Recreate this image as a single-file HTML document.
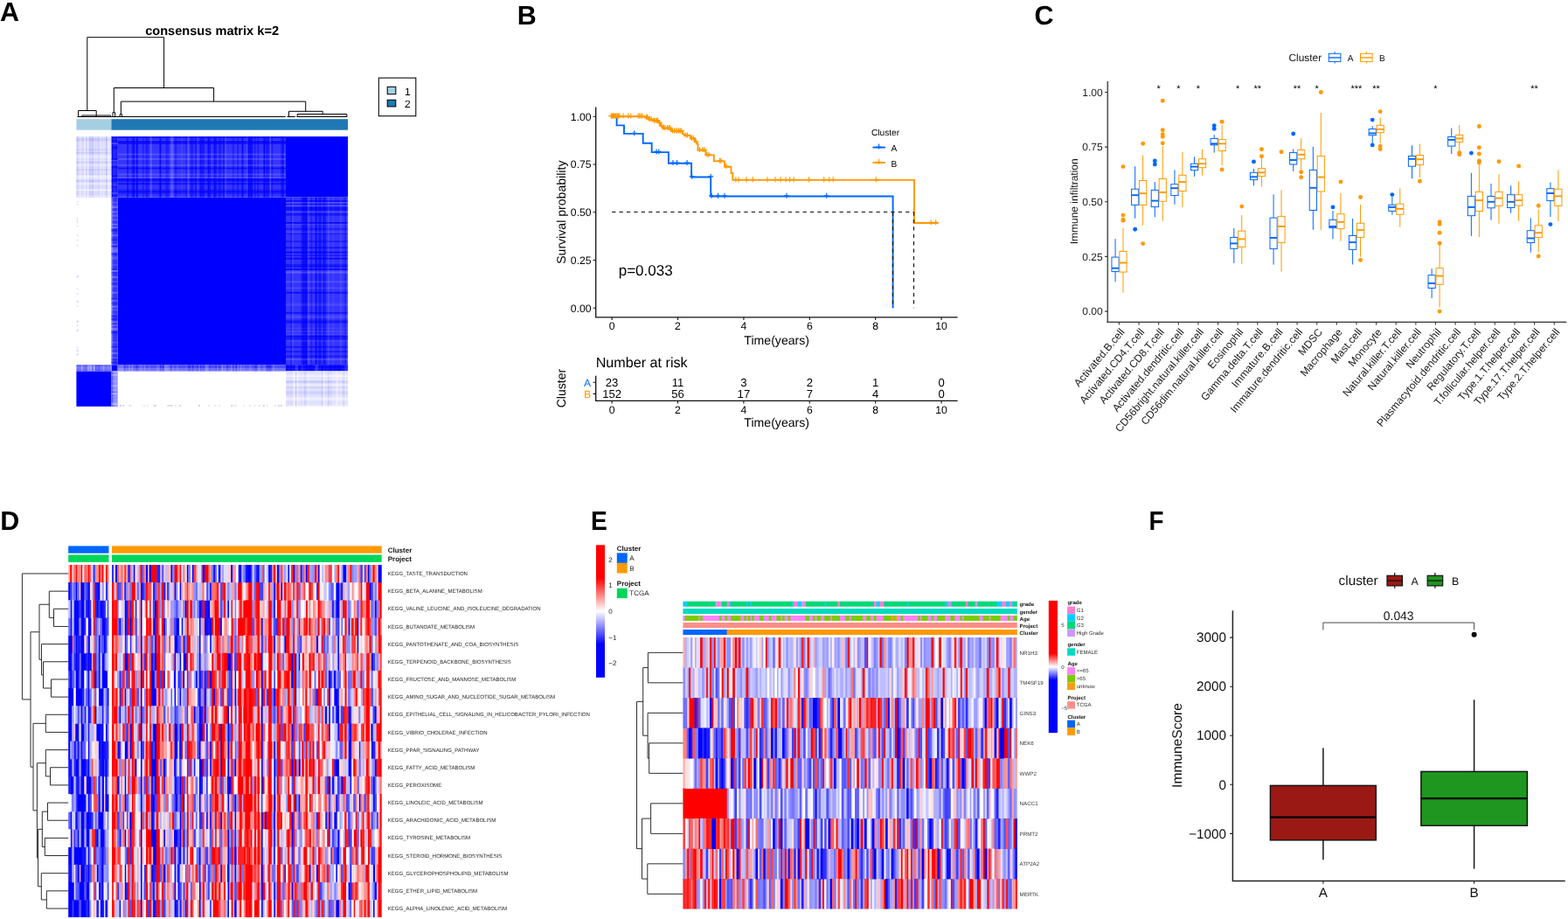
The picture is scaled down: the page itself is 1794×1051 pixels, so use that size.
<!DOCTYPE html>
<html lang="en">
<head>
<meta charset="utf-8">
<title>Figure</title>
<style>
html,body{margin:0;padding:0;background:#fff;}
body{width:1794px;height:1051px;overflow:hidden;}
svg{display:block;font-family:'Liberation Sans', Arial, sans-serif;}
text{white-space:pre;text-rendering:geometricPrecision;}
</style>
</head>
<body>
<svg width="1794" height="1051" viewBox="0 0 1794 1051">
<rect width="1794" height="1051" fill="#fff"/>
<g id="panelA">
<text x="0" y="23.9" font-size="30.5" font-weight="bold">A</text>
<text x="242.6" y="40.3" font-size="14.6" text-anchor="middle" font-weight="bold">consensus matrix k=2</text>
<path d="M99.8 126.5V42.7H187.6V100.5M130.3 128.6V100.5H244.6V116.1M138.4 130.7V116.1H349.7V127.3M89.6 133.5V126.5H110.2V133.5M93.8 133.5V132H126.5V133.5M129 133.5V128.6H131.6V133.5M137.2 133.5V130.7H139.5V133.5M330.5 133.5V127.3H369.2V130.5M340.2 133.5V130.5H396.8V133.5M88.5 133.5H326.8M328.4 133.5H338M339.5 133.5H397.3" stroke="#000" stroke-width="1" fill="none"/>
<rect x="87.4" y="136.2" width="40" height="12.5" fill="#a6cee3"/>
<rect x="127.4" y="136.2" width="270.6" height="12.5" fill="#1f78b4"/>
<rect x="327" y="156.1" width="71.05" height="69.55" fill="#0000ff"/>
<rect x="134.6" y="225.6" width="192.45" height="191.75" fill="#0000ff"/>
<rect x="127.4" y="417.3" width="7.25" height="7.15" fill="#0000ff"/>
<rect x="87.4" y="424.4" width="40.05" height="40.45" fill="#0000ff"/>
<rect x="134.6" y="156.1" width="192.45" height="69.55" fill="#3535ff"/><g fill="#0000ff"><rect x="145.25" y="156.1" width="1.77" height="69.55" fill-opacity="0.63"/><rect x="150.58" y="156.1" width="1.77" height="69.55" fill-opacity="0.52"/><rect x="152.35" y="156.1" width="1.77" height="69.55" fill-opacity="0.8"/><rect x="155.9" y="156.1" width="1.77" height="69.55" fill-opacity="0.89"/><rect x="163" y="156.1" width="1.77" height="69.55" fill-opacity="0.36"/><rect x="166.55" y="156.1" width="1.77" height="69.55" fill-opacity="0.45"/><rect x="168.33" y="156.1" width="1.77" height="69.55" fill-opacity="0.37"/><rect x="182.53" y="156.1" width="1.77" height="69.55" fill-opacity="0.9"/><rect x="189.63" y="156.1" width="1.77" height="69.55" fill-opacity="0.48"/><rect x="191.4" y="156.1" width="1.77" height="69.55" fill-opacity="0.39"/><rect x="200.28" y="156.1" width="1.77" height="69.55" fill-opacity="0.47"/><rect x="212.7" y="156.1" width="1.77" height="69.55" fill-opacity="0.4"/><rect x="218.03" y="156.1" width="1.77" height="69.55" fill-opacity="0.49"/><rect x="219.8" y="156.1" width="1.77" height="69.55" fill-opacity="0.38"/><rect x="223.35" y="156.1" width="1.77" height="69.55" fill-opacity="0.66"/><rect x="228.68" y="156.1" width="1.77" height="69.55" fill-opacity="0.7"/><rect x="230.45" y="156.1" width="1.77" height="69.55" fill-opacity="0.58"/><rect x="232.23" y="156.1" width="1.77" height="69.55" fill-opacity="0.5"/><rect x="237.55" y="156.1" width="1.77" height="69.55" fill-opacity="0.84"/><rect x="239.33" y="156.1" width="1.77" height="69.55" fill-opacity="0.57"/><rect x="244.65" y="156.1" width="1.77" height="69.55" fill-opacity="0.89"/><rect x="246.43" y="156.1" width="1.77" height="69.55" fill-opacity="0.49"/><rect x="249.98" y="156.1" width="1.77" height="69.55" fill-opacity="0.51"/><rect x="251.75" y="156.1" width="1.77" height="69.55" fill-opacity="0.4"/><rect x="255.3" y="156.1" width="1.77" height="69.55" fill-opacity="0.68"/><rect x="265.95" y="156.1" width="1.77" height="69.55" fill-opacity="0.43"/><rect x="271.28" y="156.1" width="1.77" height="69.55" fill-opacity="0.45"/><rect x="276.6" y="156.1" width="1.77" height="69.55" fill-opacity="0.87"/><rect x="283.7" y="156.1" width="1.77" height="69.55" fill-opacity="0.88"/><rect x="285.48" y="156.1" width="1.77" height="69.55" fill-opacity="0.74"/><rect x="287.25" y="156.1" width="1.77" height="69.55" fill-opacity="0.8"/><rect x="290.8" y="156.1" width="1.77" height="69.55" fill-opacity="0.45"/><rect x="294.35" y="156.1" width="1.77" height="69.55" fill-opacity="0.48"/><rect x="301.45" y="156.1" width="1.77" height="69.55" fill-opacity="0.85"/><rect x="303.22" y="156.1" width="1.77" height="69.55" fill-opacity="0.36"/><rect x="305" y="156.1" width="1.77" height="69.55" fill-opacity="0.6"/><rect x="306.77" y="156.1" width="1.77" height="69.55" fill-opacity="0.45"/><rect x="310.32" y="156.1" width="1.77" height="69.55" fill-opacity="0.55"/><rect x="320.97" y="156.1" width="1.77" height="69.55" fill-opacity="0.37"/><rect x="322.75" y="156.1" width="1.77" height="69.55" fill-opacity="0.85"/><rect x="134.6" y="156.1" width="192.45" height="1.77" fill-opacity="0.7"/><rect x="134.6" y="161.43" width="192.45" height="1.77" fill-opacity="0.9"/><rect x="134.6" y="163.2" width="192.45" height="1.77" fill-opacity="0.65"/><rect x="134.6" y="191.6" width="192.45" height="1.77" fill-opacity="0.7"/><rect x="134.6" y="204.03" width="192.45" height="1.77" fill-opacity="0.76"/><rect x="134.6" y="205.8" width="192.45" height="1.77" fill-opacity="0.68"/><rect x="134.6" y="209.35" width="192.45" height="1.77" fill-opacity="0.73"/><rect x="134.6" y="216.45" width="192.45" height="1.77" fill-opacity="0.36"/><rect x="134.6" y="218.23" width="192.45" height="1.77" fill-opacity="0.72"/><rect x="134.6" y="220" width="192.45" height="1.77" fill-opacity="0.44"/></g><g fill="#fff"><rect x="171.88" y="156.1" width="1.77" height="69.55" fill-opacity="0.18"/><rect x="194.95" y="156.1" width="1.77" height="69.55" fill-opacity="0.18"/><rect x="196.73" y="156.1" width="1.77" height="69.55" fill-opacity="0.19"/><rect x="207.38" y="156.1" width="1.77" height="69.55" fill-opacity="0.06"/><rect x="214.48" y="156.1" width="1.77" height="69.55" fill-opacity="0.19"/><rect x="225.13" y="156.1" width="1.77" height="69.55" fill-opacity="0.08"/><rect x="257.08" y="156.1" width="1.77" height="69.55" fill-opacity="0.12"/><rect x="281.93" y="156.1" width="1.77" height="69.55" fill-opacity="0.07"/><rect x="308.55" y="156.1" width="1.77" height="69.55" fill-opacity="0.14"/><rect x="134.6" y="175.63" width="192.45" height="1.77" fill-opacity="0.15"/><rect x="134.6" y="180.95" width="192.45" height="1.77" fill-opacity="0.17"/><rect x="134.6" y="188.05" width="192.45" height="1.77" fill-opacity="0.14"/><rect x="134.6" y="198.7" width="192.45" height="1.77" fill-opacity="0.16"/><rect x="134.6" y="202.25" width="192.45" height="1.77" fill-opacity="0.18"/><rect x="134.6" y="225.33" width="192.45" height="0.27" fill-opacity="0.18"/></g>
<rect x="327" y="225.6" width="71.05" height="191.75" fill="#3535ff"/><g fill="#0000ff"><rect x="332.32" y="225.6" width="1.77" height="191.75" fill-opacity="0.36"/><rect x="344.75" y="225.6" width="1.77" height="191.75" fill-opacity="0.59"/><rect x="346.52" y="225.6" width="1.77" height="191.75" fill-opacity="0.85"/><rect x="348.3" y="225.6" width="1.77" height="191.75" fill-opacity="0.8"/><rect x="350.07" y="225.6" width="1.77" height="191.75" fill-opacity="0.73"/><rect x="355.4" y="225.6" width="1.77" height="191.75" fill-opacity="0.38"/><rect x="360.72" y="225.6" width="1.77" height="191.75" fill-opacity="0.89"/><rect x="364.27" y="225.6" width="1.77" height="191.75" fill-opacity="0.58"/><rect x="366.05" y="225.6" width="1.77" height="191.75" fill-opacity="0.52"/><rect x="369.6" y="225.6" width="1.77" height="191.75" fill-opacity="0.73"/><rect x="371.37" y="225.6" width="1.77" height="191.75" fill-opacity="0.44"/><rect x="394.45" y="225.6" width="1.77" height="191.75" fill-opacity="0.48"/><rect x="327" y="229.15" width="71.05" height="1.77" fill-opacity="0.8"/><rect x="327" y="232.7" width="71.05" height="1.77" fill-opacity="0.58"/><rect x="327" y="236.25" width="71.05" height="1.77" fill-opacity="0.65"/><rect x="327" y="238.03" width="71.05" height="1.77" fill-opacity="0.73"/><rect x="327" y="239.8" width="71.05" height="1.77" fill-opacity="0.5"/><rect x="327" y="243.35" width="71.05" height="1.77" fill-opacity="0.6"/><rect x="327" y="245.13" width="71.05" height="1.77" fill-opacity="0.51"/><rect x="327" y="254" width="71.05" height="1.77" fill-opacity="0.86"/><rect x="327" y="261.1" width="71.05" height="1.77" fill-opacity="0.5"/><rect x="327" y="266.42" width="71.05" height="1.77" fill-opacity="0.37"/><rect x="327" y="275.3" width="71.05" height="1.77" fill-opacity="0.53"/><rect x="327" y="282.4" width="71.05" height="1.77" fill-opacity="0.64"/><rect x="327" y="287.72" width="71.05" height="1.77" fill-opacity="0.87"/><rect x="327" y="291.27" width="71.05" height="1.77" fill-opacity="0.51"/><rect x="327" y="294.82" width="71.05" height="1.77" fill-opacity="0.87"/><rect x="327" y="301.92" width="71.05" height="1.77" fill-opacity="0.51"/><rect x="327" y="303.7" width="71.05" height="1.77" fill-opacity="0.73"/><rect x="327" y="307.25" width="71.05" height="1.77" fill-opacity="0.84"/><rect x="327" y="333.87" width="71.05" height="1.77" fill-opacity="0.74"/><rect x="327" y="356.95" width="71.05" height="1.77" fill-opacity="0.64"/><rect x="327" y="365.82" width="71.05" height="1.77" fill-opacity="0.4"/><rect x="327" y="367.6" width="71.05" height="1.77" fill-opacity="0.73"/><rect x="327" y="383.57" width="71.05" height="1.77" fill-opacity="0.87"/><rect x="327" y="385.35" width="71.05" height="1.77" fill-opacity="0.55"/><rect x="327" y="387.12" width="71.05" height="1.77" fill-opacity="0.46"/><rect x="327" y="396" width="71.05" height="1.77" fill-opacity="0.61"/><rect x="327" y="401.32" width="71.05" height="1.77" fill-opacity="0.6"/><rect x="327" y="406.65" width="71.05" height="1.77" fill-opacity="0.65"/></g><g fill="#fff"><rect x="334.1" y="225.6" width="1.77" height="191.75" fill-opacity="0.09"/><rect x="351.85" y="225.6" width="1.77" height="191.75" fill-opacity="0.11"/><rect x="374.92" y="225.6" width="1.77" height="191.75" fill-opacity="0.11"/><rect x="380.25" y="225.6" width="1.77" height="191.75" fill-opacity="0.05"/><rect x="389.12" y="225.6" width="1.77" height="191.75" fill-opacity="0.1"/><rect x="396.22" y="225.6" width="1.77" height="191.75" fill-opacity="0.13"/><rect x="327" y="230.93" width="71.05" height="1.77" fill-opacity="0.13"/><rect x="327" y="234.48" width="71.05" height="1.77" fill-opacity="0.17"/><rect x="327" y="241.58" width="71.05" height="1.77" fill-opacity="0.15"/><rect x="327" y="255.78" width="71.05" height="1.77" fill-opacity="0.08"/><rect x="327" y="264.65" width="71.05" height="1.77" fill-opacity="0.09"/><rect x="327" y="309.02" width="71.05" height="1.77" fill-opacity="0.09"/><rect x="327" y="310.8" width="71.05" height="1.77" fill-opacity="0.2"/><rect x="327" y="321.45" width="71.05" height="1.77" fill-opacity="0.14"/><rect x="327" y="328.55" width="71.05" height="1.77" fill-opacity="0.11"/><rect x="327" y="346.3" width="71.05" height="1.77" fill-opacity="0.06"/><rect x="327" y="348.07" width="71.05" height="1.77" fill-opacity="0.1"/><rect x="327" y="360.5" width="71.05" height="1.77" fill-opacity="0.09"/><rect x="327" y="362.27" width="71.05" height="1.77" fill-opacity="0.1"/><rect x="327" y="374.7" width="71.05" height="1.77" fill-opacity="0.05"/><rect x="327" y="378.25" width="71.05" height="1.77" fill-opacity="0.08"/><rect x="327" y="381.8" width="71.05" height="1.77" fill-opacity="0.09"/><rect x="327" y="388.9" width="71.05" height="1.77" fill-opacity="0.08"/><rect x="327" y="410.2" width="71.05" height="1.77" fill-opacity="0.15"/></g>
<rect x="127.4" y="156.1" width="7.25" height="69.55" fill="#2626ff"/><g fill="#0000ff"><rect x="127.4" y="156.1" width="1.77" height="69.55" fill-opacity="0.64"/><rect x="132.73" y="156.1" width="1.77" height="69.55" fill-opacity="0.42"/><rect x="127.4" y="156.1" width="7.25" height="1.77" fill-opacity="0.41"/><rect x="127.4" y="159.65" width="7.25" height="1.77" fill-opacity="0.57"/><rect x="127.4" y="161.43" width="7.25" height="1.77" fill-opacity="0.45"/><rect x="127.4" y="166.75" width="7.25" height="1.77" fill-opacity="0.44"/><rect x="127.4" y="168.53" width="7.25" height="1.77" fill-opacity="0.74"/><rect x="127.4" y="180.95" width="7.25" height="1.77" fill-opacity="0.72"/><rect x="127.4" y="189.83" width="7.25" height="1.77" fill-opacity="0.71"/><rect x="127.4" y="200.48" width="7.25" height="1.77" fill-opacity="0.64"/><rect x="127.4" y="204.03" width="7.25" height="1.77" fill-opacity="0.56"/><rect x="127.4" y="205.8" width="7.25" height="1.77" fill-opacity="0.53"/><rect x="127.4" y="212.9" width="7.25" height="1.77" fill-opacity="0.4"/><rect x="127.4" y="223.55" width="7.25" height="1.77" fill-opacity="0.37"/></g><g fill="#fff"><rect x="127.4" y="163.2" width="7.25" height="1.77" fill-opacity="0.18"/><rect x="127.4" y="182.73" width="7.25" height="1.77" fill-opacity="0.16"/><rect x="127.4" y="186.28" width="7.25" height="1.77" fill-opacity="0.1"/><rect x="127.4" y="188.05" width="7.25" height="1.77" fill-opacity="0.1"/><rect x="127.4" y="202.25" width="7.25" height="1.77" fill-opacity="0.08"/><rect x="127.4" y="209.35" width="7.25" height="1.77" fill-opacity="0.07"/><rect x="127.4" y="211.13" width="7.25" height="1.77" fill-opacity="0.09"/><rect x="127.4" y="214.68" width="7.25" height="1.77" fill-opacity="0.06"/><rect x="127.4" y="220" width="7.25" height="1.77" fill-opacity="0.16"/></g>
<rect x="327" y="417.3" width="71.05" height="7.15" fill="#1a1aff"/><g fill="#0000ff"><rect x="327" y="417.3" width="1.77" height="7.15" fill-opacity="0.65"/><rect x="332.32" y="417.3" width="1.77" height="7.15" fill-opacity="0.43"/><rect x="341.2" y="417.3" width="1.77" height="7.15" fill-opacity="0.41"/><rect x="350.07" y="417.3" width="1.77" height="7.15" fill-opacity="0.58"/><rect x="353.62" y="417.3" width="1.77" height="7.15" fill-opacity="0.63"/><rect x="355.4" y="417.3" width="1.77" height="7.15" fill-opacity="0.47"/><rect x="357.17" y="417.3" width="1.77" height="7.15" fill-opacity="0.4"/><rect x="367.82" y="417.3" width="1.77" height="7.15" fill-opacity="0.59"/><rect x="371.37" y="417.3" width="1.77" height="7.15" fill-opacity="0.35"/><rect x="376.7" y="417.3" width="1.77" height="7.15" fill-opacity="0.53"/><rect x="378.47" y="417.3" width="1.77" height="7.15" fill-opacity="0.7"/><rect x="382.02" y="417.3" width="1.77" height="7.15" fill-opacity="0.71"/><rect x="383.8" y="417.3" width="1.77" height="7.15" fill-opacity="0.44"/><rect x="385.57" y="417.3" width="1.77" height="7.15" fill-opacity="0.67"/><rect x="387.35" y="417.3" width="1.77" height="7.15" fill-opacity="0.56"/><rect x="389.12" y="417.3" width="1.77" height="7.15" fill-opacity="0.54"/><rect x="327" y="417.3" width="71.05" height="1.77" fill-opacity="0.54"/><rect x="327" y="419.07" width="71.05" height="1.77" fill-opacity="0.73"/><rect x="327" y="422.62" width="71.05" height="1.77" fill-opacity="0.37"/></g><g fill="#fff"><rect x="337.65" y="417.3" width="1.77" height="7.15" fill-opacity="0.15"/><rect x="339.42" y="417.3" width="1.77" height="7.15" fill-opacity="0.17"/><rect x="344.75" y="417.3" width="1.77" height="7.15" fill-opacity="0.09"/><rect x="360.72" y="417.3" width="1.77" height="7.15" fill-opacity="0.2"/><rect x="362.5" y="417.3" width="1.77" height="7.15" fill-opacity="0.14"/><rect x="394.45" y="417.3" width="1.77" height="7.15" fill-opacity="0.12"/><rect x="396.22" y="417.3" width="1.77" height="7.15" fill-opacity="0.14"/></g>
<rect x="127.4" y="225.6" width="7.25" height="191.75" fill="#6262ff"/><g fill="#0000ff"><rect x="129.18" y="225.6" width="1.77" height="191.75" fill-opacity="0.42"/><rect x="130.95" y="225.6" width="1.77" height="191.75" fill-opacity="0.5"/><rect x="132.73" y="225.6" width="1.77" height="191.75" fill-opacity="0.46"/><rect x="127.4" y="261.1" width="7.25" height="1.77" fill-opacity="0.24"/><rect x="127.4" y="262.88" width="7.25" height="1.77" fill-opacity="0.48"/><rect x="127.4" y="271.75" width="7.25" height="1.77" fill-opacity="0.23"/><rect x="127.4" y="273.52" width="7.25" height="1.77" fill-opacity="0.34"/><rect x="127.4" y="280.62" width="7.25" height="1.77" fill-opacity="0.48"/><rect x="127.4" y="289.5" width="7.25" height="1.77" fill-opacity="0.47"/><rect x="127.4" y="307.25" width="7.25" height="1.77" fill-opacity="0.35"/><rect x="127.4" y="310.8" width="7.25" height="1.77" fill-opacity="0.22"/><rect x="127.4" y="323.22" width="7.25" height="1.77" fill-opacity="0.3"/><rect x="127.4" y="340.97" width="7.25" height="1.77" fill-opacity="0.4"/><rect x="127.4" y="346.3" width="7.25" height="1.77" fill-opacity="0.27"/><rect x="127.4" y="360.5" width="7.25" height="1.77" fill-opacity="0.46"/><rect x="127.4" y="364.05" width="7.25" height="1.77" fill-opacity="0.45"/><rect x="127.4" y="369.37" width="7.25" height="1.77" fill-opacity="0.23"/><rect x="127.4" y="378.25" width="7.25" height="1.77" fill-opacity="0.43"/><rect x="127.4" y="380.02" width="7.25" height="1.77" fill-opacity="0.4"/><rect x="127.4" y="396" width="7.25" height="1.77" fill-opacity="0.36"/><rect x="127.4" y="410.2" width="7.25" height="1.77" fill-opacity="0.28"/><rect x="127.4" y="413.75" width="7.25" height="1.77" fill-opacity="0.47"/></g><g fill="#fff"><rect x="127.4" y="230.93" width="7.25" height="1.77" fill-opacity="0.17"/><rect x="127.4" y="234.48" width="7.25" height="1.77" fill-opacity="0.15"/><rect x="127.4" y="236.25" width="7.25" height="1.77" fill-opacity="0.27"/><rect x="127.4" y="241.58" width="7.25" height="1.77" fill-opacity="0.28"/><rect x="127.4" y="245.13" width="7.25" height="1.77" fill-opacity="0.19"/><rect x="127.4" y="246.9" width="7.25" height="1.77" fill-opacity="0.12"/><rect x="127.4" y="250.45" width="7.25" height="1.77" fill-opacity="0.21"/><rect x="127.4" y="255.78" width="7.25" height="1.77" fill-opacity="0.27"/><rect x="127.4" y="259.33" width="7.25" height="1.77" fill-opacity="0.29"/><rect x="127.4" y="268.2" width="7.25" height="1.77" fill-opacity="0.2"/><rect x="127.4" y="278.85" width="7.25" height="1.77" fill-opacity="0.2"/><rect x="127.4" y="282.4" width="7.25" height="1.77" fill-opacity="0.15"/><rect x="127.4" y="284.17" width="7.25" height="1.77" fill-opacity="0.26"/><rect x="127.4" y="285.95" width="7.25" height="1.77" fill-opacity="0.28"/><rect x="127.4" y="287.72" width="7.25" height="1.77" fill-opacity="0.19"/><rect x="127.4" y="293.05" width="7.25" height="1.77" fill-opacity="0.12"/><rect x="127.4" y="294.82" width="7.25" height="1.77" fill-opacity="0.18"/><rect x="127.4" y="301.92" width="7.25" height="1.77" fill-opacity="0.11"/><rect x="127.4" y="309.02" width="7.25" height="1.77" fill-opacity="0.3"/><rect x="127.4" y="316.12" width="7.25" height="1.77" fill-opacity="0.26"/><rect x="127.4" y="321.45" width="7.25" height="1.77" fill-opacity="0.12"/><rect x="127.4" y="326.77" width="7.25" height="1.77" fill-opacity="0.17"/><rect x="127.4" y="333.87" width="7.25" height="1.77" fill-opacity="0.26"/><rect x="127.4" y="342.75" width="7.25" height="1.77" fill-opacity="0.18"/><rect x="127.4" y="349.85" width="7.25" height="1.77" fill-opacity="0.28"/><rect x="127.4" y="353.4" width="7.25" height="1.77" fill-opacity="0.16"/><rect x="127.4" y="358.72" width="7.25" height="1.77" fill-opacity="0.11"/><rect x="127.4" y="367.6" width="7.25" height="1.77" fill-opacity="0.28"/><rect x="127.4" y="371.15" width="7.25" height="1.77" fill-opacity="0.25"/><rect x="127.4" y="374.7" width="7.25" height="1.77" fill-opacity="0.28"/><rect x="127.4" y="376.47" width="7.25" height="1.77" fill-opacity="0.26"/><rect x="127.4" y="390.67" width="7.25" height="1.77" fill-opacity="0.15"/><rect x="127.4" y="397.77" width="7.25" height="1.77" fill-opacity="0.13"/><rect x="127.4" y="403.1" width="7.25" height="1.77" fill-opacity="0.27"/><rect x="127.4" y="408.42" width="7.25" height="1.77" fill-opacity="0.15"/></g>
<rect x="134.6" y="417.3" width="192.45" height="7.15" fill="#4c4cff"/><g fill="#0000ff"><rect x="141.7" y="417.3" width="1.77" height="7.15" fill-opacity="0.29"/><rect x="155.9" y="417.3" width="1.77" height="7.15" fill-opacity="0.34"/><rect x="182.53" y="417.3" width="1.77" height="7.15" fill-opacity="0.41"/><rect x="186.08" y="417.3" width="1.77" height="7.15" fill-opacity="0.45"/><rect x="194.95" y="417.3" width="1.77" height="7.15" fill-opacity="0.27"/><rect x="214.48" y="417.3" width="1.77" height="7.15" fill-opacity="0.24"/><rect x="216.25" y="417.3" width="1.77" height="7.15" fill-opacity="0.39"/><rect x="219.8" y="417.3" width="1.77" height="7.15" fill-opacity="0.41"/><rect x="225.13" y="417.3" width="1.77" height="7.15" fill-opacity="0.39"/><rect x="228.68" y="417.3" width="1.77" height="7.15" fill-opacity="0.36"/><rect x="232.23" y="417.3" width="1.77" height="7.15" fill-opacity="0.24"/><rect x="239.33" y="417.3" width="1.77" height="7.15" fill-opacity="0.26"/><rect x="246.43" y="417.3" width="1.77" height="7.15" fill-opacity="0.26"/><rect x="249.98" y="417.3" width="1.77" height="7.15" fill-opacity="0.33"/><rect x="258.85" y="417.3" width="1.77" height="7.15" fill-opacity="0.4"/><rect x="265.95" y="417.3" width="1.77" height="7.15" fill-opacity="0.29"/><rect x="269.5" y="417.3" width="1.77" height="7.15" fill-opacity="0.5"/><rect x="290.8" y="417.3" width="1.77" height="7.15" fill-opacity="0.3"/><rect x="292.57" y="417.3" width="1.77" height="7.15" fill-opacity="0.41"/><rect x="305" y="417.3" width="1.77" height="7.15" fill-opacity="0.47"/><rect x="306.77" y="417.3" width="1.77" height="7.15" fill-opacity="0.39"/><rect x="308.55" y="417.3" width="1.77" height="7.15" fill-opacity="0.49"/></g><g fill="#fff"><rect x="134.6" y="417.3" width="1.77" height="7.15" fill-opacity="0.2"/><rect x="136.38" y="417.3" width="1.77" height="7.15" fill-opacity="0.19"/><rect x="138.15" y="417.3" width="1.77" height="7.15" fill-opacity="0.23"/><rect x="139.93" y="417.3" width="1.77" height="7.15" fill-opacity="0.23"/><rect x="143.48" y="417.3" width="1.77" height="7.15" fill-opacity="0.13"/><rect x="147.03" y="417.3" width="1.77" height="7.15" fill-opacity="0.26"/><rect x="150.58" y="417.3" width="1.77" height="7.15" fill-opacity="0.28"/><rect x="159.45" y="417.3" width="1.77" height="7.15" fill-opacity="0.14"/><rect x="161.23" y="417.3" width="1.77" height="7.15" fill-opacity="0.15"/><rect x="164.78" y="417.3" width="1.77" height="7.15" fill-opacity="0.18"/><rect x="170.1" y="417.3" width="1.77" height="7.15" fill-opacity="0.11"/><rect x="178.98" y="417.3" width="1.77" height="7.15" fill-opacity="0.13"/><rect x="180.75" y="417.3" width="1.77" height="7.15" fill-opacity="0.19"/><rect x="187.85" y="417.3" width="1.77" height="7.15" fill-opacity="0.28"/><rect x="189.63" y="417.3" width="1.77" height="7.15" fill-opacity="0.26"/><rect x="191.4" y="417.3" width="1.77" height="7.15" fill-opacity="0.22"/><rect x="193.18" y="417.3" width="1.77" height="7.15" fill-opacity="0.1"/><rect x="196.73" y="417.3" width="1.77" height="7.15" fill-opacity="0.17"/><rect x="202.05" y="417.3" width="1.77" height="7.15" fill-opacity="0.16"/><rect x="212.7" y="417.3" width="1.77" height="7.15" fill-opacity="0.12"/><rect x="226.9" y="417.3" width="1.77" height="7.15" fill-opacity="0.14"/><rect x="234" y="417.3" width="1.77" height="7.15" fill-opacity="0.11"/><rect x="235.78" y="417.3" width="1.77" height="7.15" fill-opacity="0.25"/><rect x="237.55" y="417.3" width="1.77" height="7.15" fill-opacity="0.11"/><rect x="248.2" y="417.3" width="1.77" height="7.15" fill-opacity="0.12"/><rect x="253.53" y="417.3" width="1.77" height="7.15" fill-opacity="0.28"/><rect x="257.08" y="417.3" width="1.77" height="7.15" fill-opacity="0.14"/><rect x="264.18" y="417.3" width="1.77" height="7.15" fill-opacity="0.19"/><rect x="267.73" y="417.3" width="1.77" height="7.15" fill-opacity="0.12"/><rect x="271.28" y="417.3" width="1.77" height="7.15" fill-opacity="0.2"/><rect x="274.83" y="417.3" width="1.77" height="7.15" fill-opacity="0.22"/><rect x="278.38" y="417.3" width="1.77" height="7.15" fill-opacity="0.12"/><rect x="285.48" y="417.3" width="1.77" height="7.15" fill-opacity="0.19"/><rect x="294.35" y="417.3" width="1.77" height="7.15" fill-opacity="0.18"/><rect x="296.12" y="417.3" width="1.77" height="7.15" fill-opacity="0.19"/><rect x="301.45" y="417.3" width="1.77" height="7.15" fill-opacity="0.18"/><rect x="312.1" y="417.3" width="1.77" height="7.15" fill-opacity="0.2"/><rect x="134.6" y="420.85" width="192.45" height="1.77" fill-opacity="0.22"/><rect x="134.6" y="422.62" width="192.45" height="1.77" fill-opacity="0.24"/></g>
<rect x="87.4" y="417.3" width="40.05" height="7.15" fill="#7878ff"/><g fill="#0000ff"><rect x="98.05" y="417.3" width="1.77" height="7.15" fill-opacity="0.11"/><rect x="108.7" y="417.3" width="1.77" height="7.15" fill-opacity="0.26"/><rect x="112.25" y="417.3" width="1.77" height="7.15" fill-opacity="0.24"/><rect x="87.4" y="417.3" width="40.05" height="1.77" fill-opacity="0.26"/><rect x="87.4" y="422.62" width="40.05" height="1.77" fill-opacity="0.17"/></g><g fill="#fff"><rect x="92.73" y="417.3" width="1.77" height="7.15" fill-opacity="0.33"/><rect x="99.83" y="417.3" width="1.77" height="7.15" fill-opacity="0.32"/><rect x="101.6" y="417.3" width="1.77" height="7.15" fill-opacity="0.25"/><rect x="103.38" y="417.3" width="1.77" height="7.15" fill-opacity="0.35"/><rect x="106.93" y="417.3" width="1.77" height="7.15" fill-opacity="0.4"/><rect x="117.58" y="417.3" width="1.77" height="7.15" fill-opacity="0.26"/><rect x="122.9" y="417.3" width="1.77" height="7.15" fill-opacity="0.12"/><rect x="126.45" y="417.3" width="0.95" height="7.15" fill-opacity="0.4"/></g>
<rect x="127.4" y="424.4" width="7.25" height="40.45" fill="#7575ff"/><g fill="#0000ff"><rect x="127.4" y="424.4" width="1.77" height="40.45" fill-opacity="0.23"/><rect x="127.4" y="447.47" width="7.25" height="1.77" fill-opacity="0.3"/><rect x="127.4" y="463.45" width="7.25" height="1.35" fill-opacity="0.24"/></g><g fill="#fff"><rect x="129.18" y="424.4" width="1.77" height="40.45" fill-opacity="0.16"/><rect x="130.95" y="424.4" width="1.77" height="40.45" fill-opacity="0.25"/><rect x="132.73" y="424.4" width="1.77" height="40.45" fill-opacity="0.24"/><rect x="127.4" y="424.4" width="7.25" height="1.77" fill-opacity="0.18"/><rect x="127.4" y="427.95" width="7.25" height="1.77" fill-opacity="0.3"/><rect x="127.4" y="435.05" width="7.25" height="1.77" fill-opacity="0.17"/><rect x="127.4" y="440.37" width="7.25" height="1.77" fill-opacity="0.3"/><rect x="127.4" y="445.7" width="7.25" height="1.77" fill-opacity="0.19"/><rect x="127.4" y="449.25" width="7.25" height="1.77" fill-opacity="0.32"/><rect x="127.4" y="459.9" width="7.25" height="1.77" fill-opacity="0.13"/><rect x="127.4" y="461.67" width="7.25" height="1.77" fill-opacity="0.38"/></g>
<rect x="87.4" y="156.1" width="40.05" height="69.55" fill="#dcdcff"/><g fill="#0000ff"><rect x="87.4" y="156.1" width="1.77" height="69.55" fill-opacity="0.08"/><rect x="98.05" y="156.1" width="1.77" height="69.55" fill-opacity="0.03"/><rect x="101.6" y="156.1" width="1.77" height="69.55" fill-opacity="0.09"/><rect x="103.38" y="156.1" width="1.77" height="69.55" fill-opacity="0.05"/><rect x="105.15" y="156.1" width="1.77" height="69.55" fill-opacity="0.1"/><rect x="112.25" y="156.1" width="1.77" height="69.55" fill-opacity="0.05"/><rect x="121.13" y="156.1" width="1.77" height="69.55" fill-opacity="0.09"/><rect x="126.45" y="156.1" width="0.95" height="69.55" fill-opacity="0.03"/><rect x="87.4" y="157.88" width="40.05" height="1.77" fill-opacity="0.08"/><rect x="87.4" y="159.65" width="40.05" height="1.77" fill-opacity="0.1"/><rect x="87.4" y="170.3" width="40.05" height="1.77" fill-opacity="0.06"/><rect x="87.4" y="173.85" width="40.05" height="1.77" fill-opacity="0.09"/><rect x="87.4" y="184.5" width="40.05" height="1.77" fill-opacity="0.08"/><rect x="87.4" y="193.38" width="40.05" height="1.77" fill-opacity="0.07"/><rect x="87.4" y="198.7" width="40.05" height="1.77" fill-opacity="0.04"/><rect x="87.4" y="205.8" width="40.05" height="1.77" fill-opacity="0.09"/><rect x="87.4" y="225.33" width="40.05" height="0.27" fill-opacity="0.09"/></g><g fill="#fff"><rect x="90.95" y="156.1" width="1.77" height="69.55" fill-opacity="0.29"/><rect x="96.28" y="156.1" width="1.77" height="69.55" fill-opacity="0.4"/><rect x="99.83" y="156.1" width="1.77" height="69.55" fill-opacity="0.43"/><rect x="114.03" y="156.1" width="1.77" height="69.55" fill-opacity="0.25"/><rect x="117.58" y="156.1" width="1.77" height="69.55" fill-opacity="0.26"/><rect x="122.9" y="156.1" width="1.77" height="69.55" fill-opacity="0.42"/><rect x="124.68" y="156.1" width="1.77" height="69.55" fill-opacity="0.39"/><rect x="87.4" y="177.4" width="40.05" height="1.77" fill-opacity="0.35"/><rect x="87.4" y="179.18" width="40.05" height="1.77" fill-opacity="0.35"/><rect x="87.4" y="182.73" width="40.05" height="1.77" fill-opacity="0.21"/><rect x="87.4" y="188.05" width="40.05" height="1.77" fill-opacity="0.4"/><rect x="87.4" y="200.48" width="40.05" height="1.77" fill-opacity="0.57"/><rect x="87.4" y="202.25" width="40.05" height="1.77" fill-opacity="0.44"/><rect x="87.4" y="204.03" width="40.05" height="1.77" fill-opacity="0.24"/><rect x="87.4" y="209.35" width="40.05" height="1.77" fill-opacity="0.47"/><rect x="87.4" y="216.45" width="40.05" height="1.77" fill-opacity="0.6"/><rect x="87.4" y="223.55" width="40.05" height="1.77" fill-opacity="0.35"/></g>
<rect x="327" y="424.4" width="71.05" height="40.45" fill="#e0e0ff"/><g fill="#0000ff"><rect x="328.77" y="424.4" width="1.77" height="40.45" fill-opacity="0.03"/><rect x="332.32" y="424.4" width="1.77" height="40.45" fill-opacity="0.04"/><rect x="337.65" y="424.4" width="1.77" height="40.45" fill-opacity="0.1"/><rect x="348.3" y="424.4" width="1.77" height="40.45" fill-opacity="0.09"/><rect x="367.82" y="424.4" width="1.77" height="40.45" fill-opacity="0.1"/><rect x="374.92" y="424.4" width="1.77" height="40.45" fill-opacity="0.09"/><rect x="378.47" y="424.4" width="1.77" height="40.45" fill-opacity="0.03"/><rect x="392.67" y="424.4" width="1.77" height="40.45" fill-opacity="0.07"/><rect x="327" y="435.05" width="71.05" height="1.77" fill-opacity="0.09"/><rect x="327" y="436.82" width="71.05" height="1.77" fill-opacity="0.07"/><rect x="327" y="442.15" width="71.05" height="1.77" fill-opacity="0.07"/><rect x="327" y="447.47" width="71.05" height="1.77" fill-opacity="0.08"/><rect x="327" y="449.25" width="71.05" height="1.77" fill-opacity="0.06"/></g><g fill="#fff"><rect x="335.87" y="424.4" width="1.77" height="40.45" fill-opacity="0.56"/><rect x="339.42" y="424.4" width="1.77" height="40.45" fill-opacity="0.44"/><rect x="351.85" y="424.4" width="1.77" height="40.45" fill-opacity="0.28"/><rect x="369.6" y="424.4" width="1.77" height="40.45" fill-opacity="0.51"/><rect x="380.25" y="424.4" width="1.77" height="40.45" fill-opacity="0.21"/><rect x="383.8" y="424.4" width="1.77" height="40.45" fill-opacity="0.41"/><rect x="385.57" y="424.4" width="1.77" height="40.45" fill-opacity="0.46"/><rect x="389.12" y="424.4" width="1.77" height="40.45" fill-opacity="0.35"/><rect x="394.45" y="424.4" width="1.77" height="40.45" fill-opacity="0.37"/><rect x="327" y="424.4" width="71.05" height="1.77" fill-opacity="0.24"/><rect x="327" y="427.95" width="71.05" height="1.77" fill-opacity="0.37"/><rect x="327" y="429.72" width="71.05" height="1.77" fill-opacity="0.57"/><rect x="327" y="433.27" width="71.05" height="1.77" fill-opacity="0.36"/><rect x="327" y="438.6" width="71.05" height="1.77" fill-opacity="0.33"/><rect x="327" y="440.37" width="71.05" height="1.77" fill-opacity="0.28"/><rect x="327" y="454.57" width="71.05" height="1.77" fill-opacity="0.54"/><rect x="327" y="456.35" width="71.05" height="1.77" fill-opacity="0.41"/><rect x="327" y="463.45" width="71.05" height="1.35" fill-opacity="0.49"/></g>
<g fill="#0000ff" fill-opacity="0.13"><rect x="87.7" y="344.52" width="1.8" height="1.8"/><rect x="87.7" y="366.83" width="1.8" height="1.8"/><rect x="87.7" y="376.86" width="1.8" height="1.8"/><rect x="87.7" y="404.5" width="1.8" height="1.8"/><rect x="87.7" y="366.48" width="1.8" height="1.8"/><rect x="87.7" y="400.72" width="1.8" height="1.8"/><rect x="87.7" y="233.04" width="1.8" height="1.8"/><rect x="87.7" y="315" width="1.8" height="1.8"/><rect x="87.7" y="404.67" width="1.8" height="1.8"/><rect x="87.7" y="349.41" width="1.8" height="1.8"/><rect x="87.7" y="396.7" width="1.8" height="1.8"/><rect x="87.7" y="248.85" width="1.8" height="1.8"/><rect x="87.7" y="315.64" width="1.8" height="1.8"/><rect x="87.7" y="273.88" width="1.8" height="1.8"/><rect x="87.7" y="329.66" width="1.8" height="1.8"/><rect x="87.7" y="335.33" width="1.8" height="1.8"/><rect x="87.7" y="230.06" width="1.8" height="1.8"/><rect x="87.7" y="268.28" width="1.8" height="1.8"/><rect x="87.7" y="280.06" width="1.8" height="1.8"/><rect x="87.7" y="399.6" width="1.8" height="1.8"/><rect x="87.7" y="371.33" width="1.8" height="1.8"/><rect x="87.7" y="257.56" width="1.8" height="1.8"/><rect x="87.7" y="377.22" width="1.8" height="1.8"/><rect x="87.7" y="253.65" width="1.8" height="1.8"/><rect x="87.7" y="343.5" width="1.8" height="1.8"/><rect x="87.7" y="251.38" width="1.8" height="1.8"/><rect x="136.93" y="463.1" width="1.8" height="1.6"/><rect x="300.77" y="463.1" width="1.8" height="1.6"/><rect x="176.06" y="463.1" width="1.8" height="1.6"/><rect x="177.2" y="463.1" width="1.8" height="1.6"/><rect x="321.69" y="463.1" width="1.8" height="1.6"/><rect x="300.96" y="463.1" width="1.8" height="1.6"/><rect x="191.11" y="463.1" width="1.8" height="1.6"/><rect x="317.74" y="463.1" width="1.8" height="1.6"/><rect x="238.19" y="463.1" width="1.8" height="1.6"/><rect x="264.3" y="463.1" width="1.8" height="1.6"/><rect x="175.18" y="463.1" width="1.8" height="1.6"/><rect x="313.88" y="463.1" width="1.8" height="1.6"/><rect x="266.72" y="463.1" width="1.8" height="1.6"/><rect x="318.7" y="463.1" width="1.8" height="1.6"/><rect x="304.98" y="463.1" width="1.8" height="1.6"/><rect x="192.89" y="463.1" width="1.8" height="1.6"/><rect x="204.65" y="463.1" width="1.8" height="1.6"/><rect x="167.87" y="463.1" width="1.8" height="1.6"/><rect x="164.05" y="463.1" width="1.8" height="1.6"/><rect x="148.87" y="463.1" width="1.8" height="1.6"/><rect x="193.38" y="463.1" width="1.8" height="1.6"/><rect x="250.23" y="463.1" width="1.8" height="1.6"/><rect x="137.24" y="463.1" width="1.8" height="1.6"/><rect x="264.32" y="463.1" width="1.8" height="1.6"/><rect x="200.26" y="463.1" width="1.8" height="1.6"/><rect x="195" y="463.1" width="1.8" height="1.6"/><rect x="290.81" y="463.1" width="1.8" height="1.6"/><rect x="227.17" y="463.1" width="1.8" height="1.6"/><rect x="196.1" y="463.1" width="1.8" height="1.6"/><rect x="227.26" y="463.1" width="1.8" height="1.6"/><rect x="269.36" y="463.1" width="1.8" height="1.6"/><rect x="147.34" y="463.1" width="1.8" height="1.6"/><rect x="320.31" y="463.1" width="1.8" height="1.6"/><rect x="140.91" y="463.1" width="1.8" height="1.6"/><rect x="277.86" y="463.1" width="1.8" height="1.6"/><rect x="295.78" y="463.1" width="1.8" height="1.6"/><rect x="140" y="463.1" width="1.8" height="1.6"/><rect x="285.01" y="463.1" width="1.8" height="1.6"/><rect x="205.59" y="463.1" width="1.8" height="1.6"/><rect x="245.59" y="463.1" width="1.8" height="1.6"/></g>
<rect x="433.3" y="89.1" width="42.5" height="43.6" fill="#fff" stroke="#000" stroke-width="1.05"/>
<rect x="443.2" y="99.3" width="9.6" height="8.4" fill="#a6cee3" stroke="#000" stroke-width="1.05"/>
<rect x="443.2" y="114.3" width="9.6" height="7.6" fill="#1f78b4" stroke="#000" stroke-width="1.05"/>
<text x="463" y="108.6" font-size="12" fill="#000">1</text>
<text x="463" y="123.2" font-size="12" fill="#000">2</text>
</g>
<g id="panelB">
<text x="591.7" y="28.1" font-size="30.5" font-weight="bold">B</text>
<path d="M681.7 122.5V362.9H1095.6" stroke="#111" stroke-width="1.3" fill="none"/>
<path d="M678.6 352.3H681.7M678.6 297.55H681.7M678.6 242.8H681.7M678.6 188.05H681.7M678.6 133.3H681.7M700.1 362.9V366M775.5 362.9V366M850.9 362.9V366M926.3 362.9V366M1001.7 362.9V366M1077.1 362.9V366" stroke="#111" stroke-width="1.1" fill="none"/>
<text x="676.6" y="356.5" font-size="12.2" text-anchor="end" fill="#000">0.00</text>
<text x="676.6" y="301.75" font-size="12.2" text-anchor="end" fill="#000">0.25</text>
<text x="676.6" y="247" font-size="12.2" text-anchor="end" fill="#000">0.50</text>
<text x="676.6" y="192.25" font-size="12.2" text-anchor="end" fill="#000">0.75</text>
<text x="676.6" y="137.5" font-size="12.2" text-anchor="end" fill="#000">1.00</text>
<text x="700.1" y="376.8" font-size="12.2" text-anchor="middle" fill="#000">0</text>
<text x="775.5" y="376.8" font-size="12.2" text-anchor="middle" fill="#000">2</text>
<text x="850.9" y="376.8" font-size="12.2" text-anchor="middle" fill="#000">4</text>
<text x="926.3" y="376.8" font-size="12.2" text-anchor="middle" fill="#000">6</text>
<text x="1001.7" y="376.8" font-size="12.2" text-anchor="middle" fill="#000">8</text>
<text x="1077.1" y="376.8" font-size="12.2" text-anchor="middle" fill="#000">10</text>
<text x="888.7" y="393.9" font-size="14.1" text-anchor="middle" fill="#000">Time(years)</text>
<text x="646.8" y="242.7" font-size="14.1" text-anchor="middle" fill="#000" transform="rotate(-90 646.8 242.7)">Survival probability</text>
<path d="M700.1 133.3L705.6 133.3L705.6 143.4L714 143.4L714 152.9L735.7 152.9L735.7 163.7L745.7 163.7L745.7 174.1L764.9 174.1L764.9 186.7L791.1 186.7L791.1 202.5L813.2 202.5L813.2 224.5L1021.6 224.5L1021.6 352.3" stroke="#0066ff" stroke-width="1.9" fill="none" stroke-linejoin="miter"/>
<path d="M725.7 149.2v6M722.7 152.2h6M751.1 170.4v6M748.1 173.4h6M753.8 170.4v6M750.8 173.4h6M770 183v6M767 186h6M774.5 183v6M771.5 186h6M786.1 183v6M783.1 186h6M791.7 198.8v6M788.7 201.8h6M813.2 198.8v6M810.2 201.8h6M814.1 220.8v6M811.1 223.8h6M821.5 220.8v6M818.5 223.8h6M829 220.8v6M826 223.8h6M900 220.8v6M897 223.8h6M945.7 220.8v6M942.7 223.8h6" stroke="#0066ff" stroke-width="1.15" fill="none"/>
<path d="M700.1 133.3L738 133.3L738 134.5L742 134.5L742 136.7L747 136.7L747 138.4L753.5 138.4L753.5 140.6L755.5 140.6L755.5 144L758 144L758 146.8L768 146.8L768 150.1L781 150.1L781 153.4L783 153.4L783 155.1L790 155.1L790 158.5L795 158.5L795 162.4L797.5 162.4L797.5 164.6L798.5 164.6L798.5 171.8L807.5 171.8L807.5 177.4L816.8 177.4L816.8 184.4L829 184.4L829 190.8L836.5 190.8L836.5 198L838.3 198L838.3 205.9L1046 205.9L1046 255L1073.7 255" stroke="#ff9900" stroke-width="1.9" fill="none" stroke-linejoin="miter"/>
<path d="M699.2 129.6v6M696.2 132.6h6M700.3 129.6v6M697.3 132.6h6M701.4 129.6v6M698.4 132.6h6M702.6 129.6v6M699.6 132.6h6M703.8 129.6v6M700.8 132.6h6M705 129.6v6M702 132.6h6M706.3 129.6v6M703.3 132.6h6M707.6 129.6v6M704.6 132.6h6M709 129.6v6M706 132.6h6M713.1 129.6v6M710.1 132.6h6M718.8 129.6v6M715.8 132.6h6M721.8 129.6v6M718.8 132.6h6M730 129.6v6M727 132.6h6M731.6 129.6v6M728.6 132.6h6M733.3 129.6v6M730.3 132.6h6M735 129.6v6M732 132.6h6M739.5 130.8v6M736.5 133.8h6M740.7 130.8v6M737.7 133.8h6M743.5 133v6M740.5 136h6M745.2 133v6M742.2 136h6M748.5 134.7v6M745.5 137.7h6M750 134.7v6M747 137.7h6M751.5 134.7v6M748.5 137.7h6M752.7 134.7v6M749.7 137.7h6M754.5 136.9v6M751.5 139.9h6M756.8 140.3v6M753.8 143.3h6M759.5 143.1v6M756.5 146.1h6M761 143.1v6M758 146.1h6M763.5 143.1v6M760.5 146.1h6M765 143.1v6M762 146.1h6M766.5 143.1v6M763.5 146.1h6M769.5 146.4v6M766.5 149.4h6M771.5 146.4v6M768.5 149.4h6M773.3 146.4v6M770.3 149.4h6M775 146.4v6M772 149.4h6M776.7 146.4v6M773.7 149.4h6M778.3 146.4v6M775.3 149.4h6M779.8 146.4v6M776.8 149.4h6M784.8 151.4v6M781.8 154.4h6M786.5 151.4v6M783.5 154.4h6M791.5 154.8v6M788.5 157.8h6M793.3 154.8v6M790.3 157.8h6M796.3 158.7v6M793.3 161.7h6M800.5 168.1v6M797.5 171.1h6M804 168.1v6M801 171.1h6M806 168.1v6M803 171.1h6M809 173.7v6M806 176.7h6M811 173.7v6M808 176.7h6M823.5 180.7v6M820.5 183.7h6M825 180.7v6M822 183.7h6M831 187.1v6M828 190.1h6M841.87 202.2v6M838.87 205.2h6M844.88 202.2v6M841.88 205.2h6M853.91 202.2v6M850.91 205.2h6M861.44 202.2v6M858.44 205.2h6M878 202.2v6M875 205.2h6M887.03 202.2v6M884.03 205.2h6M893.05 202.2v6M890.05 205.2h6M899.07 202.2v6M896.07 205.2h6M903.58 202.2v6M900.58 205.2h6M908.1 202.2v6M905.1 205.2h6M925.55 202.2v6M922.55 205.2h6M942.71 202.2v6M939.71 205.2h6M948.73 202.2v6M945.73 205.2h6M953.25 202.2v6M950.25 205.2h6M1002.31 202.2v6M999.31 205.2h6M1065.22 251.3v6M1062.22 254.3h6M1070.64 251.3v6M1067.64 254.3h6" stroke="#ff9900" stroke-width="1.15" fill="none"/>
<path d="M700.1 242.5H1045.5M1021.5 242.5V352.3M1045.5 242.5V352.3" stroke="#111" stroke-width="1.15" fill="none" stroke-dasharray="4.3 4.1"/>
<text x="707.7" y="314.8" font-size="17" fill="#000">p=0.033</text>
<text x="996.9" y="154.7" font-size="10.2" fill="#000">Cluster</text>
<path d="M998.4 168.6H1012.9" stroke="#0066ff" stroke-width="1.9" fill="none"/>
<path d="M1005.6 164.4v6M1002.6 168h6" stroke="#0066ff" stroke-width="1.15" fill="none"/>
<text x="1019.4" y="173.2" font-size="10.2" fill="#000">A</text>
<path d="M998.4 186H1012.9" stroke="#ff9900" stroke-width="1.9" fill="none"/>
<path d="M1005.6 181.8v6M1002.6 185.4h6" stroke="#ff9900" stroke-width="1.15" fill="none"/>
<text x="1019.4" y="190.6" font-size="10.2" fill="#000">B</text>
<text x="681.7" y="420.2" font-size="16.15" fill="#000">Number at risk</text>
<path d="M681.7 429.7V458.4H1095.6" stroke="#111" stroke-width="1.3" fill="none"/>
<path d="M678.6 437.3H681.7M678.6 450.4H681.7M700.1 458.4V461.6M775.5 458.4V461.6M850.9 458.4V461.6M926.3 458.4V461.6M1001.7 458.4V461.6M1077.1 458.4V461.6" stroke="#111" stroke-width="1.1" fill="none"/>
<text x="676" y="441.9" font-size="12" text-anchor="end" fill="#0066ff">A</text>
<text x="676" y="455" font-size="12" text-anchor="end" fill="#ff9900">B</text>
<text x="700.1" y="442.1" font-size="13.1" text-anchor="middle" fill="#000">23</text>
<text x="700.1" y="455.3" font-size="13.1" text-anchor="middle" fill="#000">152</text>
<text x="700.1" y="473.1" font-size="12.2" text-anchor="middle" fill="#000">0</text>
<text x="775.5" y="442.1" font-size="13.1" text-anchor="middle" fill="#000">11</text>
<text x="775.5" y="455.3" font-size="13.1" text-anchor="middle" fill="#000">56</text>
<text x="775.5" y="473.1" font-size="12.2" text-anchor="middle" fill="#000">2</text>
<text x="850.9" y="442.1" font-size="13.1" text-anchor="middle" fill="#000">3</text>
<text x="850.9" y="455.3" font-size="13.1" text-anchor="middle" fill="#000">17</text>
<text x="850.9" y="473.1" font-size="12.2" text-anchor="middle" fill="#000">4</text>
<text x="926.3" y="442.1" font-size="13.1" text-anchor="middle" fill="#000">2</text>
<text x="926.3" y="455.3" font-size="13.1" text-anchor="middle" fill="#000">7</text>
<text x="926.3" y="473.1" font-size="12.2" text-anchor="middle" fill="#000">6</text>
<text x="1001.7" y="442.1" font-size="13.1" text-anchor="middle" fill="#000">1</text>
<text x="1001.7" y="455.3" font-size="13.1" text-anchor="middle" fill="#000">4</text>
<text x="1001.7" y="473.1" font-size="12.2" text-anchor="middle" fill="#000">8</text>
<text x="1077.1" y="442.1" font-size="13.1" text-anchor="middle" fill="#000">0</text>
<text x="1077.1" y="455.3" font-size="13.1" text-anchor="middle" fill="#000">0</text>
<text x="1077.1" y="473.1" font-size="12.2" text-anchor="middle" fill="#000">10</text>
<text x="888.7" y="487.9" font-size="14.1" text-anchor="middle" fill="#000">Time(years)</text>
<text x="646.8" y="444" font-size="14.1" text-anchor="middle" fill="#000" transform="rotate(-90 646.8 444)">Cluster</text>
</g>
<g id="panelC">
<text x="1183.6" y="28.1" font-size="30.5" font-weight="bold">C</text>
<path d="M1267.3 93.1V369" stroke="#555" stroke-width="1.6" fill="none"/>
<path d="M1266.5 368.4H1792.3" stroke="#333" stroke-width="1.25" fill="none"/>
<path d="M1264.1 356.1H1267.3M1264.1 293.4H1267.3M1264.1 230.7H1267.3M1264.1 168.1H1267.3M1264.1 105.5H1267.3M1280.4 368.3V371.6M1303.03 368.3V371.6M1325.66 368.3V371.6M1348.29 368.3V371.6M1370.92 368.3V371.6M1393.55 368.3V371.6M1416.18 368.3V371.6M1438.81 368.3V371.6M1461.44 368.3V371.6M1484.07 368.3V371.6M1506.7 368.3V371.6M1529.33 368.3V371.6M1551.96 368.3V371.6M1574.59 368.3V371.6M1597.22 368.3V371.6M1619.85 368.3V371.6M1642.48 368.3V371.6M1665.11 368.3V371.6M1687.74 368.3V371.6M1710.37 368.3V371.6M1733 368.3V371.6M1755.63 368.3V371.6M1778.26 368.3V371.6" stroke="#333" stroke-width="1.1" fill="none"/>
<text x="1261.6" y="360.4" font-size="12" text-anchor="end" fill="#1a1a1a">0.00</text>
<text x="1261.6" y="297.7" font-size="12" text-anchor="end" fill="#1a1a1a">0.25</text>
<text x="1261.6" y="235" font-size="12" text-anchor="end" fill="#1a1a1a">0.50</text>
<text x="1261.6" y="172.4" font-size="12" text-anchor="end" fill="#1a1a1a">0.75</text>
<text x="1261.6" y="109.8" font-size="12" text-anchor="end" fill="#1a1a1a">1.00</text>
<text x="1232.6" y="230.3" font-size="12" text-anchor="middle" fill="#111" transform="rotate(-90 1232.6 230.3)">Immune infiltration</text>
<path d="M1276.05 273.2V294.1M1276.05 310.6V322.3" stroke="#0066ff" stroke-width="1" fill="none"/>
<rect x="1271.95" y="294.1" width="8.2" height="16.5" fill="#fff" stroke="#0066ff" stroke-width="1"/>
<path d="M1271.95 306.7H1280.15" stroke="#0066ff" stroke-width="1.9" fill="none"/>
<path d="M1285 260.6V287.4M1285 311.1V334.8" stroke="#ff9900" stroke-width="1" fill="none"/>
<rect x="1280.9" y="287.4" width="8.2" height="23.7" fill="#fff" stroke="#ff9900" stroke-width="1"/>
<path d="M1280.9 300.5H1289.1" stroke="#ff9900" stroke-width="1.9" fill="none"/>
<circle cx="1285" cy="246.1" r="2.45" fill="#ff9900"/>
<circle cx="1285" cy="251.1" r="2.45" fill="#ff9900"/>
<circle cx="1285" cy="252.3" r="2.45" fill="#ff9900"/>
<circle cx="1285" cy="190.6" r="2.45" fill="#ff9900"/>
<path d="M1298.68 190.2V216.2M1298.68 234.4V249.7" stroke="#0066ff" stroke-width="1" fill="none"/>
<rect x="1294.58" y="216.2" width="8.2" height="18.2" fill="#fff" stroke="#0066ff" stroke-width="1"/>
<path d="M1294.58 223.2H1302.78" stroke="#0066ff" stroke-width="1.9" fill="none"/>
<circle cx="1298.68" cy="262.3" r="2.45" fill="#0066ff"/>
<path d="M1307.63 177.5V206.5M1307.63 234.4V257.8" stroke="#ff9900" stroke-width="1" fill="none"/>
<rect x="1303.53" y="206.5" width="8.2" height="27.9" fill="#fff" stroke="#ff9900" stroke-width="1"/>
<path d="M1303.53 221.2H1311.73" stroke="#ff9900" stroke-width="1.9" fill="none"/>
<circle cx="1307.63" cy="164.3" r="2.45" fill="#ff9900"/>
<circle cx="1307.63" cy="278.6" r="2.45" fill="#ff9900"/>
<path d="M1321.31 208.1V217.4M1321.31 236.6V248.3" stroke="#0066ff" stroke-width="1" fill="none"/>
<rect x="1317.21" y="217.4" width="8.2" height="19.2" fill="#fff" stroke="#0066ff" stroke-width="1"/>
<path d="M1317.21 229.6H1325.41" stroke="#0066ff" stroke-width="1.9" fill="none"/>
<circle cx="1321.31" cy="183.9" r="2.45" fill="#0066ff"/>
<circle cx="1321.31" cy="188" r="2.45" fill="#0066ff"/>
<path d="M1330.26 167.1V204.5M1330.26 230.3V252.8" stroke="#ff9900" stroke-width="1" fill="none"/>
<rect x="1326.16" y="204.5" width="8.2" height="25.8" fill="#fff" stroke="#ff9900" stroke-width="1"/>
<path d="M1326.16 219.9H1334.36" stroke="#ff9900" stroke-width="1.9" fill="none"/>
<circle cx="1330.26" cy="115.2" r="2.45" fill="#ff9900"/>
<circle cx="1330.26" cy="148.7" r="2.45" fill="#ff9900"/>
<circle cx="1330.26" cy="153.7" r="2.45" fill="#ff9900"/>
<circle cx="1330.26" cy="156.2" r="2.45" fill="#ff9900"/>
<circle cx="1330.26" cy="163.8" r="2.45" fill="#ff9900"/>
<path d="M1343.94 194.4V210.7M1343.94 223.6V233.8" stroke="#0066ff" stroke-width="1" fill="none"/>
<rect x="1339.84" y="210.7" width="8.2" height="12.9" fill="#fff" stroke="#0066ff" stroke-width="1"/>
<path d="M1339.84 215.2H1348.04" stroke="#0066ff" stroke-width="1.9" fill="none"/>
<path d="M1352.89 173.8V200.3M1352.89 218.5V237" stroke="#ff9900" stroke-width="1" fill="none"/>
<rect x="1348.79" y="200.3" width="8.2" height="18.2" fill="#fff" stroke="#ff9900" stroke-width="1"/>
<path d="M1348.79 208.1H1356.99" stroke="#ff9900" stroke-width="1.9" fill="none"/>
<path d="M1366.57 179.3V187.2M1366.57 194.7V201.9" stroke="#0066ff" stroke-width="1" fill="none"/>
<rect x="1362.47" y="187.2" width="8.2" height="7.5" fill="#fff" stroke="#0066ff" stroke-width="1"/>
<path d="M1362.47 190.6H1370.67" stroke="#0066ff" stroke-width="1.9" fill="none"/>
<path d="M1375.52 171V181.7M1375.52 191.7V200.6" stroke="#ff9900" stroke-width="1" fill="none"/>
<rect x="1371.42" y="181.7" width="8.2" height="10" fill="#fff" stroke="#ff9900" stroke-width="1"/>
<path d="M1371.42 187.2H1379.62" stroke="#ff9900" stroke-width="1.9" fill="none"/>
<path d="M1389.2 154.2V158.4M1389.2 165.8V174.6" stroke="#0066ff" stroke-width="1" fill="none"/>
<rect x="1385.1" y="158.4" width="8.2" height="7.4" fill="#fff" stroke="#0066ff" stroke-width="1"/>
<path d="M1385.1 164.3H1393.3" stroke="#0066ff" stroke-width="1.9" fill="none"/>
<circle cx="1389.2" cy="143.7" r="2.45" fill="#0066ff"/>
<circle cx="1389.2" cy="147.3" r="2.45" fill="#0066ff"/>
<path d="M1398.15 142.8V159.4M1398.15 172.5V188.9" stroke="#ff9900" stroke-width="1" fill="none"/>
<rect x="1394.05" y="159.4" width="8.2" height="13.1" fill="#fff" stroke="#ff9900" stroke-width="1"/>
<path d="M1394.05 164.3H1402.25" stroke="#ff9900" stroke-width="1.9" fill="none"/>
<circle cx="1398.15" cy="139.3" r="2.45" fill="#ff9900"/>
<circle cx="1398.15" cy="193.9" r="2.45" fill="#ff9900"/>
<path d="M1411.83 261.1V271.5M1411.83 284.3V301" stroke="#0066ff" stroke-width="1" fill="none"/>
<rect x="1407.73" y="271.5" width="8.2" height="12.8" fill="#fff" stroke="#0066ff" stroke-width="1"/>
<path d="M1407.73 278.4H1415.93" stroke="#0066ff" stroke-width="1.9" fill="none"/>
<path d="M1420.78 246.1V264.2M1420.78 282.4V301.8" stroke="#ff9900" stroke-width="1" fill="none"/>
<rect x="1416.68" y="264.2" width="8.2" height="18.2" fill="#fff" stroke="#ff9900" stroke-width="1"/>
<path d="M1416.68 273.4H1424.88" stroke="#ff9900" stroke-width="1.9" fill="none"/>
<circle cx="1420.78" cy="236.1" r="2.45" fill="#ff9900"/>
<path d="M1434.46 193.1V197.3M1434.46 205.6V212.3" stroke="#0066ff" stroke-width="1" fill="none"/>
<rect x="1430.36" y="197.3" width="8.2" height="8.3" fill="#fff" stroke="#0066ff" stroke-width="1"/>
<path d="M1430.36 202.3H1438.56" stroke="#0066ff" stroke-width="1.9" fill="none"/>
<circle cx="1434.46" cy="184.9" r="2.45" fill="#0066ff"/>
<path d="M1443.41 181.3V192.6M1443.41 201.6V213.7" stroke="#ff9900" stroke-width="1" fill="none"/>
<rect x="1439.31" y="192.6" width="8.2" height="9" fill="#fff" stroke="#ff9900" stroke-width="1"/>
<path d="M1439.31 197.3H1447.51" stroke="#ff9900" stroke-width="1.9" fill="none"/>
<circle cx="1443.41" cy="170.8" r="2.45" fill="#ff9900"/>
<circle cx="1443.41" cy="178.8" r="2.45" fill="#ff9900"/>
<path d="M1457.09 222.4V249.1M1457.09 284.6V302.7" stroke="#0066ff" stroke-width="1" fill="none"/>
<rect x="1452.99" y="249.1" width="8.2" height="35.5" fill="#fff" stroke="#0066ff" stroke-width="1"/>
<path d="M1452.99 272H1461.19" stroke="#0066ff" stroke-width="1.9" fill="none"/>
<path d="M1466.04 217.4V247.4M1466.04 277.6V310.6" stroke="#ff9900" stroke-width="1" fill="none"/>
<rect x="1461.94" y="247.4" width="8.2" height="30.2" fill="#fff" stroke="#ff9900" stroke-width="1"/>
<path d="M1461.94 259H1470.14" stroke="#ff9900" stroke-width="1.9" fill="none"/>
<circle cx="1466.04" cy="173.8" r="2.45" fill="#ff9900"/>
<path d="M1479.72 170.5V174.6M1479.72 188V195.9" stroke="#0066ff" stroke-width="1" fill="none"/>
<rect x="1475.62" y="174.6" width="8.2" height="13.4" fill="#fff" stroke="#0066ff" stroke-width="1"/>
<path d="M1475.62 183H1483.82" stroke="#0066ff" stroke-width="1.9" fill="none"/>
<circle cx="1479.72" cy="153" r="2.45" fill="#0066ff"/>
<path d="M1488.67 158.1V171.5M1488.67 181.7V193.9" stroke="#ff9900" stroke-width="1" fill="none"/>
<rect x="1484.57" y="171.5" width="8.2" height="10.2" fill="#fff" stroke="#ff9900" stroke-width="1"/>
<path d="M1484.57 176.8H1492.77" stroke="#ff9900" stroke-width="1.9" fill="none"/>
<circle cx="1488.67" cy="196.8" r="2.45" fill="#ff9900"/>
<circle cx="1488.67" cy="202.8" r="2.45" fill="#ff9900"/>
<path d="M1502.35 167.9V194.4M1502.35 240.5V262.8" stroke="#0066ff" stroke-width="1" fill="none"/>
<rect x="1498.25" y="194.4" width="8.2" height="46.1" fill="#fff" stroke="#0066ff" stroke-width="1"/>
<path d="M1498.25 214.8H1506.45" stroke="#0066ff" stroke-width="1.9" fill="none"/>
<path d="M1511.3 129.1V178.5M1511.3 219V262.8" stroke="#ff9900" stroke-width="1" fill="none"/>
<rect x="1507.2" y="178.5" width="8.2" height="40.5" fill="#fff" stroke="#ff9900" stroke-width="1"/>
<path d="M1507.2 202.6H1515.4" stroke="#ff9900" stroke-width="1.9" fill="none"/>
<circle cx="1511.3" cy="105.5" r="2.45" fill="#ff9900"/>
<path d="M1524.98 241V251.4M1524.98 260.6V273.4" stroke="#0066ff" stroke-width="1" fill="none"/>
<rect x="1520.88" y="251.4" width="8.2" height="9.2" fill="#fff" stroke="#0066ff" stroke-width="1"/>
<path d="M1520.88 259H1529.08" stroke="#0066ff" stroke-width="1.9" fill="none"/>
<circle cx="1524.98" cy="236.9" r="2.45" fill="#0066ff"/>
<path d="M1533.93 220.9V244.7M1533.93 261.6V275.7" stroke="#ff9900" stroke-width="1" fill="none"/>
<rect x="1529.83" y="244.7" width="8.2" height="16.9" fill="#fff" stroke="#ff9900" stroke-width="1"/>
<path d="M1529.83 253.9H1538.03" stroke="#ff9900" stroke-width="1.9" fill="none"/>
<circle cx="1533.93" cy="207.9" r="2.45" fill="#ff9900"/>
<path d="M1547.61 249.9V269.5M1547.61 285.4V302.5" stroke="#0066ff" stroke-width="1" fill="none"/>
<rect x="1543.51" y="269.5" width="8.2" height="15.9" fill="#fff" stroke="#0066ff" stroke-width="1"/>
<path d="M1543.51 277.1H1551.71" stroke="#0066ff" stroke-width="1.9" fill="none"/>
<path d="M1556.56 234V255.3M1556.56 271.5V293.8" stroke="#ff9900" stroke-width="1" fill="none"/>
<rect x="1552.46" y="255.3" width="8.2" height="16.2" fill="#fff" stroke="#ff9900" stroke-width="1"/>
<path d="M1552.46 263.1H1560.66" stroke="#ff9900" stroke-width="1.9" fill="none"/>
<circle cx="1556.56" cy="225.5" r="2.45" fill="#ff9900"/>
<circle cx="1556.56" cy="297.5" r="2.45" fill="#ff9900"/>
<path d="M1570.24 144V147.5M1570.24 154.7V163.8" stroke="#0066ff" stroke-width="1" fill="none"/>
<rect x="1566.14" y="147.5" width="8.2" height="7.2" fill="#fff" stroke="#0066ff" stroke-width="1"/>
<path d="M1566.14 152.4H1574.34" stroke="#0066ff" stroke-width="1.9" fill="none"/>
<circle cx="1570.24" cy="137.1" r="2.45" fill="#0066ff"/>
<circle cx="1570.24" cy="165.9" r="2.45" fill="#0066ff"/>
<path d="M1579.19 134.4V143.3M1579.19 151.7V163.8" stroke="#ff9900" stroke-width="1" fill="none"/>
<rect x="1575.09" y="143.3" width="8.2" height="8.4" fill="#fff" stroke="#ff9900" stroke-width="1"/>
<path d="M1575.09 147.8H1583.29" stroke="#ff9900" stroke-width="1.9" fill="none"/>
<circle cx="1579.19" cy="127.6" r="2.45" fill="#ff9900"/>
<circle cx="1579.19" cy="167.1" r="2.45" fill="#ff9900"/>
<circle cx="1579.19" cy="170.5" r="2.45" fill="#ff9900"/>
<path d="M1592.87 225.1V234.3M1592.87 241.4V245.6" stroke="#0066ff" stroke-width="1" fill="none"/>
<rect x="1588.77" y="234.3" width="8.2" height="7.1" fill="#fff" stroke="#0066ff" stroke-width="1"/>
<path d="M1588.77 236.9H1596.97" stroke="#0066ff" stroke-width="1.9" fill="none"/>
<circle cx="1592.87" cy="222.6" r="2.45" fill="#0066ff"/>
<path d="M1601.82 215.4V233.2M1601.82 245.2V259.8" stroke="#ff9900" stroke-width="1" fill="none"/>
<rect x="1597.72" y="233.2" width="8.2" height="12" fill="#fff" stroke="#ff9900" stroke-width="1"/>
<path d="M1597.72 238.9H1605.92" stroke="#ff9900" stroke-width="1.9" fill="none"/>
<path d="M1615.5 166.3V178.5M1615.5 190.2V204.3" stroke="#0066ff" stroke-width="1" fill="none"/>
<rect x="1611.4" y="178.5" width="8.2" height="11.7" fill="#fff" stroke="#0066ff" stroke-width="1"/>
<path d="M1611.4 181.8H1619.6" stroke="#0066ff" stroke-width="1.9" fill="none"/>
<path d="M1624.45 164.6V177.5M1624.45 188.5V203.1" stroke="#ff9900" stroke-width="1" fill="none"/>
<rect x="1620.35" y="177.5" width="8.2" height="11" fill="#fff" stroke="#ff9900" stroke-width="1"/>
<path d="M1620.35 182.2H1628.55" stroke="#ff9900" stroke-width="1.9" fill="none"/>
<circle cx="1624.45" cy="207.3" r="2.45" fill="#ff9900"/>
<path d="M1638.13 307.2V314.7M1638.13 329.5V341" stroke="#0066ff" stroke-width="1" fill="none"/>
<rect x="1634.03" y="314.7" width="8.2" height="14.8" fill="#fff" stroke="#0066ff" stroke-width="1"/>
<path d="M1634.03 324H1642.23" stroke="#0066ff" stroke-width="1.9" fill="none"/>
<path d="M1647.08 278.7V306.7M1647.08 325.3V351.6" stroke="#ff9900" stroke-width="1" fill="none"/>
<rect x="1642.98" y="306.7" width="8.2" height="18.6" fill="#fff" stroke="#ff9900" stroke-width="1"/>
<path d="M1642.98 315.6H1651.18" stroke="#ff9900" stroke-width="1.9" fill="none"/>
<circle cx="1647.08" cy="253.9" r="2.45" fill="#ff9900"/>
<circle cx="1647.08" cy="256.4" r="2.45" fill="#ff9900"/>
<circle cx="1647.08" cy="266.2" r="2.45" fill="#ff9900"/>
<circle cx="1647.08" cy="278.2" r="2.45" fill="#ff9900"/>
<circle cx="1647.08" cy="356.1" r="2.45" fill="#ff9900"/>
<path d="M1660.76 146.5V156.5M1660.76 167.1V176" stroke="#0066ff" stroke-width="1" fill="none"/>
<rect x="1656.66" y="156.5" width="8.2" height="10.6" fill="#fff" stroke="#0066ff" stroke-width="1"/>
<path d="M1656.66 159.9H1664.86" stroke="#0066ff" stroke-width="1.9" fill="none"/>
<path d="M1669.71 143.1V154.4M1669.71 162.4V173.8" stroke="#ff9900" stroke-width="1" fill="none"/>
<rect x="1665.61" y="154.4" width="8.2" height="8" fill="#fff" stroke="#ff9900" stroke-width="1"/>
<path d="M1665.61 158.4H1673.81" stroke="#ff9900" stroke-width="1.9" fill="none"/>
<circle cx="1669.71" cy="174.6" r="2.45" fill="#ff9900"/>
<circle cx="1669.71" cy="176.8" r="2.45" fill="#ff9900"/>
<path d="M1683.39 197.8V224.4M1683.39 246.7V269.8" stroke="#0066ff" stroke-width="1" fill="none"/>
<rect x="1679.29" y="224.4" width="8.2" height="22.3" fill="#fff" stroke="#0066ff" stroke-width="1"/>
<path d="M1679.29 236.9H1687.49" stroke="#0066ff" stroke-width="1.9" fill="none"/>
<circle cx="1683.39" cy="175.1" r="2.45" fill="#0066ff"/>
<path d="M1692.34 187.2V219.4M1692.34 241.6V271.2" stroke="#ff9900" stroke-width="1" fill="none"/>
<rect x="1688.24" y="219.4" width="8.2" height="22.2" fill="#fff" stroke="#ff9900" stroke-width="1"/>
<path d="M1688.24 229.1H1696.44" stroke="#ff9900" stroke-width="1.9" fill="none"/>
<circle cx="1692.34" cy="144.5" r="2.45" fill="#ff9900"/>
<circle cx="1692.34" cy="168.8" r="2.45" fill="#ff9900"/>
<circle cx="1692.34" cy="176" r="2.45" fill="#ff9900"/>
<circle cx="1692.34" cy="183.9" r="2.45" fill="#ff9900"/>
<circle cx="1692.34" cy="186" r="2.45" fill="#ff9900"/>
<path d="M1706.02 210V224.4M1706.02 237.8V251.6" stroke="#0066ff" stroke-width="1" fill="none"/>
<rect x="1701.92" y="224.4" width="8.2" height="13.4" fill="#fff" stroke="#0066ff" stroke-width="1"/>
<path d="M1701.92 230.8H1710.12" stroke="#0066ff" stroke-width="1.9" fill="none"/>
<path d="M1714.97 199.3V219.4M1714.97 235.4V255.8" stroke="#ff9900" stroke-width="1" fill="none"/>
<rect x="1710.87" y="219.4" width="8.2" height="16" fill="#fff" stroke="#ff9900" stroke-width="1"/>
<path d="M1710.87 226.6H1719.07" stroke="#ff9900" stroke-width="1.9" fill="none"/>
<circle cx="1714.97" cy="184.7" r="2.45" fill="#ff9900"/>
<path d="M1728.65 212.3V222.7M1728.65 237.5V243.7" stroke="#0066ff" stroke-width="1" fill="none"/>
<rect x="1724.55" y="222.7" width="8.2" height="14.8" fill="#fff" stroke="#0066ff" stroke-width="1"/>
<path d="M1724.55 230.8H1732.75" stroke="#0066ff" stroke-width="1.9" fill="none"/>
<path d="M1737.6 207.3V222.7M1737.6 235.1V252.8" stroke="#ff9900" stroke-width="1" fill="none"/>
<rect x="1733.5" y="222.7" width="8.2" height="12.4" fill="#fff" stroke="#ff9900" stroke-width="1"/>
<path d="M1733.5 229.1H1741.7" stroke="#ff9900" stroke-width="1.9" fill="none"/>
<circle cx="1737.6" cy="189.9" r="2.45" fill="#ff9900"/>
<path d="M1751.28 249.4V263.7M1751.28 277.6V288.8" stroke="#0066ff" stroke-width="1" fill="none"/>
<rect x="1747.18" y="263.7" width="8.2" height="13.9" fill="#fff" stroke="#0066ff" stroke-width="1"/>
<path d="M1747.18 272.5H1755.38" stroke="#0066ff" stroke-width="1.9" fill="none"/>
<path d="M1760.23 239.4V257.8M1760.23 271.5V288.4" stroke="#ff9900" stroke-width="1" fill="none"/>
<rect x="1756.13" y="257.8" width="8.2" height="13.7" fill="#fff" stroke="#ff9900" stroke-width="1"/>
<path d="M1756.13 266.2H1764.33" stroke="#ff9900" stroke-width="1.9" fill="none"/>
<circle cx="1760.23" cy="235.2" r="2.45" fill="#ff9900"/>
<circle cx="1760.23" cy="293" r="2.45" fill="#ff9900"/>
<path d="M1773.91 208.6V215.7M1773.91 229.4V248" stroke="#0066ff" stroke-width="1" fill="none"/>
<rect x="1769.81" y="215.7" width="8.2" height="13.7" fill="#fff" stroke="#0066ff" stroke-width="1"/>
<path d="M1769.81 221H1778.01" stroke="#0066ff" stroke-width="1.9" fill="none"/>
<circle cx="1773.91" cy="256.6" r="2.45" fill="#0066ff"/>
<path d="M1782.86 194.7V216.2M1782.86 235.4V253.3" stroke="#ff9900" stroke-width="1" fill="none"/>
<rect x="1778.76" y="216.2" width="8.2" height="19.2" fill="#fff" stroke="#ff9900" stroke-width="1"/>
<path d="M1778.76 224.4H1786.96" stroke="#ff9900" stroke-width="1.9" fill="none"/>
<text x="1325.66" y="104.6" font-size="11" text-anchor="middle" fill="#000">*</text>
<text x="1348.29" y="104.6" font-size="11" text-anchor="middle" fill="#000">*</text>
<text x="1370.92" y="104.6" font-size="11" text-anchor="middle" fill="#000">*</text>
<text x="1416.18" y="104.6" font-size="11" text-anchor="middle" fill="#000">*</text>
<text x="1438.81" y="104.6" font-size="11" text-anchor="middle" fill="#000">**</text>
<text x="1484.07" y="104.6" font-size="11" text-anchor="middle" fill="#000">**</text>
<text x="1506.7" y="104.6" font-size="11" text-anchor="middle" fill="#000">*</text>
<text x="1551.96" y="104.6" font-size="11" text-anchor="middle" fill="#000">***</text>
<text x="1574.59" y="104.6" font-size="11" text-anchor="middle" fill="#000">**</text>
<text x="1642.48" y="104.6" font-size="11" text-anchor="middle" fill="#000">*</text>
<text x="1755.63" y="104.6" font-size="11" text-anchor="middle" fill="#000">**</text>
<text x="1287.3" y="380" font-size="12.05" text-anchor="end" fill="#1a1a1a" transform="rotate(-50 1287.3 380)">Activated.B.cell</text>
<text x="1309.93" y="380" font-size="12.05" text-anchor="end" fill="#1a1a1a" transform="rotate(-50 1309.93 380)">Activated.CD4.T.cell</text>
<text x="1332.56" y="380" font-size="12.05" text-anchor="end" fill="#1a1a1a" transform="rotate(-50 1332.56 380)">Activated.CD8.T.cell</text>
<text x="1355.19" y="380" font-size="12.05" text-anchor="end" fill="#1a1a1a" transform="rotate(-50 1355.19 380)">Activated.dendritic.cell</text>
<text x="1377.82" y="380" font-size="12.05" text-anchor="end" fill="#1a1a1a" transform="rotate(-50 1377.82 380)">CD56bright.natural.killer.cell</text>
<text x="1400.45" y="380" font-size="12.05" text-anchor="end" fill="#1a1a1a" transform="rotate(-50 1400.45 380)">CD56dim.natural.killer.cell</text>
<text x="1423.08" y="380" font-size="12.05" text-anchor="end" fill="#1a1a1a" transform="rotate(-50 1423.08 380)">Eosinophil</text>
<text x="1445.71" y="380" font-size="12.05" text-anchor="end" fill="#1a1a1a" transform="rotate(-50 1445.71 380)">Gamma.delta.T.cell</text>
<text x="1468.34" y="380" font-size="12.05" text-anchor="end" fill="#1a1a1a" transform="rotate(-50 1468.34 380)">Immature.B.cell</text>
<text x="1490.97" y="380" font-size="12.05" text-anchor="end" fill="#1a1a1a" transform="rotate(-50 1490.97 380)">Immature.dendritic.cell</text>
<text x="1513.6" y="380" font-size="12.05" text-anchor="end" fill="#1a1a1a" transform="rotate(-50 1513.6 380)">MDSC</text>
<text x="1536.23" y="380" font-size="12.05" text-anchor="end" fill="#1a1a1a" transform="rotate(-50 1536.23 380)">Macrophage</text>
<text x="1558.86" y="380" font-size="12.05" text-anchor="end" fill="#1a1a1a" transform="rotate(-50 1558.86 380)">Mast.cell</text>
<text x="1581.49" y="380" font-size="12.05" text-anchor="end" fill="#1a1a1a" transform="rotate(-50 1581.49 380)">Monocyte</text>
<text x="1604.12" y="380" font-size="12.05" text-anchor="end" fill="#1a1a1a" transform="rotate(-50 1604.12 380)">Natural.killer.T.cell</text>
<text x="1626.75" y="380" font-size="12.05" text-anchor="end" fill="#1a1a1a" transform="rotate(-50 1626.75 380)">Natural.killer.cell</text>
<text x="1649.38" y="380" font-size="12.05" text-anchor="end" fill="#1a1a1a" transform="rotate(-50 1649.38 380)">Neutrophil</text>
<text x="1672.01" y="380" font-size="12.05" text-anchor="end" fill="#1a1a1a" transform="rotate(-50 1672.01 380)">Plasmacytoid.dendritic.cell</text>
<text x="1694.64" y="380" font-size="12.05" text-anchor="end" fill="#1a1a1a" transform="rotate(-50 1694.64 380)">Regulatory.T.cell</text>
<text x="1717.27" y="380" font-size="12.05" text-anchor="end" fill="#1a1a1a" transform="rotate(-50 1717.27 380)">T.follicular.helper.cell</text>
<text x="1739.9" y="380" font-size="12.05" text-anchor="end" fill="#1a1a1a" transform="rotate(-50 1739.9 380)">Type.1.T.helper.cell</text>
<text x="1762.53" y="380" font-size="12.05" text-anchor="end" fill="#1a1a1a" transform="rotate(-50 1762.53 380)">Type.17.T.helper.cell</text>
<text x="1785.16" y="380" font-size="12.05" text-anchor="end" fill="#1a1a1a" transform="rotate(-50 1785.16 380)">Type.2.T.helper.cell</text>
<text x="1474.5" y="69.8" font-size="11.9" fill="#111">Cluster</text>
<path d="M1527.1 59.1V72.6" stroke="#0066ff" stroke-width="1" fill="none"/>
<rect x="1520.3" y="61.3" width="13.6" height="9.1" fill="#fff" stroke="#0066ff" stroke-width="1"/>
<path d="M1520.3 65.9H1533.9" stroke="#0066ff" stroke-width="1.9" fill="none" stroke-opacity="0.75"/>
<text x="1541.8" y="69.6" font-size="10.2" fill="#111">A</text>
<path d="M1563.3 59.1V72.6" stroke="#ff9900" stroke-width="1" fill="none"/>
<rect x="1556.5" y="61.3" width="13.6" height="9.1" fill="#fff" stroke="#ff9900" stroke-width="1"/>
<path d="M1556.5 65.9H1570.1" stroke="#ff9900" stroke-width="1.9" fill="none" stroke-opacity="0.75"/>
<text x="1578" y="69.6" font-size="10.2" fill="#111">B</text>
</g>
<g id="panelD">
<text x="0.2" y="605.6" font-size="30.5" font-weight="bold">D</text>
<rect x="78.2" y="624.4" width="46.3" height="8.3" fill="#0066ff"/>
<rect x="128" y="624.4" width="308.7" height="8.3" fill="#ff9900"/>
<rect x="78.2" y="634.5" width="46.3" height="8.4" fill="#00d65a"/>
<rect x="128" y="634.5" width="308.7" height="8.4" fill="#00d65a"/>
<g><path fill="#ffafaf" d="M78.2 645.9h2.51v20.66h-2.51zM112.42 706.38h2.51v20.66h-2.51zM104.37 746.7h2.51v20.66h-2.51zM108.4 867.66h2.51v20.66h-2.51zM90.28 988.62h2.51v20.66h-2.51zM106.38 1028.94h2.51v20.16h-2.51z"/><path fill="#f00" d="M80.21 645.9h2.51v20.66h-2.51zM86.25 645.9h2.51v20.66h-2.51zM92.29 645.9h2.51v20.66h-2.51zM100.34 645.9h2.51v20.66h-2.51zM112.42 645.9h2.51v20.66h-2.51zM116.45 645.9h2.51v20.66h-2.51zM120.47 645.9h2.51v20.66h-2.51zM106.38 706.38h2.51v20.66h-2.51zM106.38 746.7h2.51v20.66h-2.51zM106.38 766.86h2.51v20.66h-2.51zM106.38 968.46h2.51v20.66h-2.51z"/><path fill="#ffbfbf" d="M82.23 645.9h2.51v20.66h-2.51zM90.28 666.06h2.51v20.66h-2.51zM84.24 827.34h2.51v20.66h-2.51zM106.38 827.34h2.51v20.66h-2.51zM118.46 907.98h2.51v20.66h-2.51zM82.23 948.3h2.51v20.66h-2.51zM122.49 1028.94h2.01v20.16h-2.01z"/><path fill="#ff7070" d="M84.24 645.9h2.51v20.66h-2.51zM98.33 645.9h2.51v20.66h-2.51zM82.23 726.54h2.51v20.66h-2.51z"/><path fill="#ff8f8f" d="M88.27 645.9h2.51v20.66h-2.51zM108.4 645.9h4.53v20.66h-4.53zM122.49 666.06h2.01v20.66h-2.01zM110.41 928.14h2.51v20.66h-2.51zM104.37 988.62h2.51v20.66h-2.51z"/><path fill="#ff8080" d="M90.28 645.9h2.51v20.66h-2.51zM122.49 645.9h2.01v20.66h-2.01zM106.38 726.54h2.51v20.66h-2.51zM106.38 787.02h2.51v20.66h-2.51zM122.49 968.46h2.01v20.66h-2.01z"/><path fill="#efefff" d="M94.3 645.9h2.51v20.66h-2.51zM120.47 686.22h2.51v20.66h-2.51zM84.24 807.18h2.51v20.66h-2.51zM118.46 887.82h2.51v20.66h-2.51z"/><path fill="#ff6060" d="M96.32 645.9h2.51v20.66h-2.51zM102.36 645.9h2.51v20.66h-2.51zM114.43 645.9h2.51v20.66h-2.51zM106.38 907.98h2.51v20.66h-2.51zM106.38 988.62h2.51v20.66h-2.51z"/><path fill="#dfdfff" d="M104.37 645.9h2.51v20.66h-2.51zM102.36 726.54h2.51v20.66h-2.51zM104.37 787.02h2.51v20.66h-2.51zM108.4 827.34h2.51v20.66h-2.51zM80.21 907.98h2.51v20.66h-2.51zM106.38 928.14h2.51v20.66h-2.51zM84.24 1008.78h2.51v20.66h-2.51zM118.46 1028.94h2.51v20.16h-2.51z"/><path fill="#4040ff" d="M106.38 645.9h2.51v20.66h-2.51zM118.46 746.7h2.51v20.66h-2.51zM78.2 766.86h2.51v20.66h-2.51zM88.27 807.18h2.51v20.66h-2.51zM112.42 867.66h2.51v20.66h-2.51zM118.46 867.66h2.51v20.66h-2.51zM86.25 907.98h2.51v20.66h-2.51zM104.37 928.14h2.51v20.66h-2.51zM84.24 948.3h2.51v20.66h-2.51zM118.46 948.3h2.51v20.66h-2.51zM108.4 968.46h2.51v20.66h-2.51zM96.32 988.62h2.51v20.66h-2.51zM114.43 988.62h2.51v20.66h-2.51zM122.49 1008.78h2.01v20.66h-2.01zM82.23 1028.94h2.51v20.16h-2.51z"/><path fill="#ffdfdf" d="M118.46 645.9h2.51v20.66h-2.51zM102.36 666.06h2.51v20.66h-2.51zM122.49 766.86h2.01v20.66h-2.01zM104.37 847.5h2.51v20.66h-2.51zM110.41 887.82h2.51v20.66h-2.51zM84.24 988.62h2.51v20.66h-2.51zM108.4 1028.94h2.51v20.16h-2.51z"/><path fill="#00f" d="M78.2 666.06h2.51v20.66h-2.51zM86.25 666.06h2.51v20.66h-2.51zM92.29 666.06h4.53v20.66h-4.53zM100.34 666.06h2.51v20.66h-2.51zM112.42 666.06h2.51v20.66h-2.51zM80.21 686.22h2.51v20.66h-2.51zM84.24 686.22h6.54v20.66h-6.54zM92.29 686.22h4.53v20.66h-4.53zM100.34 686.22h2.51v20.66h-2.51zM110.41 686.22h2.51v20.66h-2.51zM114.43 686.22h2.51v20.66h-2.51zM80.21 706.38h2.51v20.66h-2.51zM84.24 706.38h6.54v20.66h-6.54zM92.29 706.38h4.53v20.66h-4.53zM100.34 706.38h4.53v20.66h-4.53zM116.45 706.38h4.53v20.66h-4.53zM78.2 726.54h4.53v20.66h-4.53zM86.25 726.54h2.51v20.66h-2.51zM92.29 726.54h4.53v20.66h-4.53zM100.34 726.54h2.51v20.66h-2.51zM112.42 726.54h2.51v20.66h-2.51zM118.46 726.54h2.51v20.66h-2.51zM78.2 746.7h4.53v20.66h-4.53zM86.25 746.7h2.51v20.66h-2.51zM92.29 746.7h6.54v20.66h-6.54zM100.34 746.7h2.51v20.66h-2.51zM112.42 746.7h2.51v20.66h-2.51zM116.45 746.7h2.51v20.66h-2.51zM80.21 766.86h2.51v20.66h-2.51zM86.25 766.86h4.53v20.66h-4.53zM92.29 766.86h4.53v20.66h-4.53zM100.34 766.86h2.51v20.66h-2.51zM108.4 766.86h2.51v20.66h-2.51zM112.42 766.86h2.51v20.66h-2.51zM116.45 766.86h6.54v20.66h-6.54zM78.2 787.02h6.54v20.66h-6.54zM86.25 787.02h8.55v20.66h-8.55zM100.34 787.02h2.51v20.66h-2.51zM112.42 787.02h6.54v20.66h-6.54zM122.49 787.02h2.01v20.66h-2.01zM78.2 807.18h4.53v20.66h-4.53zM92.29 807.18h2.51v20.66h-2.51zM100.34 807.18h2.51v20.66h-2.51zM108.4 807.18h2.51v20.66h-2.51zM78.2 827.34h4.53v20.66h-4.53zM86.25 827.34h4.53v20.66h-4.53zM92.29 827.34h4.53v20.66h-4.53zM110.41 827.34h4.53v20.66h-4.53zM116.45 827.34h2.51v20.66h-2.51zM120.47 827.34h2.51v20.66h-2.51zM78.2 847.5h2.51v20.66h-2.51zM88.27 847.5h2.51v20.66h-2.51zM92.29 847.5h2.51v20.66h-2.51zM100.34 847.5h2.51v20.66h-2.51zM112.42 847.5h2.51v20.66h-2.51zM116.45 847.5h2.51v20.66h-2.51zM80.21 867.66h2.51v20.66h-2.51zM86.25 867.66h4.53v20.66h-4.53zM92.29 867.66h6.54v20.66h-6.54zM100.34 867.66h2.51v20.66h-2.51zM116.45 867.66h2.51v20.66h-2.51zM120.47 867.66h2.51v20.66h-2.51zM80.21 887.82h4.53v20.66h-4.53zM88.27 887.82h2.51v20.66h-2.51zM92.29 887.82h4.53v20.66h-4.53zM98.33 887.82h6.54v20.66h-6.54zM116.45 887.82h2.51v20.66h-2.51zM120.47 887.82h2.51v20.66h-2.51zM88.27 907.98h10.57v20.66h-10.57zM100.34 907.98h2.51v20.66h-2.51zM112.42 907.98h2.51v20.66h-2.51zM116.45 907.98h2.51v20.66h-2.51zM120.47 907.98h4.03v20.66h-4.03zM80.21 928.14h2.51v20.66h-2.51zM92.29 928.14h4.53v20.66h-4.53zM98.33 928.14h4.53v20.66h-4.53zM112.42 928.14h6.54v20.66h-6.54zM88.27 948.3h2.51v20.66h-2.51zM92.29 948.3h4.53v20.66h-4.53zM98.33 948.3h4.53v20.66h-4.53zM110.41 948.3h2.51v20.66h-2.51zM114.43 948.3h4.53v20.66h-4.53zM78.2 968.46h4.53v20.66h-4.53zM84.24 968.46h10.57v20.66h-10.57zM96.32 968.46h2.51v20.66h-2.51zM100.34 968.46h2.51v20.66h-2.51zM116.45 968.46h2.51v20.66h-2.51zM80.21 988.62h2.51v20.66h-2.51zM88.27 988.62h2.51v20.66h-2.51zM92.29 988.62h4.53v20.66h-4.53zM100.34 988.62h2.51v20.66h-2.51zM110.41 988.62h2.51v20.66h-2.51zM116.45 988.62h2.51v20.66h-2.51zM78.2 1008.78h6.54v20.66h-6.54zM90.28 1008.78h6.54v20.66h-6.54zM98.33 1008.78h4.53v20.66h-4.53zM112.42 1008.78h2.51v20.66h-2.51zM116.45 1008.78h2.51v20.66h-2.51zM78.2 1028.94h4.53v20.16h-4.53zM84.24 1028.94h6.54v20.16h-6.54zM92.29 1028.94h6.54v20.16h-6.54zM100.34 1028.94h2.51v20.16h-2.51zM114.43 1028.94h2.51v20.16h-2.51zM120.47 1028.94h2.51v20.16h-2.51z"/><path fill="#3030ff" d="M80.21 666.06h2.51v20.66h-2.51zM98.33 666.06h2.51v20.66h-2.51zM120.47 666.06h2.51v20.66h-2.51zM90.28 686.22h2.51v20.66h-2.51zM102.36 686.22h2.51v20.66h-2.51zM112.42 686.22h2.51v20.66h-2.51zM118.46 686.22h2.51v20.66h-2.51zM120.47 706.38h2.51v20.66h-2.51zM120.47 726.54h2.51v20.66h-2.51zM108.4 746.7h2.51v20.66h-2.51zM102.36 807.18h2.51v20.66h-2.51zM122.49 807.18h2.01v20.66h-2.01zM122.49 847.5h2.01v20.66h-2.01zM98.33 867.66h2.51v20.66h-2.51zM114.43 968.46h2.51v20.66h-2.51zM98.33 988.62h2.51v20.66h-2.51zM114.43 1008.78h2.51v20.66h-2.51z"/><path fill="#8f8fff" d="M82.23 666.06h2.51v20.66h-2.51zM96.32 686.22h2.51v20.66h-2.51zM110.41 726.54h2.51v20.66h-2.51zM90.28 807.18h2.51v20.66h-2.51zM90.28 867.66h2.51v20.66h-2.51zM90.28 928.14h2.51v20.66h-2.51zM112.42 948.3h2.51v20.66h-2.51zM102.36 968.46h2.51v20.66h-2.51zM120.47 968.46h2.51v20.66h-2.51zM120.47 988.62h4.03v20.66h-4.03zM102.36 1028.94h2.51v20.16h-2.51z"/><path fill="#6060ff" d="M84.24 666.06h2.51v20.66h-2.51zM96.32 666.06h2.51v20.66h-2.51zM122.49 686.22h2.01v20.66h-2.01zM114.43 706.38h2.51v20.66h-2.51zM108.4 726.54h2.51v20.66h-2.51zM90.28 766.86h2.51v20.66h-2.51zM108.4 787.02h2.51v20.66h-2.51zM120.47 787.02h2.51v20.66h-2.51zM120.47 807.18h2.51v20.66h-2.51zM94.3 847.5h4.53v20.66h-4.53zM90.28 887.82h2.51v20.66h-2.51zM78.2 928.14h2.51v20.66h-2.51zM88.27 928.14h2.51v20.66h-2.51zM112.42 968.46h2.51v20.66h-2.51zM112.42 988.62h2.51v20.66h-2.51zM86.25 1008.78h2.51v20.66h-2.51z"/><path fill="#7070ff" d="M88.27 666.06h2.51v20.66h-2.51zM78.2 706.38h2.51v20.66h-2.51zM98.33 726.54h2.51v20.66h-2.51zM114.43 726.54h2.51v20.66h-2.51zM90.28 746.7h2.51v20.66h-2.51zM98.33 766.86h2.51v20.66h-2.51zM110.41 766.86h2.51v20.66h-2.51zM102.36 787.02h2.51v20.66h-2.51zM122.49 827.34h2.01v20.66h-2.01zM86.25 847.5h2.51v20.66h-2.51zM90.28 847.5h2.51v20.66h-2.51zM104.37 887.82h2.51v20.66h-2.51zM108.4 887.82h2.51v20.66h-2.51zM82.23 907.98h2.51v20.66h-2.51zM110.41 907.98h2.51v20.66h-2.51zM96.32 928.14h2.51v20.66h-2.51zM108.4 928.14h2.51v20.66h-2.51zM86.25 948.3h2.51v20.66h-2.51z"/><path fill="#cfcfff" d="M104.37 666.06h2.51v20.66h-2.51zM122.49 726.54h2.01v20.66h-2.01zM122.49 746.7h2.01v20.66h-2.01zM102.36 766.86h2.51v20.66h-2.51zM110.41 807.18h2.51v20.66h-2.51zM90.28 827.34h2.51v20.66h-2.51zM110.41 847.5h2.51v20.66h-2.51zM110.41 867.66h2.51v20.66h-2.51zM82.23 928.14h4.53v20.66h-4.53zM102.36 1008.78h2.51v20.66h-2.51zM120.47 1008.78h2.51v20.66h-2.51zM112.42 1028.94h2.51v20.16h-2.51z"/><path fill="#ff4040" d="M106.38 666.06h2.51v20.66h-2.51zM104.37 766.86h2.51v20.66h-2.51zM104.37 867.66h2.51v20.66h-2.51zM108.4 907.98h2.51v20.66h-2.51zM104.37 948.3h2.51v20.66h-2.51zM106.38 1008.78h2.51v20.66h-2.51z"/><path fill="#2020ff" d="M108.4 666.06h2.51v20.66h-2.51zM108.4 686.22h2.51v20.66h-2.51zM96.32 706.38h2.51v20.66h-2.51zM88.27 726.54h4.53v20.66h-4.53zM84.24 746.7h2.51v20.66h-2.51zM98.33 746.7h2.51v20.66h-2.51zM94.3 787.02h2.51v20.66h-2.51zM120.47 847.5h2.51v20.66h-2.51zM84.24 867.66h2.51v20.66h-2.51zM78.2 887.82h2.51v20.66h-2.51zM86.25 887.82h2.51v20.66h-2.51zM80.21 948.3h2.51v20.66h-2.51zM108.4 948.3h2.51v20.66h-2.51zM98.33 1028.94h2.51v20.16h-2.51zM110.41 1028.94h2.51v20.16h-2.51z"/><path fill="#1010ff" d="M110.41 666.06h2.51v20.66h-2.51zM98.33 686.22h2.51v20.66h-2.51zM116.45 686.22h2.51v20.66h-2.51zM88.27 746.7h2.51v20.66h-2.51zM102.36 746.7h2.51v20.66h-2.51zM96.32 807.18h2.51v20.66h-2.51zM116.45 807.18h2.51v20.66h-2.51zM100.34 827.34h2.51v20.66h-2.51zM114.43 827.34h2.51v20.66h-2.51zM84.24 847.5h2.51v20.66h-2.51zM114.43 847.5h2.51v20.66h-2.51zM118.46 847.5h2.51v20.66h-2.51zM78.2 867.66h2.51v20.66h-2.51zM114.43 867.66h2.51v20.66h-2.51zM112.42 887.82h2.51v20.66h-2.51zM86.25 928.14h2.51v20.66h-2.51zM102.36 928.14h2.51v20.66h-2.51zM94.3 968.46h2.51v20.66h-2.51zM78.2 988.62h2.51v20.66h-2.51zM116.45 1028.94h2.51v20.16h-2.51z"/><path fill="#ffefef" d="M114.43 666.06h2.51v20.66h-2.51zM118.46 666.06h2.51v20.66h-2.51zM104.37 686.22h2.51v20.66h-2.51zM98.33 706.38h2.51v20.66h-2.51zM118.46 827.34h2.51v20.66h-2.51zM98.33 847.5h2.51v20.66h-2.51zM106.38 847.5h2.51v20.66h-2.51zM104.37 907.98h2.51v20.66h-2.51zM120.47 928.14h2.51v20.66h-2.51zM104.37 968.46h2.51v20.66h-2.51zM104.37 1008.78h2.51v20.66h-2.51zM118.46 1008.78h2.51v20.66h-2.51zM104.37 1028.94h2.51v20.16h-2.51z"/><path fill="#9f9fff" d="M116.45 666.06h2.51v20.66h-2.51zM84.24 766.86h2.51v20.66h-2.51zM82.23 807.18h2.51v20.66h-2.51zM112.42 807.18h4.53v20.66h-4.53zM80.21 847.5h2.51v20.66h-2.51zM82.23 867.66h2.51v20.66h-2.51zM102.36 867.66h2.51v20.66h-2.51zM114.43 887.82h2.51v20.66h-2.51zM84.24 907.98h2.51v20.66h-2.51zM114.43 907.98h2.51v20.66h-2.51zM90.28 948.3h2.51v20.66h-2.51zM96.32 948.3h2.51v20.66h-2.51zM82.23 968.46h2.51v20.66h-2.51zM82.23 988.62h2.51v20.66h-2.51zM118.46 988.62h2.51v20.66h-2.51z"/><path fill="#bfbfff" d="M78.2 686.22h2.51v20.66h-2.51zM82.23 686.22h2.51v20.66h-2.51zM98.33 807.18h2.51v20.66h-2.51zM118.46 807.18h2.51v20.66h-2.51zM102.36 827.34h2.51v20.66h-2.51zM98.33 907.98h2.51v20.66h-2.51zM102.36 948.3h2.51v20.66h-2.51zM108.4 988.62h2.51v20.66h-2.51z"/><path fill="#ff2020" d="M106.38 686.22h2.51v20.66h-2.51zM106.38 807.18h2.51v20.66h-2.51zM106.38 948.3h2.51v20.66h-2.51z"/><path fill="#afafff" d="M82.23 706.38h2.51v20.66h-2.51zM114.43 746.7h2.51v20.66h-2.51zM120.47 746.7h2.51v20.66h-2.51zM114.43 766.86h2.51v20.66h-2.51zM96.32 787.02h2.51v20.66h-2.51zM118.46 787.02h2.51v20.66h-2.51zM86.25 807.18h2.51v20.66h-2.51zM82.23 827.34h2.51v20.66h-2.51zM98.33 827.34h2.51v20.66h-2.51zM104.37 827.34h2.51v20.66h-2.51zM102.36 847.5h2.51v20.66h-2.51zM84.24 887.82h2.51v20.66h-2.51zM122.49 887.82h2.01v20.66h-2.01zM118.46 928.14h2.51v20.66h-2.51zM120.47 948.3h4.03v20.66h-4.03zM98.33 968.46h2.51v20.66h-2.51z"/><path fill="#8080ff" d="M90.28 706.38h2.51v20.66h-2.51zM110.41 706.38h2.51v20.66h-2.51zM82.23 746.7h2.51v20.66h-2.51zM110.41 746.7h2.51v20.66h-2.51zM94.3 807.18h2.51v20.66h-2.51zM96.32 827.34h2.51v20.66h-2.51zM82.23 847.5h2.51v20.66h-2.51zM122.49 928.14h2.01v20.66h-2.01zM110.41 968.46h2.51v20.66h-2.51z"/><path fill="#ffcfcf" d="M104.37 706.38h2.51v20.66h-2.51zM96.32 726.54h2.51v20.66h-2.51zM104.37 726.54h2.51v20.66h-2.51zM108.4 847.5h2.51v20.66h-2.51zM106.38 867.66h2.51v20.66h-2.51zM96.32 887.82h2.51v20.66h-2.51z"/><path fill="#5050ff" d="M108.4 706.38h2.51v20.66h-2.51zM122.49 706.38h2.01v20.66h-2.01zM84.24 726.54h2.51v20.66h-2.51zM116.45 726.54h2.51v20.66h-2.51zM82.23 766.86h2.51v20.66h-2.51zM98.33 787.02h2.51v20.66h-2.51zM122.49 867.66h2.01v20.66h-2.01zM102.36 907.98h2.51v20.66h-2.51zM118.46 968.46h2.51v20.66h-2.51zM86.25 988.62h2.51v20.66h-2.51zM102.36 988.62h2.51v20.66h-2.51zM88.27 1008.78h2.51v20.66h-2.51zM96.32 1008.78h2.51v20.66h-2.51zM108.4 1008.78h2.51v20.66h-2.51zM90.28 1028.94h2.51v20.16h-2.51z"/><path fill="#fff" d="M96.32 766.86h2.51v20.66h-2.51zM84.24 787.02h2.51v20.66h-2.51zM110.41 787.02h2.51v20.66h-2.51zM78.2 907.98h2.51v20.66h-2.51zM78.2 948.3h2.51v20.66h-2.51zM110.41 1008.78h2.51v20.66h-2.51z"/><path fill="#ff9f9f" d="M104.37 807.18h2.51v20.66h-2.51z"/><path fill="#ff3030" d="M106.38 887.82h2.51v20.66h-2.51z"/></g>
<g><path fill="#3030ff" d="M128 645.9h2.53v20.66h-2.53zM178.77 645.9h2.53v20.66h-2.53zM286.41 645.9h2.53v20.66h-2.53zM416.39 645.9h2.53v20.66h-2.53zM361.56 666.06h2.53v20.66h-2.53zM314.84 706.38h2.53v20.66h-2.53zM341.25 706.38h2.53v20.66h-2.53zM375.77 706.38h2.53v20.66h-2.53zM343.28 726.54h2.53v20.66h-2.53zM164.56 746.7h2.53v20.66h-2.53zM312.81 766.86h2.53v20.66h-2.53zM377.8 766.86h2.53v20.66h-2.53zM304.69 787.02h2.53v20.66h-2.53zM385.93 787.02h2.53v20.66h-2.53zM199.08 807.18h2.53v20.66h-2.53zM379.83 807.18h2.53v20.66h-2.53zM400.14 807.18h2.53v20.66h-2.53zM398.11 827.34h2.53v20.66h-2.53zM142.22 867.66h2.53v20.66h-2.53zM199.08 907.98h2.53v20.66h-2.53zM205.18 907.98h2.53v20.66h-2.53zM227.52 928.14h4.56v20.66h-4.56zM383.9 928.14h2.53v20.66h-2.53zM430.61 928.14h2.53v20.66h-2.53zM375.77 948.3h2.53v20.66h-2.53zM398.11 948.3h2.53v20.66h-2.53zM144.25 968.46h2.53v20.66h-2.53zM148.31 968.46h2.53v20.66h-2.53zM195.02 968.46h2.53v20.66h-2.53zM203.14 968.46h2.53v20.66h-2.53zM377.8 968.46h2.53v20.66h-2.53zM383.9 968.46h2.53v20.66h-2.53zM164.56 988.62h2.53v20.66h-2.53zM176.74 988.62h2.53v20.66h-2.53zM227.52 988.62h2.53v20.66h-2.53zM233.61 988.62h2.53v20.66h-2.53zM134.09 1008.78h2.53v20.66h-2.53zM209.24 1008.78h2.53v20.66h-2.53zM237.67 1008.78h2.53v20.66h-2.53z"/><path fill="#ffcfcf" d="M130.03 645.9h2.53v20.66h-2.53zM140.19 645.9h2.53v20.66h-2.53zM168.62 645.9h2.53v20.66h-2.53zM182.83 645.9h2.53v20.66h-2.53zM186.9 645.9h2.53v20.66h-2.53zM251.89 645.9h2.53v20.66h-2.53zM260.01 645.9h4.56v20.66h-4.56zM414.36 645.9h2.53v20.66h-2.53zM430.61 645.9h2.53v20.66h-2.53zM140.19 666.06h2.53v20.66h-2.53zM154.4 666.06h2.53v20.66h-2.53zM188.93 666.06h2.53v20.66h-2.53zM333.12 666.06h2.53v20.66h-2.53zM430.61 666.06h2.53v20.66h-2.53zM138.15 686.22h2.53v20.66h-2.53zM164.56 686.22h2.53v20.66h-2.53zM207.21 686.22h2.53v20.66h-2.53zM215.33 686.22h2.53v20.66h-2.53zM239.7 686.22h2.53v20.66h-2.53zM249.86 686.22h2.53v20.66h-2.53zM296.57 686.22h2.53v20.66h-2.53zM320.94 686.22h2.53v20.66h-2.53zM387.96 686.22h2.53v20.66h-2.53zM221.42 706.38h2.53v20.66h-2.53zM270.16 706.38h2.53v20.66h-2.53zM371.71 706.38h2.53v20.66h-2.53zM182.83 726.54h2.53v20.66h-2.53zM217.36 726.54h2.53v20.66h-2.53zM223.45 726.54h2.53v20.66h-2.53zM296.57 726.54h2.53v20.66h-2.53zM345.31 726.54h2.53v20.66h-2.53zM353.43 726.54h2.53v20.66h-2.53zM363.59 726.54h2.53v20.66h-2.53zM389.99 726.54h2.53v20.66h-2.53zM412.33 726.54h2.53v20.66h-2.53zM156.43 746.7h2.53v20.66h-2.53zM221.42 746.7h2.53v20.66h-2.53zM237.67 746.7h2.53v20.66h-2.53zM314.84 746.7h2.53v20.66h-2.53zM359.52 746.7h2.53v20.66h-2.53zM367.65 746.7h2.53v20.66h-2.53zM381.87 746.7h2.53v20.66h-2.53zM389.99 746.7h2.53v20.66h-2.53zM130.03 766.86h2.53v20.66h-2.53zM197.05 766.86h2.53v20.66h-2.53zM355.46 766.86h2.53v20.66h-2.53zM396.08 766.86h2.53v20.66h-2.53zM146.28 787.02h2.53v20.66h-2.53zM347.34 787.02h2.53v20.66h-2.53zM355.46 787.02h2.53v20.66h-2.53zM408.27 787.02h2.53v20.66h-2.53zM296.57 807.18h2.53v20.66h-2.53zM408.27 807.18h2.53v20.66h-2.53zM422.48 807.18h2.53v20.66h-2.53zM152.37 827.34h2.53v20.66h-2.53zM290.47 827.34h2.53v20.66h-2.53zM422.48 827.34h2.53v20.66h-2.53zM223.45 847.5h2.53v20.66h-2.53zM343.28 867.66h2.53v20.66h-2.53zM347.34 867.66h2.53v20.66h-2.53zM389.99 867.66h2.53v20.66h-2.53zM408.27 867.66h2.53v20.66h-2.53zM190.96 887.82h2.53v20.66h-2.53zM231.58 887.82h2.53v20.66h-2.53zM270.16 887.82h2.53v20.66h-2.53zM339.22 887.82h2.53v20.66h-2.53zM353.43 887.82h4.56v20.66h-4.56zM361.56 887.82h2.53v20.66h-2.53zM410.3 887.82h4.56v20.66h-4.56zM237.67 907.98h2.53v20.66h-2.53zM302.66 907.98h2.53v20.66h-2.53zM314.84 907.98h2.53v20.66h-2.53zM379.83 907.98h2.53v20.66h-2.53zM387.96 907.98h2.53v20.66h-2.53zM402.17 907.98h2.53v20.66h-2.53zM432.64 907.98h2.53v20.66h-2.53zM146.28 928.14h2.53v20.66h-2.53zM180.8 928.14h2.53v20.66h-2.53zM367.65 928.14h2.53v20.66h-2.53zM396.08 928.14h2.53v20.66h-2.53zM197.05 948.3h2.53v20.66h-2.53zM292.5 948.3h2.53v20.66h-2.53zM355.46 948.3h2.53v20.66h-2.53zM387.96 948.3h2.53v20.66h-2.53zM339.22 968.46h2.53v20.66h-2.53zM343.28 968.46h2.53v20.66h-2.53zM430.61 968.46h2.53v20.66h-2.53zM217.36 988.62h2.53v20.66h-2.53zM221.42 988.62h2.53v20.66h-2.53zM229.55 988.62h2.53v20.66h-2.53zM296.57 988.62h2.53v20.66h-2.53zM314.84 988.62h2.53v20.66h-2.53zM428.58 988.62h2.53v20.66h-2.53zM251.89 1008.78h2.53v20.66h-2.53zM385.93 1008.78h4.56v20.66h-4.56zM412.33 1008.78h2.53v20.66h-2.53zM430.61 1008.78h2.53v20.66h-2.53zM266.1 1028.94h2.53v20.16h-2.53zM270.16 1028.94h2.53v20.16h-2.53z"/><path fill="#00f" d="M132.06 645.9h2.53v20.66h-2.53zM152.37 645.9h2.53v20.66h-2.53zM166.59 645.9h2.53v20.66h-2.53zM170.65 645.9h2.53v20.66h-2.53zM195.02 645.9h2.53v20.66h-2.53zM213.3 645.9h2.53v20.66h-2.53zM219.39 645.9h2.53v20.66h-2.53zM243.76 645.9h2.53v20.66h-2.53zM264.07 645.9h2.53v20.66h-2.53zM274.23 645.9h2.53v20.66h-2.53zM282.35 645.9h4.56v20.66h-4.56zM294.54 645.9h2.53v20.66h-2.53zM306.72 645.9h2.53v20.66h-2.53zM329.06 645.9h2.53v20.66h-2.53zM335.15 645.9h2.53v20.66h-2.53zM343.28 645.9h2.53v20.66h-2.53zM349.37 645.9h2.53v20.66h-2.53zM363.59 645.9h2.53v20.66h-2.53zM392.02 645.9h4.56v20.66h-4.56zM420.45 645.9h2.53v20.66h-2.53zM432.64 645.9h4.06v20.66h-4.06zM160.49 666.06h2.53v20.66h-2.53zM174.71 666.06h2.53v20.66h-2.53zM199.08 666.06h2.53v20.66h-2.53zM205.18 666.06h2.53v20.66h-2.53zM239.7 666.06h2.53v20.66h-2.53zM312.81 666.06h2.53v20.66h-2.53zM320.94 666.06h2.53v20.66h-2.53zM383.9 666.06h4.56v20.66h-4.56zM389.99 666.06h2.53v20.66h-2.53zM422.48 666.06h2.53v20.66h-2.53zM142.22 686.22h2.53v20.66h-2.53zM160.49 686.22h2.53v20.66h-2.53zM176.74 686.22h2.53v20.66h-2.53zM211.27 686.22h2.53v20.66h-2.53zM227.52 686.22h2.53v20.66h-2.53zM237.67 686.22h2.53v20.66h-2.53zM260.01 686.22h2.53v20.66h-2.53zM312.81 686.22h2.53v20.66h-2.53zM383.9 686.22h4.56v20.66h-4.56zM428.58 686.22h2.53v20.66h-2.53zM136.12 706.38h2.53v20.66h-2.53zM142.22 706.38h2.53v20.66h-2.53zM148.31 706.38h2.53v20.66h-2.53zM160.49 706.38h2.53v20.66h-2.53zM174.71 706.38h2.53v20.66h-2.53zM186.9 706.38h2.53v20.66h-2.53zM201.11 706.38h4.56v20.66h-4.56zM207.21 706.38h2.53v20.66h-2.53zM227.52 706.38h2.53v20.66h-2.53zM233.61 706.38h2.53v20.66h-2.53zM298.6 706.38h2.53v20.66h-2.53zM398.11 706.38h2.53v20.66h-2.53zM408.27 706.38h2.53v20.66h-2.53zM160.49 726.54h2.53v20.66h-2.53zM176.74 726.54h2.53v20.66h-2.53zM199.08 726.54h4.56v20.66h-4.56zM209.24 726.54h2.53v20.66h-2.53zM227.52 726.54h2.53v20.66h-2.53zM239.7 726.54h2.53v20.66h-2.53zM312.81 726.54h2.53v20.66h-2.53zM325 726.54h2.53v20.66h-2.53zM361.56 726.54h2.53v20.66h-2.53zM385.93 726.54h2.53v20.66h-2.53zM408.27 726.54h2.53v20.66h-2.53zM142.22 746.7h4.56v20.66h-4.56zM160.49 746.7h2.53v20.66h-2.53zM172.68 746.7h2.53v20.66h-2.53zM176.74 746.7h2.53v20.66h-2.53zM199.08 746.7h2.53v20.66h-2.53zM205.18 746.7h2.53v20.66h-2.53zM209.24 746.7h4.56v20.66h-4.56zM227.52 746.7h2.53v20.66h-2.53zM260.01 746.7h4.56v20.66h-4.56zM333.12 746.7h2.53v20.66h-2.53zM337.18 746.7h2.53v20.66h-2.53zM341.25 746.7h2.53v20.66h-2.53zM385.93 746.7h2.53v20.66h-2.53zM424.51 746.7h2.53v20.66h-2.53zM160.49 766.86h2.53v20.66h-2.53zM172.68 766.86h4.56v20.66h-4.56zM199.08 766.86h2.53v20.66h-2.53zM223.45 766.86h2.53v20.66h-2.53zM227.52 766.86h2.53v20.66h-2.53zM239.7 766.86h2.53v20.66h-2.53zM268.13 766.86h2.53v20.66h-2.53zM298.6 766.86h2.53v20.66h-2.53zM337.18 766.86h2.53v20.66h-2.53zM142.22 787.02h2.53v20.66h-2.53zM160.49 787.02h2.53v20.66h-2.53zM172.68 787.02h6.59v20.66h-6.59zM199.08 787.02h2.53v20.66h-2.53zM205.18 787.02h2.53v20.66h-2.53zM227.52 787.02h2.53v20.66h-2.53zM243.76 787.02h2.53v20.66h-2.53zM268.13 787.02h2.53v20.66h-2.53zM298.6 787.02h2.53v20.66h-2.53zM312.81 787.02h2.53v20.66h-2.53zM337.18 787.02h2.53v20.66h-2.53zM375.77 787.02h2.53v20.66h-2.53zM381.87 787.02h4.56v20.66h-4.56zM136.12 807.18h2.53v20.66h-2.53zM160.49 807.18h2.53v20.66h-2.53zM221.42 807.18h2.53v20.66h-2.53zM227.52 807.18h2.53v20.66h-2.53zM233.61 807.18h2.53v20.66h-2.53zM260.01 807.18h2.53v20.66h-2.53zM298.6 807.18h2.53v20.66h-2.53zM375.77 807.18h2.53v20.66h-2.53zM383.9 807.18h4.56v20.66h-4.56zM398.11 807.18h2.53v20.66h-2.53zM428.58 807.18h2.53v20.66h-2.53zM160.49 827.34h2.53v20.66h-2.53zM174.71 827.34h4.56v20.66h-4.56zM199.08 827.34h4.56v20.66h-4.56zM205.18 827.34h2.53v20.66h-2.53zM227.52 827.34h4.56v20.66h-4.56zM235.64 827.34h2.53v20.66h-2.53zM251.89 827.34h2.53v20.66h-2.53zM260.01 827.34h2.53v20.66h-2.53zM298.6 827.34h2.53v20.66h-2.53zM333.12 827.34h2.53v20.66h-2.53zM375.77 827.34h2.53v20.66h-2.53zM385.93 827.34h2.53v20.66h-2.53zM400.14 827.34h2.53v20.66h-2.53zM424.51 827.34h2.53v20.66h-2.53zM134.09 847.5h2.53v20.66h-2.53zM142.22 847.5h4.56v20.66h-4.56zM148.31 847.5h2.53v20.66h-2.53zM160.49 847.5h2.53v20.66h-2.53zM176.74 847.5h2.53v20.66h-2.53zM199.08 847.5h4.56v20.66h-4.56zM227.52 847.5h2.53v20.66h-2.53zM239.7 847.5h2.53v20.66h-2.53zM251.89 847.5h2.53v20.66h-2.53zM260.01 847.5h2.53v20.66h-2.53zM298.6 847.5h2.53v20.66h-2.53zM312.81 847.5h2.53v20.66h-2.53zM398.11 847.5h4.56v20.66h-4.56zM424.51 847.5h2.53v20.66h-2.53zM160.49 867.66h2.53v20.66h-2.53zM172.68 867.66h6.59v20.66h-6.59zM227.52 867.66h4.56v20.66h-4.56zM239.7 867.66h2.53v20.66h-2.53zM251.89 867.66h2.53v20.66h-2.53zM260.01 867.66h2.53v20.66h-2.53zM268.13 867.66h2.53v20.66h-2.53zM298.6 867.66h2.53v20.66h-2.53zM312.81 867.66h2.53v20.66h-2.53zM333.12 867.66h2.53v20.66h-2.53zM337.18 867.66h2.53v20.66h-2.53zM341.25 867.66h2.53v20.66h-2.53zM383.9 867.66h4.56v20.66h-4.56zM398.11 867.66h4.56v20.66h-4.56zM428.58 867.66h2.53v20.66h-2.53zM142.22 887.82h2.53v20.66h-2.53zM160.49 887.82h2.53v20.66h-2.53zM172.68 887.82h2.53v20.66h-2.53zM176.74 887.82h2.53v20.66h-2.53zM199.08 887.82h2.53v20.66h-2.53zM205.18 887.82h2.53v20.66h-2.53zM227.52 887.82h2.53v20.66h-2.53zM262.04 887.82h2.53v20.66h-2.53zM298.6 887.82h2.53v20.66h-2.53zM312.81 887.82h2.53v20.66h-2.53zM389.99 887.82h2.53v20.66h-2.53zM400.14 887.82h2.53v20.66h-2.53zM426.55 887.82h2.53v20.66h-2.53zM142.22 907.98h2.53v20.66h-2.53zM160.49 907.98h2.53v20.66h-2.53zM174.71 907.98h2.53v20.66h-2.53zM201.11 907.98h2.53v20.66h-2.53zM209.24 907.98h2.53v20.66h-2.53zM227.52 907.98h2.53v20.66h-2.53zM260.01 907.98h2.53v20.66h-2.53zM268.13 907.98h2.53v20.66h-2.53zM312.81 907.98h2.53v20.66h-2.53zM337.18 907.98h2.53v20.66h-2.53zM341.25 907.98h2.53v20.66h-2.53zM383.9 907.98h2.53v20.66h-2.53zM410.3 907.98h2.53v20.66h-2.53zM426.55 907.98h2.53v20.66h-2.53zM148.31 928.14h2.53v20.66h-2.53zM160.49 928.14h2.53v20.66h-2.53zM172.68 928.14h2.53v20.66h-2.53zM205.18 928.14h2.53v20.66h-2.53zM235.64 928.14h2.53v20.66h-2.53zM239.7 928.14h2.53v20.66h-2.53zM251.89 928.14h2.53v20.66h-2.53zM268.13 928.14h2.53v20.66h-2.53zM298.6 928.14h2.53v20.66h-2.53zM302.66 928.14h2.53v20.66h-2.53zM312.81 928.14h2.53v20.66h-2.53zM333.12 928.14h2.53v20.66h-2.53zM375.77 928.14h2.53v20.66h-2.53zM381.87 928.14h2.53v20.66h-2.53zM142.22 948.3h2.53v20.66h-2.53zM148.31 948.3h2.53v20.66h-2.53zM160.49 948.3h2.53v20.66h-2.53zM172.68 948.3h6.59v20.66h-6.59zM186.9 948.3h2.53v20.66h-2.53zM199.08 948.3h4.56v20.66h-4.56zM205.18 948.3h2.53v20.66h-2.53zM209.24 948.3h2.53v20.66h-2.53zM260.01 948.3h2.53v20.66h-2.53zM298.6 948.3h2.53v20.66h-2.53zM312.81 948.3h2.53v20.66h-2.53zM333.12 948.3h2.53v20.66h-2.53zM385.93 948.3h2.53v20.66h-2.53zM160.49 968.46h2.53v20.66h-2.53zM174.71 968.46h4.56v20.66h-4.56zM199.08 968.46h2.53v20.66h-2.53zM205.18 968.46h2.53v20.66h-2.53zM209.24 968.46h2.53v20.66h-2.53zM227.52 968.46h2.53v20.66h-2.53zM260.01 968.46h2.53v20.66h-2.53zM298.6 968.46h2.53v20.66h-2.53zM312.81 968.46h2.53v20.66h-2.53zM385.93 968.46h2.53v20.66h-2.53zM142.22 988.62h2.53v20.66h-2.53zM160.49 988.62h2.53v20.66h-2.53zM172.68 988.62h2.53v20.66h-2.53zM199.08 988.62h2.53v20.66h-2.53zM251.89 988.62h2.53v20.66h-2.53zM268.13 988.62h2.53v20.66h-2.53zM298.6 988.62h2.53v20.66h-2.53zM353.43 988.62h2.53v20.66h-2.53zM361.56 988.62h2.53v20.66h-2.53zM383.9 988.62h2.53v20.66h-2.53zM400.14 988.62h2.53v20.66h-2.53zM426.55 988.62h2.53v20.66h-2.53zM142.22 1008.78h2.53v20.66h-2.53zM160.49 1008.78h2.53v20.66h-2.53zM174.71 1008.78h2.53v20.66h-2.53zM199.08 1008.78h2.53v20.66h-2.53zM203.14 1008.78h2.53v20.66h-2.53zM227.52 1008.78h2.53v20.66h-2.53zM260.01 1008.78h2.53v20.66h-2.53zM298.6 1008.78h2.53v20.66h-2.53zM312.81 1008.78h2.53v20.66h-2.53zM333.12 1008.78h2.53v20.66h-2.53zM398.11 1008.78h2.53v20.66h-2.53zM136.12 1028.94h2.53v20.16h-2.53zM160.49 1028.94h2.53v20.16h-2.53zM174.71 1028.94h2.53v20.16h-2.53zM199.08 1028.94h2.53v20.16h-2.53zM227.52 1028.94h2.53v20.16h-2.53zM260.01 1028.94h2.53v20.16h-2.53zM268.13 1028.94h2.53v20.16h-2.53zM298.6 1028.94h2.53v20.16h-2.53zM312.81 1028.94h2.53v20.16h-2.53zM383.9 1028.94h4.56v20.16h-4.56zM426.55 1028.94h2.53v20.16h-2.53z"/><path fill="#ff6060" d="M134.09 645.9h2.53v20.66h-2.53zM209.24 645.9h2.53v20.66h-2.53zM237.67 645.9h2.53v20.66h-2.53zM337.18 645.9h2.53v20.66h-2.53zM132.06 666.06h2.53v20.66h-2.53zM138.15 666.06h2.53v20.66h-2.53zM178.77 666.06h2.53v20.66h-2.53zM245.79 666.06h2.53v20.66h-2.53zM282.35 666.06h2.53v20.66h-2.53zM243.76 686.22h2.53v20.66h-2.53zM290.47 686.22h2.53v20.66h-2.53zM325 686.22h2.53v20.66h-2.53zM164.56 726.54h2.53v20.66h-2.53zM170.65 726.54h2.53v20.66h-2.53zM184.87 726.54h2.53v20.66h-2.53zM245.79 726.54h2.53v20.66h-2.53zM318.91 726.54h2.53v20.66h-2.53zM339.22 726.54h2.53v20.66h-2.53zM355.46 726.54h2.53v20.66h-2.53zM130.03 746.7h2.53v20.66h-2.53zM162.53 746.7h2.53v20.66h-2.53zM197.05 746.7h2.53v20.66h-2.53zM345.31 766.86h2.53v20.66h-2.53zM402.17 766.86h2.53v20.66h-2.53zM168.62 787.02h2.53v20.66h-2.53zM231.58 787.02h2.53v20.66h-2.53zM318.91 787.02h2.53v20.66h-2.53zM190.96 807.18h2.53v20.66h-2.53zM197.05 827.34h2.53v20.66h-2.53zM245.79 827.34h4.56v20.66h-4.56zM296.57 827.34h2.53v20.66h-2.53zM353.43 827.34h2.53v20.66h-2.53zM357.49 827.34h2.53v20.66h-2.53zM152.37 847.5h2.53v20.66h-2.53zM219.39 847.5h2.53v20.66h-2.53zM367.65 847.5h2.53v20.66h-2.53zM249.86 867.66h2.53v20.66h-2.53zM367.65 867.66h2.53v20.66h-2.53zM219.39 887.82h2.53v20.66h-2.53zM249.86 887.82h2.53v20.66h-2.53zM130.03 907.98h2.53v20.66h-2.53zM243.76 907.98h2.53v20.66h-2.53zM264.07 907.98h2.53v20.66h-2.53zM392.02 907.98h2.53v20.66h-2.53zM406.24 907.98h2.53v20.66h-2.53zM418.42 907.98h2.53v20.66h-2.53zM343.28 928.14h2.53v20.66h-2.53zM373.74 928.14h2.53v20.66h-2.53zM158.46 948.3h2.53v20.66h-2.53zM249.86 948.3h2.53v20.66h-2.53zM255.95 948.3h2.53v20.66h-2.53zM357.49 948.3h2.53v20.66h-2.53zM363.59 948.3h2.53v20.66h-2.53zM168.62 968.46h2.53v20.66h-2.53zM266.1 968.46h2.53v20.66h-2.53zM280.32 968.46h2.53v20.66h-2.53zM130.03 988.62h2.53v20.66h-2.53zM247.82 988.62h2.53v20.66h-2.53zM255.95 988.62h2.53v20.66h-2.53zM272.2 988.62h2.53v20.66h-2.53zM408.27 988.62h2.53v20.66h-2.53zM430.61 988.62h2.53v20.66h-2.53zM197.05 1008.78h2.53v20.66h-2.53zM292.5 1008.78h2.53v20.66h-2.53zM343.28 1008.78h4.56v20.66h-4.56zM408.27 1008.78h2.53v20.66h-2.53zM140.19 1028.94h2.53v20.16h-2.53zM255.95 1028.94h2.53v20.16h-2.53z"/><path fill="#ffafaf" d="M136.12 645.9h2.53v20.66h-2.53zM190.96 645.9h2.53v20.66h-2.53zM322.97 645.9h2.53v20.66h-2.53zM408.27 645.9h2.53v20.66h-2.53zM229.55 666.06h2.53v20.66h-2.53zM318.91 666.06h2.53v20.66h-2.53zM322.97 666.06h2.53v20.66h-2.53zM396.08 666.06h2.53v20.66h-2.53zM276.26 686.22h2.53v20.66h-2.53zM335.15 686.22h2.53v20.66h-2.53zM406.24 686.22h2.53v20.66h-2.53zM422.48 686.22h2.53v20.66h-2.53zM192.99 706.38h2.53v20.66h-2.53zM300.63 706.38h2.53v20.66h-2.53zM331.09 706.38h2.53v20.66h-2.53zM345.31 706.38h2.53v20.66h-2.53zM381.87 706.38h2.53v20.66h-2.53zM396.08 706.38h2.53v20.66h-2.53zM404.21 706.38h2.53v20.66h-2.53zM416.39 706.38h2.53v20.66h-2.53zM430.61 706.38h2.53v20.66h-2.53zM219.39 726.54h2.53v20.66h-2.53zM255.95 726.54h4.56v20.66h-4.56zM304.69 726.54h2.53v20.66h-2.53zM357.49 726.54h2.53v20.66h-2.53zM406.24 726.54h2.53v20.66h-2.53zM416.39 726.54h2.53v20.66h-2.53zM182.83 746.7h2.53v20.66h-2.53zM231.58 746.7h2.53v20.66h-2.53zM310.78 746.7h2.53v20.66h-2.53zM347.34 746.7h2.53v20.66h-2.53zM404.21 746.7h2.53v20.66h-2.53zM331.09 766.86h2.53v20.66h-2.53zM158.46 787.02h2.53v20.66h-2.53zM249.86 787.02h2.53v20.66h-2.53zM331.09 787.02h2.53v20.66h-2.53zM184.87 807.18h2.53v20.66h-2.53zM292.5 807.18h2.53v20.66h-2.53zM347.34 807.18h2.53v20.66h-2.53zM430.61 807.18h2.53v20.66h-2.53zM134.09 827.34h2.53v20.66h-2.53zM217.36 827.34h2.53v20.66h-2.53zM221.42 827.34h2.53v20.66h-2.53zM327.03 827.34h2.53v20.66h-2.53zM369.68 827.34h2.53v20.66h-2.53zM186.9 847.5h2.53v20.66h-2.53zM192.99 847.5h2.53v20.66h-2.53zM257.98 847.5h2.53v20.66h-2.53zM310.78 847.5h2.53v20.66h-2.53zM404.21 847.5h2.53v20.66h-2.53zM416.39 847.5h2.53v20.66h-2.53zM134.09 867.66h2.53v20.66h-2.53zM195.02 867.66h2.53v20.66h-2.53zM351.4 867.66h2.53v20.66h-2.53zM394.05 867.66h2.53v20.66h-2.53zM156.43 887.82h2.53v20.66h-2.53zM162.53 887.82h2.53v20.66h-2.53zM195.02 887.82h2.53v20.66h-2.53zM257.98 887.82h2.53v20.66h-2.53zM304.69 887.82h2.53v20.66h-2.53zM351.4 887.82h2.53v20.66h-2.53zM432.64 887.82h2.53v20.66h-2.53zM138.15 907.98h2.53v20.66h-2.53zM262.04 907.98h2.53v20.66h-2.53zM345.31 907.98h2.53v20.66h-2.53zM359.52 907.98h2.53v20.66h-2.53zM195.02 928.14h2.53v20.66h-2.53zM237.67 928.14h2.53v20.66h-2.53zM314.84 928.14h2.53v20.66h-2.53zM325 928.14h2.53v20.66h-2.53zM345.31 928.14h2.53v20.66h-2.53zM402.17 928.14h2.53v20.66h-2.53zM432.64 928.14h2.53v20.66h-2.53zM138.15 948.3h2.53v20.66h-2.53zM347.34 948.3h2.53v20.66h-2.53zM367.65 948.3h2.53v20.66h-2.53zM416.39 948.3h2.53v20.66h-2.53zM162.53 968.46h2.53v20.66h-2.53zM172.68 968.46h2.53v20.66h-2.53zM237.67 968.46h2.53v20.66h-2.53zM253.92 968.46h4.56v20.66h-4.56zM270.16 968.46h2.53v20.66h-2.53zM327.03 968.46h2.53v20.66h-2.53zM369.68 968.46h2.53v20.66h-2.53zM416.39 968.46h2.53v20.66h-2.53zM156.43 988.62h2.53v20.66h-2.53zM343.28 988.62h2.53v20.66h-2.53zM355.46 988.62h2.53v20.66h-2.53zM406.24 988.62h2.53v20.66h-2.53zM412.33 988.62h2.53v20.66h-2.53zM192.99 1008.78h2.53v20.66h-2.53zM357.49 1008.78h2.53v20.66h-2.53zM375.77 1008.78h2.53v20.66h-2.53zM190.96 1028.94h2.53v20.16h-2.53zM272.2 1028.94h2.53v20.16h-2.53zM314.84 1028.94h2.53v20.16h-2.53zM345.31 1028.94h2.53v20.16h-2.53zM381.87 1028.94h2.53v20.16h-2.53z"/><path fill="#ff7070" d="M138.15 645.9h2.53v20.66h-2.53zM148.31 645.9h2.53v20.66h-2.53zM229.55 645.9h2.53v20.66h-2.53zM298.6 645.9h2.53v20.66h-2.53zM361.56 645.9h2.53v20.66h-2.53zM410.3 645.9h2.53v20.66h-2.53zM418.42 645.9h2.53v20.66h-2.53zM231.58 666.06h2.53v20.66h-2.53zM241.73 666.06h4.56v20.66h-4.56zM314.84 666.06h2.53v20.66h-2.53zM414.36 686.22h2.53v20.66h-2.53zM432.64 686.22h2.53v20.66h-2.53zM180.8 706.38h2.53v20.66h-2.53zM197.05 706.38h2.53v20.66h-2.53zM217.36 706.38h2.53v20.66h-2.53zM266.1 706.38h2.53v20.66h-2.53zM359.52 706.38h2.53v20.66h-2.53zM373.74 706.38h2.53v20.66h-2.53zM434.67 706.38h2.03v20.66h-2.03zM253.92 726.54h2.53v20.66h-2.53zM262.04 726.54h2.53v20.66h-2.53zM270.16 726.54h2.53v20.66h-2.53zM276.26 726.54h2.53v20.66h-2.53zM310.78 726.54h2.53v20.66h-2.53zM316.88 726.54h2.53v20.66h-2.53zM381.87 726.54h2.53v20.66h-2.53zM152.37 746.7h2.53v20.66h-2.53zM217.36 766.86h2.53v20.66h-2.53zM231.58 766.86h2.53v20.66h-2.53zM369.68 766.86h2.53v20.66h-2.53zM247.82 787.02h2.53v20.66h-2.53zM345.31 787.02h2.53v20.66h-2.53zM158.46 807.18h2.53v20.66h-2.53zM180.8 807.18h2.53v20.66h-2.53zM217.36 807.18h2.53v20.66h-2.53zM288.44 807.18h2.53v20.66h-2.53zM331.09 827.34h2.53v20.66h-2.53zM371.71 827.34h2.53v20.66h-2.53zM184.87 847.5h2.53v20.66h-2.53zM221.42 847.5h2.53v20.66h-2.53zM255.95 847.5h2.53v20.66h-2.53zM418.42 847.5h2.53v20.66h-2.53zM428.58 847.5h2.53v20.66h-2.53zM138.15 867.66h4.56v20.66h-4.56zM164.56 867.66h2.53v20.66h-2.53zM241.73 867.66h2.53v20.66h-2.53zM339.22 867.66h2.53v20.66h-2.53zM406.24 867.66h2.53v20.66h-2.53zM154.4 887.82h2.53v20.66h-2.53zM243.76 887.82h2.53v20.66h-2.53zM292.5 887.82h2.53v20.66h-2.53zM434.67 887.82h2.03v20.66h-2.03zM140.19 907.98h2.53v20.66h-2.53zM170.65 907.98h2.53v20.66h-2.53zM412.33 907.98h2.53v20.66h-2.53zM136.12 928.14h2.53v20.66h-2.53zM192.99 928.14h2.53v20.66h-2.53zM241.73 928.14h2.53v20.66h-2.53zM276.26 928.14h2.53v20.66h-2.53zM357.49 928.14h2.53v20.66h-2.53zM418.42 928.14h2.53v20.66h-2.53zM140.19 948.3h2.53v20.66h-2.53zM257.98 948.3h2.53v20.66h-2.53zM278.29 948.3h2.53v20.66h-2.53zM296.57 948.3h2.53v20.66h-2.53zM331.09 948.3h2.53v20.66h-2.53zM432.64 948.3h2.53v20.66h-2.53zM192.99 968.46h2.53v20.66h-2.53zM292.5 968.46h2.53v20.66h-2.53zM296.57 968.46h2.53v20.66h-2.53zM353.43 968.46h2.53v20.66h-2.53zM379.83 968.46h2.53v20.66h-2.53zM138.15 988.62h2.53v20.66h-2.53zM152.37 988.62h2.53v20.66h-2.53zM184.87 988.62h2.53v20.66h-2.53zM219.39 988.62h2.53v20.66h-2.53zM241.73 988.62h2.53v20.66h-2.53zM253.92 988.62h2.53v20.66h-2.53zM288.44 988.62h2.53v20.66h-2.53zM292.5 988.62h2.53v20.66h-2.53zM347.34 988.62h2.53v20.66h-2.53zM357.49 988.62h2.53v20.66h-2.53zM156.43 1008.78h2.53v20.66h-2.53zM211.27 1008.78h2.53v20.66h-2.53zM219.39 1008.78h4.56v20.66h-4.56zM243.76 1008.78h2.53v20.66h-2.53zM262.04 1008.78h2.53v20.66h-2.53zM308.75 1008.78h2.53v20.66h-2.53zM325 1008.78h2.53v20.66h-2.53zM373.74 1008.78h2.53v20.66h-2.53zM404.21 1008.78h2.53v20.66h-2.53zM351.4 1028.94h2.53v20.16h-2.53zM387.96 1028.94h2.53v20.16h-2.53zM410.3 1028.94h2.53v20.16h-2.53z"/><path fill="#ff3030" d="M142.22 645.9h2.53v20.66h-2.53zM377.8 645.9h2.53v20.66h-2.53zM180.8 666.06h2.53v20.66h-2.53zM213.3 666.06h2.53v20.66h-2.53zM335.15 666.06h2.53v20.66h-2.53zM292.5 706.38h2.53v20.66h-2.53zM418.42 706.38h2.53v20.66h-2.53zM192.99 726.54h2.53v20.66h-2.53zM272.2 726.54h2.53v20.66h-2.53zM280.32 726.54h2.53v20.66h-2.53zM404.21 726.54h2.53v20.66h-2.53zM278.29 746.7h2.53v20.66h-2.53zM292.5 746.7h2.53v20.66h-2.53zM322.97 746.7h2.53v20.66h-2.53zM363.59 746.7h2.53v20.66h-2.53zM418.42 746.7h2.53v20.66h-2.53zM434.67 746.7h2.03v20.66h-2.03zM294.54 766.86h2.53v20.66h-2.53zM418.42 766.86h2.53v20.66h-2.53zM434.67 766.86h2.03v20.66h-2.03zM184.87 787.02h2.53v20.66h-2.53zM245.79 787.02h2.53v20.66h-2.53zM359.52 787.02h2.53v20.66h-2.53zM373.74 787.02h2.53v20.66h-2.53zM414.36 787.02h2.53v20.66h-2.53zM432.64 787.02h2.53v20.66h-2.53zM170.65 807.18h2.53v20.66h-2.53zM231.58 807.18h2.53v20.66h-2.53zM282.35 807.18h2.53v20.66h-2.53zM396.08 807.18h2.53v20.66h-2.53zM255.95 827.34h2.53v20.66h-2.53zM329.06 827.34h2.53v20.66h-2.53zM404.21 827.34h4.56v20.66h-4.56zM195.02 847.5h2.53v20.66h-2.53zM292.5 847.5h2.53v20.66h-2.53zM420.45 847.5h2.53v20.66h-2.53zM420.45 867.66h2.53v20.66h-2.53zM253.92 887.82h2.53v20.66h-2.53zM394.05 887.82h2.53v20.66h-2.53zM272.2 907.98h2.53v20.66h-2.53zM316.88 907.98h2.53v20.66h-2.53zM371.71 907.98h2.53v20.66h-2.53zM207.21 928.14h2.53v20.66h-2.53zM231.58 928.14h2.53v20.66h-2.53zM255.95 928.14h2.53v20.66h-2.53zM262.04 928.14h2.53v20.66h-2.53zM300.63 928.14h2.53v20.66h-2.53zM152.37 948.3h2.53v20.66h-2.53zM241.73 948.3h2.53v20.66h-2.53zM272.2 948.3h2.53v20.66h-2.53zM327.03 948.3h2.53v20.66h-2.53zM134.09 968.46h2.53v20.66h-2.53zM245.79 968.46h4.56v20.66h-4.56zM365.62 968.46h2.53v20.66h-2.53zM412.33 968.46h2.53v20.66h-2.53zM136.12 988.62h2.53v20.66h-2.53zM264.07 988.62h2.53v20.66h-2.53zM128 1008.78h2.53v20.66h-2.53zM170.65 1008.78h2.53v20.66h-2.53zM389.99 1008.78h2.53v20.66h-2.53zM402.17 1008.78h2.53v20.66h-2.53z"/><path fill="#ff9f9f" d="M144.25 645.9h2.53v20.66h-2.53zM239.7 645.9h2.53v20.66h-2.53zM268.13 645.9h2.53v20.66h-2.53zM310.78 645.9h2.53v20.66h-2.53zM424.51 645.9h2.53v20.66h-2.53zM158.46 666.06h2.53v20.66h-2.53zM197.05 666.06h2.53v20.66h-2.53zM207.21 666.06h2.53v20.66h-2.53zM215.33 666.06h2.53v20.66h-2.53zM264.07 666.06h4.56v20.66h-4.56zM280.32 666.06h2.53v20.66h-2.53zM300.63 666.06h2.53v20.66h-2.53zM343.28 666.06h2.53v20.66h-2.53zM392.02 666.06h2.53v20.66h-2.53zM190.96 686.22h2.53v20.66h-2.53zM241.73 686.22h2.53v20.66h-2.53zM300.63 686.22h2.53v20.66h-2.53zM327.03 686.22h2.53v20.66h-2.53zM359.52 686.22h2.53v20.66h-2.53zM377.8 686.22h2.53v20.66h-2.53zM343.28 706.38h2.53v20.66h-2.53zM351.4 706.38h2.53v20.66h-2.53zM357.49 706.38h2.53v20.66h-2.53zM138.15 726.54h2.53v20.66h-2.53zM188.93 726.54h2.53v20.66h-2.53zM231.58 726.54h2.53v20.66h-2.53zM243.76 726.54h2.53v20.66h-2.53zM290.47 726.54h4.56v20.66h-4.56zM373.74 746.7h2.53v20.66h-2.53zM432.64 746.7h2.53v20.66h-2.53zM322.97 766.86h2.53v20.66h-2.53zM365.62 766.86h2.53v20.66h-2.53zM406.24 766.86h2.53v20.66h-2.53zM215.33 787.02h4.56v20.66h-4.56zM257.98 787.02h2.53v20.66h-2.53zM389.99 787.02h2.53v20.66h-2.53zM144.25 807.18h2.53v20.66h-2.53zM207.21 807.18h2.53v20.66h-2.53zM237.67 807.18h2.53v20.66h-2.53zM247.82 807.18h2.53v20.66h-2.53zM322.97 807.18h2.53v20.66h-2.53zM345.31 827.34h2.53v20.66h-2.53zM408.27 827.34h2.53v20.66h-2.53zM188.93 847.5h2.53v20.66h-2.53zM276.26 847.5h2.53v20.66h-2.53zM331.09 847.5h2.53v20.66h-2.53zM414.36 847.5h2.53v20.66h-2.53zM434.67 847.5h2.03v20.66h-2.03zM180.8 867.66h2.53v20.66h-2.53zM192.99 867.66h2.53v20.66h-2.53zM290.47 867.66h2.53v20.66h-2.53zM322.97 867.66h2.53v20.66h-2.53zM192.99 887.82h2.53v20.66h-2.53zM247.82 887.82h2.53v20.66h-2.53zM343.28 887.82h4.56v20.66h-4.56zM422.48 887.82h2.53v20.66h-2.53zM195.02 907.98h2.53v20.66h-2.53zM229.55 907.98h2.53v20.66h-2.53zM288.44 907.98h2.53v20.66h-2.53zM310.78 907.98h2.53v20.66h-2.53zM343.28 907.98h2.53v20.66h-2.53zM347.34 907.98h2.53v20.66h-2.53zM373.74 907.98h2.53v20.66h-2.53zM381.87 907.98h2.53v20.66h-2.53zM414.36 907.98h2.53v20.66h-2.53zM257.98 928.14h2.53v20.66h-2.53zM272.2 928.14h2.53v20.66h-2.53zM278.29 928.14h2.53v20.66h-2.53zM296.57 928.14h2.53v20.66h-2.53zM365.62 928.14h2.53v20.66h-2.53zM422.48 928.14h2.53v20.66h-2.53zM195.02 948.3h2.53v20.66h-2.53zM253.92 948.3h2.53v20.66h-2.53zM359.52 948.3h2.53v20.66h-2.53zM156.43 968.46h2.53v20.66h-2.53zM355.46 968.46h2.53v20.66h-2.53zM428.58 968.46h2.53v20.66h-2.53zM387.96 988.62h2.53v20.66h-2.53zM410.3 988.62h2.53v20.66h-2.53zM180.8 1008.78h2.53v20.66h-2.53zM331.09 1008.78h2.53v20.66h-2.53zM130.03 1028.94h2.53v20.16h-2.53zM162.53 1028.94h2.53v20.16h-2.53zM207.21 1028.94h2.53v20.16h-2.53zM355.46 1028.94h2.53v20.16h-2.53zM418.42 1028.94h2.53v20.16h-2.53zM430.61 1028.94h2.53v20.16h-2.53z"/><path fill="#2020ff" d="M146.28 645.9h2.53v20.66h-2.53zM180.8 645.9h2.53v20.66h-2.53zM292.5 645.9h2.53v20.66h-2.53zM308.75 645.9h2.53v20.66h-2.53zM142.22 666.06h2.53v20.66h-2.53zM162.53 666.06h2.53v20.66h-2.53zM186.9 666.06h2.53v20.66h-2.53zM148.31 686.22h2.53v20.66h-2.53zM154.4 686.22h2.53v20.66h-2.53zM229.55 686.22h2.53v20.66h-2.53zM233.61 686.22h2.53v20.66h-2.53zM379.83 686.22h2.53v20.66h-2.53zM144.25 706.38h2.53v20.66h-2.53zM176.74 706.38h2.53v20.66h-2.53zM237.67 706.38h2.53v20.66h-2.53zM142.22 726.54h2.53v20.66h-2.53zM148.31 726.54h2.53v20.66h-2.53zM136.12 766.86h2.53v20.66h-2.53zM186.9 766.86h2.53v20.66h-2.53zM203.14 766.86h2.53v20.66h-2.53zM233.61 766.86h2.53v20.66h-2.53zM136.12 787.02h2.53v20.66h-2.53zM361.56 787.02h2.53v20.66h-2.53zM229.55 807.18h2.53v20.66h-2.53zM144.25 827.34h2.53v20.66h-2.53zM136.12 847.5h2.53v20.66h-2.53zM410.3 847.5h2.53v20.66h-2.53zM426.55 847.5h2.53v20.66h-2.53zM221.42 867.66h2.53v20.66h-2.53zM381.87 867.66h2.53v20.66h-2.53zM186.9 887.82h2.53v20.66h-2.53zM201.11 887.82h2.53v20.66h-2.53zM229.55 887.82h2.53v20.66h-2.53zM235.64 887.82h2.53v20.66h-2.53zM174.71 928.14h2.53v20.66h-2.53zM361.56 928.14h2.53v20.66h-2.53zM371.71 928.14h2.53v20.66h-2.53zM136.12 948.3h2.53v20.66h-2.53zM268.13 948.3h2.53v20.66h-2.53zM333.12 968.46h2.53v20.66h-2.53zM174.71 988.62h2.53v20.66h-2.53zM325 988.62h2.53v20.66h-2.53zM144.25 1008.78h2.53v20.66h-2.53zM400.14 1008.78h2.53v20.66h-2.53zM176.74 1028.94h2.53v20.16h-2.53zM205.18 1028.94h2.53v20.16h-2.53zM211.27 1028.94h2.53v20.16h-2.53zM239.7 1028.94h2.53v20.16h-2.53z"/><path fill="#afafff" d="M150.34 645.9h2.53v20.66h-2.53zM276.26 645.9h2.53v20.66h-2.53zM373.74 645.9h2.53v20.66h-2.53zM381.87 645.9h2.53v20.66h-2.53zM396.08 645.9h2.53v20.66h-2.53zM337.18 666.06h2.53v20.66h-2.53zM205.18 686.22h2.53v20.66h-2.53zM375.77 686.22h2.53v20.66h-2.53zM389.99 686.22h2.53v20.66h-2.53zM396.08 686.22h2.53v20.66h-2.53zM400.14 686.22h2.53v20.66h-2.53zM410.3 686.22h2.53v20.66h-2.53zM400.14 706.38h2.53v20.66h-2.53zM136.12 726.54h2.53v20.66h-2.53zM251.89 726.54h2.53v20.66h-2.53zM274.23 726.54h2.53v20.66h-2.53zM288.44 726.54h2.53v20.66h-2.53zM333.12 726.54h2.53v20.66h-2.53zM203.14 746.7h2.53v20.66h-2.53zM235.64 746.7h2.53v20.66h-2.53zM243.76 746.7h2.53v20.66h-2.53zM339.22 746.7h2.53v20.66h-2.53zM375.77 746.7h2.53v20.66h-2.53zM414.36 746.7h2.53v20.66h-2.53zM428.58 746.7h2.53v20.66h-2.53zM192.99 766.86h2.53v20.66h-2.53zM339.22 766.86h2.53v20.66h-2.53zM379.83 766.86h2.53v20.66h-2.53zM383.9 766.86h2.53v20.66h-2.53zM408.27 766.86h2.53v20.66h-2.53zM182.83 787.02h2.53v20.66h-2.53zM186.9 787.02h2.53v20.66h-2.53zM235.64 787.02h2.53v20.66h-2.53zM270.16 787.02h2.53v20.66h-2.53zM327.03 787.02h2.53v20.66h-2.53zM400.14 787.02h2.53v20.66h-2.53zM412.33 787.02h2.53v20.66h-2.53zM172.68 807.18h4.56v20.66h-4.56zM197.05 807.18h2.53v20.66h-2.53zM333.12 807.18h2.53v20.66h-2.53zM365.62 807.18h2.53v20.66h-2.53zM381.87 807.18h2.53v20.66h-2.53zM209.24 827.34h2.53v20.66h-2.53zM233.61 827.34h2.53v20.66h-2.53zM383.9 827.34h2.53v20.66h-2.53zM426.55 827.34h2.53v20.66h-2.53zM233.61 847.5h2.53v20.66h-2.53zM304.69 847.5h2.53v20.66h-2.53zM314.84 847.5h2.53v20.66h-2.53zM325 847.5h2.53v20.66h-2.53zM371.71 847.5h2.53v20.66h-2.53zM359.52 867.66h2.53v20.66h-2.53zM414.36 867.66h2.53v20.66h-2.53zM424.51 867.66h2.53v20.66h-2.53zM255.95 887.82h2.53v20.66h-2.53zM314.84 887.82h2.53v20.66h-2.53zM325 887.82h2.53v20.66h-2.53zM337.18 887.82h2.53v20.66h-2.53zM398.11 887.82h2.53v20.66h-2.53zM158.46 907.98h2.53v20.66h-2.53zM215.33 907.98h2.53v20.66h-2.53zM223.45 907.98h2.53v20.66h-2.53zM276.26 907.98h2.53v20.66h-2.53zM424.51 907.98h2.53v20.66h-2.53zM164.56 928.14h2.53v20.66h-2.53zM168.62 928.14h2.53v20.66h-2.53zM176.74 928.14h2.53v20.66h-2.53zM182.83 928.14h2.53v20.66h-2.53zM243.76 928.14h2.53v20.66h-2.53zM428.58 928.14h2.53v20.66h-2.53zM270.16 948.3h2.53v20.66h-2.53zM310.78 948.3h2.53v20.66h-2.53zM341.25 948.3h2.53v20.66h-2.53zM182.83 968.46h2.53v20.66h-2.53zM207.21 968.46h2.53v20.66h-2.53zM223.45 968.46h2.53v20.66h-2.53zM300.63 968.46h2.53v20.66h-2.53zM325 968.46h2.53v20.66h-2.53zM422.48 968.46h2.53v20.66h-2.53zM270.16 988.62h2.53v20.66h-2.53zM304.69 988.62h2.53v20.66h-2.53zM341.25 988.62h2.53v20.66h-2.53zM136.12 1008.78h2.53v20.66h-2.53zM266.1 1008.78h2.53v20.66h-2.53zM302.66 1008.78h2.53v20.66h-2.53zM361.56 1008.78h2.53v20.66h-2.53zM383.9 1008.78h2.53v20.66h-2.53zM172.68 1028.94h2.53v20.16h-2.53zM251.89 1028.94h2.53v20.16h-2.53zM257.98 1028.94h2.53v20.16h-2.53zM300.63 1028.94h2.53v20.16h-2.53zM398.11 1028.94h2.53v20.16h-2.53zM422.48 1028.94h2.53v20.16h-2.53z"/><path fill="#ffdfdf" d="M154.4 645.9h2.53v20.66h-2.53zM211.27 645.9h2.53v20.66h-2.53zM217.36 645.9h2.53v20.66h-2.53zM314.84 645.9h2.53v20.66h-2.53zM369.68 645.9h2.53v20.66h-2.53zM209.24 666.06h2.53v20.66h-2.53zM249.86 666.06h2.53v20.66h-2.53zM351.4 666.06h2.53v20.66h-2.53zM404.21 666.06h2.53v20.66h-2.53zM408.27 666.06h2.53v20.66h-2.53zM192.99 686.22h2.53v20.66h-2.53zM314.84 686.22h2.53v20.66h-2.53zM343.28 686.22h2.53v20.66h-2.53zM351.4 686.22h2.53v20.66h-2.53zM361.56 686.22h2.53v20.66h-2.53zM182.83 706.38h2.53v20.66h-2.53zM195.02 726.54h4.56v20.66h-4.56zM375.77 726.54h2.53v20.66h-2.53zM190.96 746.7h2.53v20.66h-2.53zM288.44 746.7h2.53v20.66h-2.53zM351.4 746.7h2.53v20.66h-2.53zM132.06 766.86h2.53v20.66h-2.53zM351.4 766.86h2.53v20.66h-2.53zM416.39 766.86h2.53v20.66h-2.53zM134.09 787.02h2.53v20.66h-2.53zM190.96 787.02h2.53v20.66h-2.53zM201.11 787.02h2.53v20.66h-2.53zM255.95 787.02h2.53v20.66h-2.53zM396.08 787.02h2.53v20.66h-2.53zM168.62 807.18h2.53v20.66h-2.53zM239.7 807.18h2.53v20.66h-2.53zM262.04 807.18h2.53v20.66h-2.53zM276.26 807.18h2.53v20.66h-2.53zM404.21 807.18h4.56v20.66h-4.56zM130.03 827.34h2.53v20.66h-2.53zM154.4 847.5h2.53v20.66h-2.53zM231.58 847.5h2.53v20.66h-2.53zM337.18 847.5h2.53v20.66h-2.53zM343.28 847.5h2.53v20.66h-2.53zM396.08 847.5h2.53v20.66h-2.53zM408.27 847.5h2.53v20.66h-2.53zM422.48 847.5h2.53v20.66h-2.53zM430.61 847.5h2.53v20.66h-2.53zM237.67 867.66h2.53v20.66h-2.53zM387.96 867.66h2.53v20.66h-2.53zM402.17 867.66h2.53v20.66h-2.53zM422.48 867.66h2.53v20.66h-2.53zM136.12 887.82h2.53v20.66h-2.53zM221.42 887.82h2.53v20.66h-2.53zM239.7 887.82h2.53v20.66h-2.53zM296.57 887.82h2.53v20.66h-2.53zM341.25 887.82h2.53v20.66h-2.53zM347.34 887.82h2.53v20.66h-2.53zM377.8 887.82h2.53v20.66h-2.53zM134.09 907.98h2.53v20.66h-2.53zM231.58 907.98h2.53v20.66h-2.53zM325 907.98h2.53v20.66h-2.53zM158.46 928.14h2.53v20.66h-2.53zM184.87 928.14h2.53v20.66h-2.53zM188.93 928.14h2.53v20.66h-2.53zM327.03 928.14h4.56v20.66h-4.56zM353.43 928.14h2.53v20.66h-2.53zM379.83 928.14h2.53v20.66h-2.53zM162.53 948.3h2.53v20.66h-2.53zM215.33 948.3h2.53v20.66h-2.53zM233.61 948.3h2.53v20.66h-2.53zM276.26 948.3h2.53v20.66h-2.53zM318.91 948.3h2.53v20.66h-2.53zM339.22 948.3h2.53v20.66h-2.53zM410.3 948.3h2.53v20.66h-2.53zM430.61 948.3h2.53v20.66h-2.53zM158.46 968.46h2.53v20.66h-2.53zM302.66 968.46h2.53v20.66h-2.53zM322.97 968.46h2.53v20.66h-2.53zM345.31 988.62h2.53v20.66h-2.53zM365.62 988.62h2.53v20.66h-2.53zM404.21 988.62h2.53v20.66h-2.53zM140.19 1008.78h2.53v20.66h-2.53zM168.62 1008.78h2.53v20.66h-2.53zM223.45 1008.78h4.56v20.66h-4.56zM233.61 1008.78h2.53v20.66h-2.53zM235.64 1028.94h2.53v20.16h-2.53zM241.73 1028.94h2.53v20.16h-2.53zM357.49 1028.94h2.53v20.16h-2.53zM408.27 1028.94h2.53v20.16h-2.53z"/><path fill="#ffbfbf" d="M156.43 645.9h2.53v20.66h-2.53zM192.99 645.9h2.53v20.66h-2.53zM217.36 666.06h2.53v20.66h-2.53zM270.16 666.06h2.53v20.66h-2.53zM276.26 666.06h2.53v20.66h-2.53zM302.66 666.06h2.53v20.66h-2.53zM357.49 666.06h2.53v20.66h-2.53zM152.37 686.22h2.53v20.66h-2.53zM298.6 686.22h2.53v20.66h-2.53zM373.74 686.22h2.53v20.66h-2.53zM140.19 706.38h2.53v20.66h-2.53zM172.68 706.38h2.53v20.66h-2.53zM215.33 706.38h2.53v20.66h-2.53zM243.76 706.38h2.53v20.66h-2.53zM410.3 706.38h2.53v20.66h-2.53zM150.34 726.54h2.53v20.66h-2.53zM347.34 726.54h2.53v20.66h-2.53zM420.45 726.54h2.53v20.66h-2.53zM158.46 746.7h2.53v20.66h-2.53zM349.37 746.7h2.53v20.66h-2.53zM257.98 766.86h2.53v20.66h-2.53zM320.94 766.86h2.53v20.66h-2.53zM373.74 766.86h2.53v20.66h-2.53zM430.61 766.86h2.53v20.66h-2.53zM219.39 787.02h4.56v20.66h-4.56zM320.94 787.02h2.53v20.66h-2.53zM387.96 787.02h2.53v20.66h-2.53zM152.37 807.18h2.53v20.66h-2.53zM243.76 807.18h2.53v20.66h-2.53zM300.63 807.18h2.53v20.66h-2.53zM325 807.18h2.53v20.66h-2.53zM432.64 807.18h2.53v20.66h-2.53zM182.83 827.34h2.53v20.66h-2.53zM266.1 827.34h2.53v20.66h-2.53zM392.02 827.34h2.53v20.66h-2.53zM416.39 827.34h2.53v20.66h-2.53zM138.15 847.5h2.53v20.66h-2.53zM164.56 847.5h2.53v20.66h-2.53zM229.55 847.5h2.53v20.66h-2.53zM373.74 847.5h4.56v20.66h-4.56zM168.62 867.66h2.53v20.66h-2.53zM197.05 867.66h2.53v20.66h-2.53zM207.21 867.66h2.53v20.66h-2.53zM292.5 867.66h2.53v20.66h-2.53zM371.71 867.66h2.53v20.66h-2.53zM412.33 867.66h2.53v20.66h-2.53zM284.38 887.82h2.53v20.66h-2.53zM365.62 887.82h6.59v20.66h-6.59zM182.83 907.98h4.56v20.66h-4.56zM215.33 928.14h2.53v20.66h-2.53zM270.16 928.14h2.53v20.66h-2.53zM351.4 928.14h2.53v20.66h-2.53zM132.06 948.3h2.53v20.66h-2.53zM184.87 948.3h2.53v20.66h-2.53zM188.93 948.3h2.53v20.66h-2.53zM217.36 948.3h2.53v20.66h-2.53zM322.97 948.3h2.53v20.66h-2.53zM152.37 968.46h2.53v20.66h-2.53zM257.98 968.46h2.53v20.66h-2.53zM288.44 968.46h2.53v20.66h-2.53zM345.31 968.46h2.53v20.66h-2.53zM207.21 988.62h2.53v20.66h-2.53zM396.08 988.62h2.53v20.66h-2.53zM188.93 1008.78h2.53v20.66h-2.53zM253.92 1008.78h2.53v20.66h-2.53zM276.26 1008.78h2.53v20.66h-2.53zM414.36 1008.78h2.53v20.66h-2.53zM347.34 1028.94h2.53v20.16h-2.53zM414.36 1028.94h2.53v20.16h-2.53z"/><path fill="#9f9fff" d="M158.46 645.9h2.53v20.66h-2.53zM253.92 645.9h2.53v20.66h-2.53zM296.57 645.9h2.53v20.66h-2.53zM318.91 645.9h2.53v20.66h-2.53zM325 645.9h2.53v20.66h-2.53zM353.43 645.9h4.56v20.66h-4.56zM389.99 645.9h2.53v20.66h-2.53zM404.21 645.9h4.56v20.66h-4.56zM182.83 666.06h2.53v20.66h-2.53zM237.67 666.06h2.53v20.66h-2.53zM310.78 666.06h2.53v20.66h-2.53zM398.11 666.06h2.53v20.66h-2.53zM134.09 686.22h2.53v20.66h-2.53zM195.02 686.22h4.56v20.66h-4.56zM203.14 686.22h2.53v20.66h-2.53zM219.39 686.22h2.53v20.66h-2.53zM253.92 686.22h2.53v20.66h-2.53zM361.56 706.38h2.53v20.66h-2.53zM379.83 706.38h2.53v20.66h-2.53zM426.55 706.38h2.53v20.66h-2.53zM156.43 726.54h2.53v20.66h-2.53zM168.62 726.54h2.53v20.66h-2.53zM174.71 726.54h2.53v20.66h-2.53zM225.48 726.54h2.53v20.66h-2.53zM235.64 726.54h2.53v20.66h-2.53zM266.1 726.54h2.53v20.66h-2.53zM371.71 726.54h2.53v20.66h-2.53zM428.58 726.54h2.53v20.66h-2.53zM251.89 746.7h2.53v20.66h-2.53zM379.83 746.7h2.53v20.66h-2.53zM134.09 766.86h2.53v20.66h-2.53zM142.22 766.86h2.53v20.66h-2.53zM221.42 766.86h2.53v20.66h-2.53zM410.3 766.86h2.53v20.66h-2.53zM188.93 787.02h2.53v20.66h-2.53zM302.66 787.02h2.53v20.66h-2.53zM325 787.02h2.53v20.66h-2.53zM205.18 807.18h2.53v20.66h-2.53zM314.84 807.18h2.53v20.66h-2.53zM343.28 807.18h2.53v20.66h-2.53zM353.43 807.18h2.53v20.66h-2.53zM136.12 827.34h2.53v20.66h-2.53zM156.43 827.34h2.53v20.66h-2.53zM188.93 827.34h2.53v20.66h-2.53zM215.33 827.34h2.53v20.66h-2.53zM257.98 827.34h2.53v20.66h-2.53zM268.13 827.34h2.53v20.66h-2.53zM312.81 827.34h2.53v20.66h-2.53zM396.08 827.34h2.53v20.66h-2.53zM355.46 847.5h2.53v20.66h-2.53zM201.11 867.66h2.53v20.66h-2.53zM373.74 867.66h2.53v20.66h-2.53zM266.1 887.82h2.53v20.66h-2.53zM146.28 907.98h2.53v20.66h-2.53zM162.53 907.98h2.53v20.66h-2.53zM327.03 907.98h2.53v20.66h-2.53zM201.11 928.14h2.53v20.66h-2.53zM359.52 928.14h2.53v20.66h-2.53zM387.96 928.14h2.53v20.66h-2.53zM192.99 948.3h2.53v20.66h-2.53zM229.55 948.3h2.53v20.66h-2.53zM383.9 948.3h2.53v20.66h-2.53zM424.51 948.3h2.53v20.66h-2.53zM190.96 968.46h2.53v20.66h-2.53zM201.11 968.46h2.53v20.66h-2.53zM201.11 988.62h2.53v20.66h-2.53zM266.1 988.62h2.53v20.66h-2.53zM371.71 988.62h2.53v20.66h-2.53zM379.83 988.62h2.53v20.66h-2.53zM416.39 988.62h2.53v20.66h-2.53zM176.74 1008.78h2.53v20.66h-2.53zM314.84 1008.78h2.53v20.66h-2.53zM377.8 1008.78h2.53v20.66h-2.53zM203.14 1028.94h2.53v20.16h-2.53zM359.52 1028.94h2.53v20.16h-2.53zM365.62 1028.94h2.53v20.16h-2.53z"/><path fill="#f00" d="M160.49 645.9h2.53v20.66h-2.53zM172.68 645.9h6.59v20.66h-6.59zM199.08 645.9h4.56v20.66h-4.56zM205.18 645.9h2.53v20.66h-2.53zM233.61 645.9h4.56v20.66h-4.56zM385.93 645.9h2.53v20.66h-2.53zM400.14 645.9h2.53v20.66h-2.53zM426.55 645.9h2.53v20.66h-2.53zM150.34 666.06h4.56v20.66h-4.56zM166.59 666.06h2.53v20.66h-2.53zM184.87 666.06h2.53v20.66h-2.53zM255.95 666.06h2.53v20.66h-2.53zM272.2 666.06h4.56v20.66h-4.56zM284.38 666.06h4.56v20.66h-4.56zM294.54 666.06h2.53v20.66h-2.53zM306.72 666.06h2.53v20.66h-2.53zM316.88 666.06h2.53v20.66h-2.53zM353.43 666.06h2.53v20.66h-2.53zM363.59 666.06h2.53v20.66h-2.53zM412.33 666.06h2.53v20.66h-2.53zM418.42 666.06h4.56v20.66h-4.56zM432.64 666.06h4.06v20.66h-4.06zM128 686.22h2.53v20.66h-2.53zM166.59 686.22h2.53v20.66h-2.53zM170.65 686.22h2.53v20.66h-2.53zM178.77 686.22h2.53v20.66h-2.53zM213.3 686.22h2.53v20.66h-2.53zM217.36 686.22h2.53v20.66h-2.53zM245.79 686.22h2.53v20.66h-2.53zM255.95 686.22h2.53v20.66h-2.53zM264.07 686.22h2.53v20.66h-2.53zM278.29 686.22h10.65v20.66h-10.65zM294.54 686.22h2.53v20.66h-2.53zM306.72 686.22h4.56v20.66h-4.56zM316.88 686.22h4.56v20.66h-4.56zM329.06 686.22h4.56v20.66h-4.56zM349.37 686.22h2.53v20.66h-2.53zM363.59 686.22h2.53v20.66h-2.53zM394.05 686.22h2.53v20.66h-2.53zM418.42 686.22h4.56v20.66h-4.56zM434.67 686.22h2.03v20.66h-2.03zM128 706.38h6.59v20.66h-6.59zM146.28 706.38h2.53v20.66h-2.53zM150.34 706.38h2.53v20.66h-2.53zM166.59 706.38h2.53v20.66h-2.53zM170.65 706.38h2.53v20.66h-2.53zM178.77 706.38h2.53v20.66h-2.53zM184.87 706.38h2.53v20.66h-2.53zM213.3 706.38h2.53v20.66h-2.53zM241.73 706.38h2.53v20.66h-2.53zM245.79 706.38h6.59v20.66h-6.59zM264.07 706.38h2.53v20.66h-2.53zM272.2 706.38h8.62v20.66h-8.62zM282.35 706.38h6.59v20.66h-6.59zM294.54 706.38h2.53v20.66h-2.53zM306.72 706.38h4.56v20.66h-4.56zM316.88 706.38h2.53v20.66h-2.53zM327.03 706.38h4.56v20.66h-4.56zM335.15 706.38h2.53v20.66h-2.53zM349.37 706.38h2.53v20.66h-2.53zM353.43 706.38h2.53v20.66h-2.53zM363.59 706.38h2.53v20.66h-2.53zM369.68 706.38h2.53v20.66h-2.53zM394.05 706.38h2.53v20.66h-2.53zM406.24 706.38h2.53v20.66h-2.53zM420.45 706.38h2.53v20.66h-2.53zM432.64 706.38h2.53v20.66h-2.53zM128 726.54h2.53v20.66h-2.53zM180.8 726.54h2.53v20.66h-2.53zM213.3 726.54h4.56v20.66h-4.56zM247.82 726.54h2.53v20.66h-2.53zM264.07 726.54h2.53v20.66h-2.53zM282.35 726.54h2.53v20.66h-2.53zM294.54 726.54h2.53v20.66h-2.53zM306.72 726.54h4.56v20.66h-4.56zM327.03 726.54h4.56v20.66h-4.56zM335.15 726.54h2.53v20.66h-2.53zM422.48 726.54h2.53v20.66h-2.53zM432.64 726.54h2.53v20.66h-2.53zM128 746.7h2.53v20.66h-2.53zM132.06 746.7h2.53v20.66h-2.53zM150.34 746.7h2.53v20.66h-2.53zM166.59 746.7h2.53v20.66h-2.53zM178.77 746.7h4.56v20.66h-4.56zM213.3 746.7h2.53v20.66h-2.53zM241.73 746.7h2.53v20.66h-2.53zM247.82 746.7h4.56v20.66h-4.56zM255.95 746.7h4.56v20.66h-4.56zM264.07 746.7h2.53v20.66h-2.53zM272.2 746.7h4.56v20.66h-4.56zM282.35 746.7h4.56v20.66h-4.56zM290.47 746.7h2.53v20.66h-2.53zM294.54 746.7h4.56v20.66h-4.56zM306.72 746.7h4.56v20.66h-4.56zM316.88 746.7h2.53v20.66h-2.53zM329.06 746.7h4.56v20.66h-4.56zM335.15 746.7h2.53v20.66h-2.53zM345.31 746.7h2.53v20.66h-2.53zM353.43 746.7h2.53v20.66h-2.53zM394.05 746.7h2.53v20.66h-2.53zM420.45 746.7h2.53v20.66h-2.53zM128 766.86h2.53v20.66h-2.53zM152.37 766.86h2.53v20.66h-2.53zM166.59 766.86h2.53v20.66h-2.53zM170.65 766.86h2.53v20.66h-2.53zM178.77 766.86h4.56v20.66h-4.56zM184.87 766.86h2.53v20.66h-2.53zM213.3 766.86h2.53v20.66h-2.53zM241.73 766.86h2.53v20.66h-2.53zM255.95 766.86h2.53v20.66h-2.53zM264.07 766.86h2.53v20.66h-2.53zM272.2 766.86h4.56v20.66h-4.56zM280.32 766.86h6.59v20.66h-6.59zM292.5 766.86h2.53v20.66h-2.53zM306.72 766.86h4.56v20.66h-4.56zM316.88 766.86h4.56v20.66h-4.56zM327.03 766.86h4.56v20.66h-4.56zM335.15 766.86h2.53v20.66h-2.53zM353.43 766.86h2.53v20.66h-2.53zM363.59 766.86h2.53v20.66h-2.53zM367.65 766.86h2.53v20.66h-2.53zM394.05 766.86h2.53v20.66h-2.53zM404.21 766.86h2.53v20.66h-2.53zM412.33 766.86h2.53v20.66h-2.53zM420.45 766.86h2.53v20.66h-2.53zM432.64 766.86h2.53v20.66h-2.53zM128 787.02h2.53v20.66h-2.53zM150.34 787.02h4.56v20.66h-4.56zM166.59 787.02h2.53v20.66h-2.53zM170.65 787.02h2.53v20.66h-2.53zM180.8 787.02h2.53v20.66h-2.53zM213.3 787.02h2.53v20.66h-2.53zM241.73 787.02h2.53v20.66h-2.53zM264.07 787.02h2.53v20.66h-2.53zM272.2 787.02h4.56v20.66h-4.56zM278.29 787.02h4.56v20.66h-4.56zM284.38 787.02h4.56v20.66h-4.56zM294.54 787.02h2.53v20.66h-2.53zM306.72 787.02h4.56v20.66h-4.56zM316.88 787.02h2.53v20.66h-2.53zM329.06 787.02h2.53v20.66h-2.53zM335.15 787.02h2.53v20.66h-2.53zM349.37 787.02h2.53v20.66h-2.53zM363.59 787.02h2.53v20.66h-2.53zM394.05 787.02h2.53v20.66h-2.53zM406.24 787.02h2.53v20.66h-2.53zM418.42 787.02h4.56v20.66h-4.56zM130.03 807.18h4.56v20.66h-4.56zM146.28 807.18h2.53v20.66h-2.53zM150.34 807.18h2.53v20.66h-2.53zM166.59 807.18h2.53v20.66h-2.53zM178.77 807.18h2.53v20.66h-2.53zM213.3 807.18h2.53v20.66h-2.53zM241.73 807.18h2.53v20.66h-2.53zM245.79 807.18h2.53v20.66h-2.53zM257.98 807.18h2.53v20.66h-2.53zM264.07 807.18h2.53v20.66h-2.53zM272.2 807.18h4.56v20.66h-4.56zM278.29 807.18h4.56v20.66h-4.56zM284.38 807.18h4.56v20.66h-4.56zM294.54 807.18h2.53v20.66h-2.53zM306.72 807.18h4.56v20.66h-4.56zM316.88 807.18h2.53v20.66h-2.53zM329.06 807.18h4.56v20.66h-4.56zM335.15 807.18h2.53v20.66h-2.53zM349.37 807.18h2.53v20.66h-2.53zM392.02 807.18h2.53v20.66h-2.53zM418.42 807.18h4.56v20.66h-4.56zM434.67 807.18h2.03v20.66h-2.03zM128 827.34h2.53v20.66h-2.53zM150.34 827.34h2.53v20.66h-2.53zM158.46 827.34h2.53v20.66h-2.53zM166.59 827.34h2.53v20.66h-2.53zM170.65 827.34h2.53v20.66h-2.53zM178.77 827.34h4.56v20.66h-4.56zM184.87 827.34h2.53v20.66h-2.53zM207.21 827.34h2.53v20.66h-2.53zM213.3 827.34h2.53v20.66h-2.53zM231.58 827.34h2.53v20.66h-2.53zM241.73 827.34h4.56v20.66h-4.56zM249.86 827.34h2.53v20.66h-2.53zM253.92 827.34h2.53v20.66h-2.53zM264.07 827.34h2.53v20.66h-2.53zM272.2 827.34h2.53v20.66h-2.53zM278.29 827.34h2.53v20.66h-2.53zM282.35 827.34h4.56v20.66h-4.56zM292.5 827.34h4.56v20.66h-4.56zM308.75 827.34h2.53v20.66h-2.53zM318.91 827.34h2.53v20.66h-2.53zM325 827.34h2.53v20.66h-2.53zM335.15 827.34h2.53v20.66h-2.53zM349.37 827.34h4.56v20.66h-4.56zM363.59 827.34h2.53v20.66h-2.53zM394.05 827.34h2.53v20.66h-2.53zM418.42 827.34h4.56v20.66h-4.56zM432.64 827.34h4.06v20.66h-4.06zM128 847.5h4.56v20.66h-4.56zM150.34 847.5h2.53v20.66h-2.53zM166.59 847.5h2.53v20.66h-2.53zM170.65 847.5h2.53v20.66h-2.53zM178.77 847.5h4.56v20.66h-4.56zM207.21 847.5h2.53v20.66h-2.53zM213.3 847.5h4.56v20.66h-4.56zM247.82 847.5h2.53v20.66h-2.53zM253.92 847.5h2.53v20.66h-2.53zM264.07 847.5h2.53v20.66h-2.53zM272.2 847.5h4.56v20.66h-4.56zM280.32 847.5h6.59v20.66h-6.59zM294.54 847.5h2.53v20.66h-2.53zM306.72 847.5h4.56v20.66h-4.56zM316.88 847.5h4.56v20.66h-4.56zM345.31 847.5h2.53v20.66h-2.53zM349.37 847.5h2.53v20.66h-2.53zM357.49 847.5h2.53v20.66h-2.53zM363.59 847.5h2.53v20.66h-2.53zM394.05 847.5h2.53v20.66h-2.53zM432.64 847.5h2.53v20.66h-2.53zM128 867.66h2.53v20.66h-2.53zM132.06 867.66h2.53v20.66h-2.53zM146.28 867.66h2.53v20.66h-2.53zM150.34 867.66h2.53v20.66h-2.53zM166.59 867.66h2.53v20.66h-2.53zM170.65 867.66h2.53v20.66h-2.53zM178.77 867.66h2.53v20.66h-2.53zM213.3 867.66h2.53v20.66h-2.53zM217.36 867.66h2.53v20.66h-2.53zM231.58 867.66h2.53v20.66h-2.53zM245.79 867.66h4.56v20.66h-4.56zM253.92 867.66h4.56v20.66h-4.56zM264.07 867.66h2.53v20.66h-2.53zM272.2 867.66h4.56v20.66h-4.56zM280.32 867.66h8.62v20.66h-8.62zM294.54 867.66h2.53v20.66h-2.53zM306.72 867.66h4.56v20.66h-4.56zM316.88 867.66h4.56v20.66h-4.56zM335.15 867.66h2.53v20.66h-2.53zM345.31 867.66h2.53v20.66h-2.53zM349.37 867.66h2.53v20.66h-2.53zM353.43 867.66h2.53v20.66h-2.53zM357.49 867.66h2.53v20.66h-2.53zM363.59 867.66h2.53v20.66h-2.53zM404.21 867.66h2.53v20.66h-2.53zM418.42 867.66h2.53v20.66h-2.53zM434.67 867.66h2.03v20.66h-2.03zM150.34 887.82h4.56v20.66h-4.56zM166.59 887.82h2.53v20.66h-2.53zM178.77 887.82h4.56v20.66h-4.56zM207.21 887.82h2.53v20.66h-2.53zM213.3 887.82h2.53v20.66h-2.53zM241.73 887.82h2.53v20.66h-2.53zM245.79 887.82h2.53v20.66h-2.53zM264.07 887.82h2.53v20.66h-2.53zM272.2 887.82h6.59v20.66h-6.59zM280.32 887.82h4.56v20.66h-4.56zM286.41 887.82h2.53v20.66h-2.53zM290.47 887.82h2.53v20.66h-2.53zM294.54 887.82h2.53v20.66h-2.53zM300.63 887.82h2.53v20.66h-2.53zM306.72 887.82h4.56v20.66h-4.56zM316.88 887.82h2.53v20.66h-2.53zM329.06 887.82h2.53v20.66h-2.53zM335.15 887.82h2.53v20.66h-2.53zM349.37 887.82h2.53v20.66h-2.53zM357.49 887.82h2.53v20.66h-2.53zM363.59 887.82h2.53v20.66h-2.53zM373.74 887.82h2.53v20.66h-2.53zM392.02 887.82h2.53v20.66h-2.53zM420.45 887.82h2.53v20.66h-2.53zM132.06 907.98h2.53v20.66h-2.53zM150.34 907.98h2.53v20.66h-2.53zM166.59 907.98h4.56v20.66h-4.56zM207.21 907.98h2.53v20.66h-2.53zM245.79 907.98h4.56v20.66h-4.56zM274.23 907.98h2.53v20.66h-2.53zM280.32 907.98h8.62v20.66h-8.62zM294.54 907.98h2.53v20.66h-2.53zM306.72 907.98h4.56v20.66h-4.56zM318.91 907.98h2.53v20.66h-2.53zM329.06 907.98h4.56v20.66h-4.56zM335.15 907.98h2.53v20.66h-2.53zM353.43 907.98h2.53v20.66h-2.53zM434.67 907.98h2.03v20.66h-2.03zM128 928.14h4.56v20.66h-4.56zM140.19 928.14h2.53v20.66h-2.53zM150.34 928.14h2.53v20.66h-2.53zM166.59 928.14h2.53v20.66h-2.53zM178.77 928.14h2.53v20.66h-2.53zM197.05 928.14h2.53v20.66h-2.53zM213.3 928.14h2.53v20.66h-2.53zM219.39 928.14h2.53v20.66h-2.53zM245.79 928.14h2.53v20.66h-2.53zM264.07 928.14h2.53v20.66h-2.53zM274.23 928.14h2.53v20.66h-2.53zM280.32 928.14h6.59v20.66h-6.59zM290.47 928.14h2.53v20.66h-2.53zM294.54 928.14h2.53v20.66h-2.53zM306.72 928.14h4.56v20.66h-4.56zM320.94 928.14h2.53v20.66h-2.53zM335.15 928.14h2.53v20.66h-2.53zM349.37 928.14h2.53v20.66h-2.53zM363.59 928.14h2.53v20.66h-2.53zM406.24 928.14h2.53v20.66h-2.53zM414.36 928.14h2.53v20.66h-2.53zM420.45 928.14h2.53v20.66h-2.53zM434.67 928.14h2.03v20.66h-2.03zM128 948.3h2.53v20.66h-2.53zM166.59 948.3h6.59v20.66h-6.59zM178.77 948.3h4.56v20.66h-4.56zM213.3 948.3h2.53v20.66h-2.53zM245.79 948.3h2.53v20.66h-2.53zM264.07 948.3h2.53v20.66h-2.53zM274.23 948.3h2.53v20.66h-2.53zM282.35 948.3h2.53v20.66h-2.53zM286.41 948.3h2.53v20.66h-2.53zM290.47 948.3h2.53v20.66h-2.53zM294.54 948.3h2.53v20.66h-2.53zM308.75 948.3h2.53v20.66h-2.53zM316.88 948.3h2.53v20.66h-2.53zM329.06 948.3h2.53v20.66h-2.53zM335.15 948.3h2.53v20.66h-2.53zM353.43 948.3h2.53v20.66h-2.53zM373.74 948.3h2.53v20.66h-2.53zM394.05 948.3h2.53v20.66h-2.53zM404.21 948.3h4.56v20.66h-4.56zM412.33 948.3h2.53v20.66h-2.53zM420.45 948.3h2.53v20.66h-2.53zM128 968.46h4.56v20.66h-4.56zM146.28 968.46h2.53v20.66h-2.53zM150.34 968.46h2.53v20.66h-2.53zM166.59 968.46h2.53v20.66h-2.53zM170.65 968.46h2.53v20.66h-2.53zM178.77 968.46h4.56v20.66h-4.56zM213.3 968.46h2.53v20.66h-2.53zM219.39 968.46h2.53v20.66h-2.53zM241.73 968.46h4.56v20.66h-4.56zM249.86 968.46h2.53v20.66h-2.53zM264.07 968.46h2.53v20.66h-2.53zM278.29 968.46h2.53v20.66h-2.53zM284.38 968.46h2.53v20.66h-2.53zM290.47 968.46h2.53v20.66h-2.53zM294.54 968.46h2.53v20.66h-2.53zM306.72 968.46h4.56v20.66h-4.56zM316.88 968.46h4.56v20.66h-4.56zM329.06 968.46h2.53v20.66h-2.53zM335.15 968.46h2.53v20.66h-2.53zM347.34 968.46h4.56v20.66h-4.56zM357.49 968.46h2.53v20.66h-2.53zM363.59 968.46h2.53v20.66h-2.53zM392.02 968.46h4.56v20.66h-4.56zM406.24 968.46h2.53v20.66h-2.53zM414.36 968.46h2.53v20.66h-2.53zM420.45 968.46h2.53v20.66h-2.53zM432.64 968.46h4.06v20.66h-4.06zM128 988.62h2.53v20.66h-2.53zM150.34 988.62h2.53v20.66h-2.53zM166.59 988.62h2.53v20.66h-2.53zM178.77 988.62h4.56v20.66h-4.56zM245.79 988.62h2.53v20.66h-2.53zM274.23 988.62h2.53v20.66h-2.53zM280.32 988.62h8.62v20.66h-8.62zM306.72 988.62h2.53v20.66h-2.53zM316.88 988.62h4.56v20.66h-4.56zM329.06 988.62h2.53v20.66h-2.53zM335.15 988.62h2.53v20.66h-2.53zM349.37 988.62h2.53v20.66h-2.53zM363.59 988.62h2.53v20.66h-2.53zM394.05 988.62h2.53v20.66h-2.53zM418.42 988.62h4.56v20.66h-4.56zM432.64 988.62h4.06v20.66h-4.06zM146.28 1008.78h2.53v20.66h-2.53zM150.34 1008.78h2.53v20.66h-2.53zM166.59 1008.78h2.53v20.66h-2.53zM178.77 1008.78h2.53v20.66h-2.53zM213.3 1008.78h2.53v20.66h-2.53zM231.58 1008.78h2.53v20.66h-2.53zM241.73 1008.78h2.53v20.66h-2.53zM245.79 1008.78h2.53v20.66h-2.53zM249.86 1008.78h2.53v20.66h-2.53zM255.95 1008.78h2.53v20.66h-2.53zM264.07 1008.78h2.53v20.66h-2.53zM272.2 1008.78h4.56v20.66h-4.56zM280.32 1008.78h8.62v20.66h-8.62zM294.54 1008.78h2.53v20.66h-2.53zM300.63 1008.78h2.53v20.66h-2.53zM306.72 1008.78h2.53v20.66h-2.53zM316.88 1008.78h4.56v20.66h-4.56zM329.06 1008.78h2.53v20.66h-2.53zM337.18 1008.78h2.53v20.66h-2.53zM347.34 1008.78h4.56v20.66h-4.56zM363.59 1008.78h2.53v20.66h-2.53zM392.02 1008.78h4.56v20.66h-4.56zM432.64 1008.78h2.53v20.66h-2.53zM128 1028.94h2.53v20.16h-2.53zM150.34 1028.94h2.53v20.16h-2.53zM166.59 1028.94h2.53v20.16h-2.53zM170.65 1028.94h2.53v20.16h-2.53zM180.8 1028.94h2.53v20.16h-2.53zM184.87 1028.94h2.53v20.16h-2.53zM213.3 1028.94h2.53v20.16h-2.53zM217.36 1028.94h2.53v20.16h-2.53zM243.76 1028.94h6.59v20.16h-6.59zM264.07 1028.94h2.53v20.16h-2.53zM274.23 1028.94h2.53v20.16h-2.53zM280.32 1028.94h2.53v20.16h-2.53zM284.38 1028.94h4.56v20.16h-4.56zM290.47 1028.94h6.59v20.16h-6.59zM306.72 1028.94h4.56v20.16h-4.56zM316.88 1028.94h4.56v20.16h-4.56zM329.06 1028.94h2.53v20.16h-2.53zM335.15 1028.94h2.53v20.16h-2.53zM349.37 1028.94h2.53v20.16h-2.53zM363.59 1028.94h2.53v20.16h-2.53zM392.02 1028.94h4.56v20.16h-4.56zM404.21 1028.94h2.53v20.16h-2.53zM420.45 1028.94h2.53v20.16h-2.53zM432.64 1028.94h4.06v20.16h-4.06z"/><path fill="#6060ff" d="M162.53 645.9h2.53v20.66h-2.53zM184.87 645.9h2.53v20.66h-2.53zM245.79 645.9h2.53v20.66h-2.53zM290.47 645.9h2.53v20.66h-2.53zM300.63 645.9h2.53v20.66h-2.53zM164.56 666.06h2.53v20.66h-2.53zM176.74 666.06h2.53v20.66h-2.53zM341.25 666.06h2.53v20.66h-2.53zM377.8 666.06h4.56v20.66h-4.56zM387.96 666.06h2.53v20.66h-2.53zM408.27 686.22h2.53v20.66h-2.53zM424.51 686.22h2.53v20.66h-2.53zM134.09 706.38h2.53v20.66h-2.53zM389.99 706.38h2.53v20.66h-2.53zM144.25 726.54h2.53v20.66h-2.53zM154.4 726.54h2.53v20.66h-2.53zM186.9 726.54h2.53v20.66h-2.53zM205.18 726.54h2.53v20.66h-2.53zM268.13 726.54h2.53v20.66h-2.53zM341.25 726.54h2.53v20.66h-2.53zM138.15 766.86h2.53v20.66h-2.53zM371.71 766.86h2.53v20.66h-2.53zM385.93 766.86h4.56v20.66h-4.56zM398.11 766.86h2.53v20.66h-2.53zM424.51 766.86h2.53v20.66h-2.53zM195.02 787.02h2.53v20.66h-2.53zM292.5 787.02h2.53v20.66h-2.53zM142.22 807.18h2.53v20.66h-2.53zM162.53 807.18h2.53v20.66h-2.53zM337.18 807.18h2.53v20.66h-2.53zM142.22 827.34h2.53v20.66h-2.53zM341.25 827.34h2.53v20.66h-2.53zM268.13 847.5h2.53v20.66h-2.53zM341.25 847.5h2.53v20.66h-2.53zM387.96 847.5h4.56v20.66h-4.56zM182.83 867.66h2.53v20.66h-2.53zM314.84 867.66h2.53v20.66h-2.53zM168.62 887.82h2.53v20.66h-2.53zM371.71 887.82h2.53v20.66h-2.53zM408.27 887.82h2.53v20.66h-2.53zM424.51 887.82h2.53v20.66h-2.53zM428.58 887.82h2.53v20.66h-2.53zM235.64 907.98h2.53v20.66h-2.53zM266.1 907.98h2.53v20.66h-2.53zM398.11 907.98h2.53v20.66h-2.53zM144.25 928.14h2.53v20.66h-2.53zM199.08 928.14h2.53v20.66h-2.53zM223.45 928.14h2.53v20.66h-2.53zM260.01 928.14h2.53v20.66h-2.53zM251.89 948.3h2.53v20.66h-2.53zM408.27 948.3h2.53v20.66h-2.53zM225.48 968.46h2.53v20.66h-2.53zM233.61 968.46h2.53v20.66h-2.53zM262.04 968.46h2.53v20.66h-2.53zM320.94 968.46h2.53v20.66h-2.53zM408.27 968.46h2.53v20.66h-2.53zM182.83 988.62h2.53v20.66h-2.53zM211.27 988.62h2.53v20.66h-2.53zM310.78 988.62h2.53v20.66h-2.53zM186.9 1008.78h2.53v20.66h-2.53zM217.36 1008.78h2.53v20.66h-2.53zM322.97 1008.78h2.53v20.66h-2.53zM320.94 1028.94h2.53v20.16h-2.53zM333.12 1028.94h2.53v20.16h-2.53zM361.56 1028.94h2.53v20.16h-2.53zM369.68 1028.94h2.53v20.16h-2.53zM377.8 1028.94h2.53v20.16h-2.53zM400.14 1028.94h2.53v20.16h-2.53z"/><path fill="#ff8080" d="M164.56 645.9h2.53v20.66h-2.53zM347.34 645.9h2.53v20.66h-2.53zM383.9 645.9h2.53v20.66h-2.53zM398.11 645.9h2.53v20.66h-2.53zM211.27 666.06h2.53v20.66h-2.53zM331.09 666.06h2.53v20.66h-2.53zM410.3 666.06h2.53v20.66h-2.53zM272.2 686.22h2.53v20.66h-2.53zM404.21 686.22h2.53v20.66h-2.53zM416.39 686.22h2.53v20.66h-2.53zM211.27 706.38h2.53v20.66h-2.53zM290.47 706.38h2.53v20.66h-2.53zM296.57 706.38h2.53v20.66h-2.53zM339.22 706.38h2.53v20.66h-2.53zM355.46 706.38h2.53v20.66h-2.53zM130.03 726.54h2.53v20.66h-2.53zM349.37 726.54h2.53v20.66h-2.53zM418.42 726.54h2.53v20.66h-2.53zM245.79 746.7h2.53v20.66h-2.53zM286.41 746.7h2.53v20.66h-2.53zM365.62 746.7h2.53v20.66h-2.53zM392.02 746.7h2.53v20.66h-2.53zM402.17 746.7h2.53v20.66h-2.53zM406.24 746.7h2.53v20.66h-2.53zM158.46 766.86h2.53v20.66h-2.53zM207.21 766.86h2.53v20.66h-2.53zM296.57 766.86h2.53v20.66h-2.53zM392.02 766.86h2.53v20.66h-2.53zM322.97 787.02h2.53v20.66h-2.53zM353.43 787.02h2.53v20.66h-2.53zM404.21 787.02h2.53v20.66h-2.53zM253.92 807.18h2.53v20.66h-2.53zM339.22 807.18h2.53v20.66h-2.53zM339.22 827.34h2.53v20.66h-2.53zM132.06 847.5h2.53v20.66h-2.53zM146.28 847.5h2.53v20.66h-2.53zM182.83 847.5h2.53v20.66h-2.53zM197.05 847.5h2.53v20.66h-2.53zM237.67 847.5h2.53v20.66h-2.53zM278.29 847.5h2.53v20.66h-2.53zM286.41 847.5h2.53v20.66h-2.53zM300.63 847.5h2.53v20.66h-2.53zM184.87 867.66h2.53v20.66h-2.53zM276.26 867.66h2.53v20.66h-2.53zM329.06 867.66h2.53v20.66h-2.53zM130.03 887.82h2.53v20.66h-2.53zM188.93 887.82h2.53v20.66h-2.53zM211.27 887.82h2.53v20.66h-2.53zM217.36 887.82h2.53v20.66h-2.53zM278.29 887.82h2.53v20.66h-2.53zM404.21 887.82h2.53v20.66h-2.53zM217.36 907.98h2.53v20.66h-2.53zM304.69 907.98h2.53v20.66h-2.53zM363.59 907.98h4.56v20.66h-4.56zM394.05 907.98h2.53v20.66h-2.53zM170.65 928.14h2.53v20.66h-2.53zM247.82 928.14h2.53v20.66h-2.53zM412.33 928.14h2.53v20.66h-2.53zM219.39 948.3h2.53v20.66h-2.53zM369.68 948.3h2.53v20.66h-2.53zM132.06 968.46h2.53v20.66h-2.53zM367.65 968.46h2.53v20.66h-2.53zM192.99 988.62h2.53v20.66h-2.53zM367.65 988.62h2.53v20.66h-2.53zM190.96 1008.78h2.53v20.66h-2.53zM229.55 1008.78h2.53v20.66h-2.53zM290.47 1008.78h2.53v20.66h-2.53zM192.99 1028.94h2.53v20.16h-2.53zM278.29 1028.94h2.53v20.16h-2.53zM304.69 1028.94h2.53v20.16h-2.53zM322.97 1028.94h2.53v20.16h-2.53zM327.03 1028.94h2.53v20.16h-2.53z"/><path fill="#bfbfff" d="M188.93 645.9h2.53v20.66h-2.53zM288.44 645.9h2.53v20.66h-2.53zM304.69 645.9h2.53v20.66h-2.53zM367.65 645.9h2.53v20.66h-2.53zM227.52 666.06h2.53v20.66h-2.53zM257.98 666.06h2.53v20.66h-2.53zM262.04 666.06h2.53v20.66h-2.53zM288.44 666.06h2.53v20.66h-2.53zM371.71 666.06h2.53v20.66h-2.53zM426.55 666.06h2.53v20.66h-2.53zM257.98 686.22h2.53v20.66h-2.53zM304.69 686.22h2.53v20.66h-2.53zM229.55 706.38h2.53v20.66h-2.53zM310.78 706.38h2.53v20.66h-2.53zM162.53 726.54h2.53v20.66h-2.53zM221.42 726.54h2.53v20.66h-2.53zM322.97 726.54h2.53v20.66h-2.53zM383.9 726.54h2.53v20.66h-2.53zM136.12 746.7h2.53v20.66h-2.53zM195.02 746.7h2.53v20.66h-2.53zM201.11 746.7h2.53v20.66h-2.53zM229.55 746.7h2.53v20.66h-2.53zM266.1 746.7h2.53v20.66h-2.53zM325 746.7h2.53v20.66h-2.53zM361.56 746.7h2.53v20.66h-2.53zM416.39 746.7h2.53v20.66h-2.53zM276.26 766.86h2.53v20.66h-2.53zM422.48 766.86h2.53v20.66h-2.53zM144.25 787.02h2.53v20.66h-2.53zM266.1 787.02h2.53v20.66h-2.53zM341.25 787.02h2.53v20.66h-2.53zM377.8 787.02h2.53v20.66h-2.53zM138.15 807.18h4.56v20.66h-4.56zM156.43 807.18h2.53v20.66h-2.53zM290.47 807.18h2.53v20.66h-2.53zM302.66 807.18h4.56v20.66h-4.56zM341.25 807.18h2.53v20.66h-2.53zM355.46 807.18h2.53v20.66h-2.53zM361.56 807.18h2.53v20.66h-2.53zM387.96 807.18h2.53v20.66h-2.53zM162.53 827.34h2.53v20.66h-2.53zM195.02 827.34h2.53v20.66h-2.53zM211.27 827.34h2.53v20.66h-2.53zM270.16 827.34h2.53v20.66h-2.53zM361.56 827.34h2.53v20.66h-2.53zM381.87 827.34h2.53v20.66h-2.53zM428.58 827.34h2.53v20.66h-2.53zM203.14 847.5h2.53v20.66h-2.53zM412.33 847.5h2.53v20.66h-2.53zM144.25 867.66h2.53v20.66h-2.53zM148.31 867.66h2.53v20.66h-2.53zM219.39 867.66h2.53v20.66h-2.53zM396.08 887.82h2.53v20.66h-2.53zM164.56 907.98h2.53v20.66h-2.53zM225.48 907.98h2.53v20.66h-2.53zM377.8 907.98h2.53v20.66h-2.53zM389.99 907.98h2.53v20.66h-2.53zM211.27 928.14h2.53v20.66h-2.53zM337.18 928.14h2.53v20.66h-2.53zM389.99 928.14h2.53v20.66h-2.53zM190.96 948.3h2.53v20.66h-2.53zM243.76 948.3h2.53v20.66h-2.53zM314.84 948.3h2.53v20.66h-2.53zM320.94 948.3h2.53v20.66h-2.53zM392.02 948.3h2.53v20.66h-2.53zM418.42 948.3h2.53v20.66h-2.53zM426.55 948.3h2.53v20.66h-2.53zM186.9 968.46h2.53v20.66h-2.53zM211.27 968.46h2.53v20.66h-2.53zM229.55 968.46h2.53v20.66h-2.53zM304.69 968.46h2.53v20.66h-2.53zM310.78 968.46h2.53v20.66h-2.53zM331.09 968.46h2.53v20.66h-2.53zM188.93 988.62h2.53v20.66h-2.53zM195.02 988.62h2.53v20.66h-2.53zM377.8 988.62h2.53v20.66h-2.53zM398.11 988.62h2.53v20.66h-2.53zM154.4 1008.78h2.53v20.66h-2.53zM195.02 1008.78h2.53v20.66h-2.53zM207.21 1008.78h2.53v20.66h-2.53zM353.43 1008.78h2.53v20.66h-2.53zM369.68 1008.78h2.53v20.66h-2.53zM424.51 1008.78h2.53v20.66h-2.53zM132.06 1028.94h4.56v20.16h-4.56zM188.93 1028.94h2.53v20.16h-2.53zM195.02 1028.94h2.53v20.16h-2.53zM229.55 1028.94h2.53v20.16h-2.53zM389.99 1028.94h2.53v20.16h-2.53z"/><path fill="#8080ff" d="M197.05 645.9h2.53v20.66h-2.53zM215.33 645.9h2.53v20.66h-2.53zM241.73 645.9h2.53v20.66h-2.53zM339.22 645.9h2.53v20.66h-2.53zM402.17 645.9h2.53v20.66h-2.53zM201.11 666.06h2.53v20.66h-2.53zM268.13 666.06h2.53v20.66h-2.53zM428.58 666.06h2.53v20.66h-2.53zM186.9 686.22h2.53v20.66h-2.53zM199.08 686.22h2.53v20.66h-2.53zM209.24 686.22h2.53v20.66h-2.53zM221.42 686.22h2.53v20.66h-2.53zM268.13 686.22h2.53v20.66h-2.53zM430.61 686.22h2.53v20.66h-2.53zM188.93 706.38h2.53v20.66h-2.53zM268.13 706.38h2.53v20.66h-2.53zM302.66 726.54h2.53v20.66h-2.53zM176.74 766.86h2.53v20.66h-2.53zM215.33 766.86h2.53v20.66h-2.53zM251.89 766.86h2.53v20.66h-2.53zM260.01 766.86h2.53v20.66h-2.53zM341.25 766.86h2.53v20.66h-2.53zM414.36 766.86h2.53v20.66h-2.53zM164.56 787.02h2.53v20.66h-2.53zM239.7 787.02h2.53v20.66h-2.53zM357.49 787.02h2.53v20.66h-2.53zM369.68 787.02h2.53v20.66h-2.53zM154.4 807.18h2.53v20.66h-2.53zM223.45 807.18h4.56v20.66h-4.56zM310.78 807.18h2.53v20.66h-2.53zM410.3 807.18h2.53v20.66h-2.53zM239.7 827.34h2.53v20.66h-2.53zM347.34 847.5h2.53v20.66h-2.53zM136.12 867.66h2.53v20.66h-2.53zM188.93 867.66h2.53v20.66h-2.53zM304.69 867.66h2.53v20.66h-2.53zM426.55 867.66h2.53v20.66h-2.53zM158.46 887.82h2.53v20.66h-2.53zM387.96 887.82h2.53v20.66h-2.53zM190.96 907.98h2.53v20.66h-2.53zM251.89 907.98h2.53v20.66h-2.53zM339.22 907.98h2.53v20.66h-2.53zM217.36 928.14h2.53v20.66h-2.53zM377.8 928.14h2.53v20.66h-2.53zM266.1 948.3h2.53v20.66h-2.53zM337.18 948.3h2.53v20.66h-2.53zM361.56 948.3h2.53v20.66h-2.53zM381.87 948.3h2.53v20.66h-2.53zM239.7 988.62h2.53v20.66h-2.53zM375.77 988.62h2.53v20.66h-2.53zM381.87 1008.78h2.53v20.66h-2.53zM426.55 1008.78h2.53v20.66h-2.53zM209.24 1028.94h2.53v20.16h-2.53zM343.28 1028.94h2.53v20.16h-2.53z"/><path fill="#ff8f8f" d="M203.14 645.9h2.53v20.66h-2.53zM223.45 645.9h2.53v20.66h-2.53zM266.1 645.9h2.53v20.66h-2.53zM341.25 645.9h2.53v20.66h-2.53zM371.71 645.9h2.53v20.66h-2.53zM428.58 645.9h2.53v20.66h-2.53zM146.28 666.06h2.53v20.66h-2.53zM219.39 666.06h2.53v20.66h-2.53zM308.75 666.06h2.53v20.66h-2.53zM327.03 666.06h2.53v20.66h-2.53zM345.31 666.06h2.53v20.66h-2.53zM402.17 666.06h2.53v20.66h-2.53zM158.46 686.22h2.53v20.66h-2.53zM353.43 686.22h2.53v20.66h-2.53zM357.49 686.22h2.53v20.66h-2.53zM367.65 686.22h4.56v20.66h-4.56zM152.37 706.38h2.53v20.66h-2.53zM158.46 706.38h2.53v20.66h-2.53zM219.39 706.38h2.53v20.66h-2.53zM231.58 706.38h2.53v20.66h-2.53zM255.95 706.38h4.56v20.66h-4.56zM302.66 706.38h4.56v20.66h-4.56zM134.09 726.54h2.53v20.66h-2.53zM158.46 726.54h2.53v20.66h-2.53zM207.21 726.54h2.53v20.66h-2.53zM300.63 726.54h2.53v20.66h-2.53zM331.09 726.54h2.53v20.66h-2.53zM359.52 726.54h2.53v20.66h-2.53zM430.61 726.54h2.53v20.66h-2.53zM327.03 746.7h2.53v20.66h-2.53zM387.96 746.7h2.53v20.66h-2.53zM422.48 746.7h2.53v20.66h-2.53zM156.43 766.86h2.53v20.66h-2.53zM347.34 766.86h2.53v20.66h-2.53zM140.19 787.02h2.53v20.66h-2.53zM178.77 787.02h2.53v20.66h-2.53zM276.26 787.02h2.53v20.66h-2.53zM428.58 787.02h2.53v20.66h-2.53zM182.83 807.18h2.53v20.66h-2.53zM327.03 807.18h2.53v20.66h-2.53zM359.52 807.18h2.53v20.66h-2.53zM186.9 827.34h2.53v20.66h-2.53zM286.41 827.34h2.53v20.66h-2.53zM314.84 827.34h2.53v20.66h-2.53zM290.47 847.5h2.53v20.66h-2.53zM392.02 847.5h2.53v20.66h-2.53zM402.17 847.5h2.53v20.66h-2.53zM262.04 867.66h2.53v20.66h-2.53zM270.16 867.66h2.53v20.66h-2.53zM300.63 867.66h2.53v20.66h-2.53zM325 867.66h2.53v20.66h-2.53zM138.15 887.82h2.53v20.66h-2.53zM170.65 887.82h2.53v20.66h-2.53zM327.03 887.82h2.53v20.66h-2.53zM406.24 887.82h2.53v20.66h-2.53zM416.39 887.82h2.53v20.66h-2.53zM249.86 907.98h2.53v20.66h-2.53zM292.5 907.98h2.53v20.66h-2.53zM369.68 907.98h2.53v20.66h-2.53zM253.92 928.14h2.53v20.66h-2.53zM286.41 928.14h4.56v20.66h-4.56zM339.22 928.14h2.53v20.66h-2.53zM355.46 928.14h2.53v20.66h-2.53zM231.58 968.46h2.53v20.66h-2.53zM373.74 968.46h2.53v20.66h-2.53zM404.21 968.46h2.53v20.66h-2.53zM132.06 988.62h2.53v20.66h-2.53zM170.65 988.62h2.53v20.66h-2.53zM249.86 988.62h2.53v20.66h-2.53zM308.75 988.62h2.53v20.66h-2.53zM414.36 988.62h2.53v20.66h-2.53zM138.15 1008.78h2.53v20.66h-2.53zM247.82 1008.78h2.53v20.66h-2.53zM327.03 1008.78h2.53v20.66h-2.53zM351.4 1008.78h2.53v20.66h-2.53zM416.39 1008.78h4.56v20.66h-4.56zM225.48 1028.94h2.53v20.16h-2.53zM253.92 1028.94h2.53v20.16h-2.53zM373.74 1028.94h2.53v20.16h-2.53z"/><path fill="#cfcfff" d="M207.21 645.9h2.53v20.66h-2.53zM327.03 645.9h2.53v20.66h-2.53zM130.03 666.06h2.53v20.66h-2.53zM192.99 666.06h4.56v20.66h-4.56zM225.48 666.06h2.53v20.66h-2.53zM369.68 666.06h2.53v20.66h-2.53zM394.05 666.06h2.53v20.66h-2.53zM416.39 666.06h2.53v20.66h-2.53zM140.19 686.22h2.53v20.66h-2.53zM223.45 686.22h2.53v20.66h-2.53zM322.97 686.22h2.53v20.66h-2.53zM209.24 706.38h2.53v20.66h-2.53zM223.45 706.38h2.53v20.66h-2.53zM260.01 706.38h2.53v20.66h-2.53zM320.94 706.38h2.53v20.66h-2.53zM337.18 706.38h2.53v20.66h-2.53zM365.62 706.38h2.53v20.66h-2.53zM190.96 726.54h2.53v20.66h-2.53zM241.73 726.54h2.53v20.66h-2.53zM314.84 726.54h2.53v20.66h-2.53zM337.18 726.54h2.53v20.66h-2.53zM377.8 726.54h2.53v20.66h-2.53zM400.14 726.54h2.53v20.66h-2.53zM134.09 746.7h2.53v20.66h-2.53zM168.62 746.7h2.53v20.66h-2.53zM223.45 746.7h2.53v20.66h-2.53zM276.26 746.7h2.53v20.66h-2.53zM383.9 746.7h2.53v20.66h-2.53zM398.11 746.7h4.56v20.66h-4.56zM290.47 766.86h2.53v20.66h-2.53zM343.28 766.86h2.53v20.66h-2.53zM207.21 787.02h2.53v20.66h-2.53zM237.67 787.02h2.53v20.66h-2.53zM402.17 787.02h2.53v20.66h-2.53zM426.55 787.02h2.53v20.66h-2.53zM176.74 807.18h2.53v20.66h-2.53zM209.24 807.18h2.53v20.66h-2.53zM357.49 807.18h2.53v20.66h-2.53zM402.17 807.18h2.53v20.66h-2.53zM154.4 827.34h2.53v20.66h-2.53zM164.56 827.34h2.53v20.66h-2.53zM310.78 827.34h2.53v20.66h-2.53zM158.46 847.5h2.53v20.66h-2.53zM361.56 867.66h2.53v20.66h-2.53zM392.02 867.66h2.53v20.66h-2.53zM396.08 867.66h2.53v20.66h-2.53zM416.39 867.66h2.53v20.66h-2.53zM182.83 887.82h2.53v20.66h-2.53zM197.05 887.82h2.53v20.66h-2.53zM225.48 887.82h2.53v20.66h-2.53zM233.61 887.82h2.53v20.66h-2.53zM381.87 887.82h2.53v20.66h-2.53zM333.12 907.98h2.53v20.66h-2.53zM400.14 907.98h2.53v20.66h-2.53zM186.9 928.14h2.53v20.66h-2.53zM190.96 928.14h2.53v20.66h-2.53zM203.14 928.14h2.53v20.66h-2.53zM233.61 928.14h2.53v20.66h-2.53zM266.1 928.14h2.53v20.66h-2.53zM416.39 928.14h2.53v20.66h-2.53zM154.4 948.3h2.53v20.66h-2.53zM223.45 948.3h2.53v20.66h-2.53zM235.64 948.3h2.53v20.66h-2.53zM302.66 948.3h2.53v20.66h-2.53zM377.8 948.3h2.53v20.66h-2.53zM361.56 968.46h2.53v20.66h-2.53zM398.11 968.46h2.53v20.66h-2.53zM134.09 988.62h2.53v20.66h-2.53zM158.46 988.62h2.53v20.66h-2.53zM205.18 988.62h2.53v20.66h-2.53zM235.64 988.62h2.53v20.66h-2.53zM262.04 988.62h2.53v20.66h-2.53zM359.52 988.62h2.53v20.66h-2.53zM424.51 988.62h2.53v20.66h-2.53zM201.11 1008.78h2.53v20.66h-2.53zM215.33 1008.78h2.53v20.66h-2.53zM239.7 1008.78h2.53v20.66h-2.53zM288.44 1008.78h2.53v20.66h-2.53zM310.78 1008.78h2.53v20.66h-2.53zM379.83 1008.78h2.53v20.66h-2.53zM144.25 1028.94h2.53v20.16h-2.53zM154.4 1028.94h2.53v20.16h-2.53zM197.05 1028.94h2.53v20.16h-2.53zM215.33 1028.94h2.53v20.16h-2.53zM353.43 1028.94h2.53v20.16h-2.53zM371.71 1028.94h2.53v20.16h-2.53zM396.08 1028.94h2.53v20.16h-2.53z"/><path fill="#ff4040" d="M221.42 645.9h2.53v20.66h-2.53zM375.77 645.9h2.53v20.66h-2.53zM347.34 666.06h2.53v20.66h-2.53zM355.46 666.06h2.53v20.66h-2.53zM180.8 686.22h2.53v20.66h-2.53zM365.62 686.22h2.53v20.66h-2.53zM280.32 706.38h2.53v20.66h-2.53zM367.65 706.38h2.53v20.66h-2.53zM422.48 706.38h2.53v20.66h-2.53zM284.38 726.54h2.53v20.66h-2.53zM394.05 726.54h2.53v20.66h-2.53zM402.17 726.54h2.53v20.66h-2.53zM140.19 746.7h2.53v20.66h-2.53zM318.91 746.7h2.53v20.66h-2.53zM369.68 746.7h2.53v20.66h-2.53zM408.27 746.7h2.53v20.66h-2.53zM190.96 766.86h2.53v20.66h-2.53zM349.37 766.86h2.53v20.66h-2.53zM416.39 787.02h2.53v20.66h-2.53zM132.06 827.34h2.53v20.66h-2.53zM219.39 827.34h2.53v20.66h-2.53zM343.28 827.34h2.53v20.66h-2.53zM373.74 827.34h2.53v20.66h-2.53zM412.33 827.34h2.53v20.66h-2.53zM241.73 847.5h2.53v20.66h-2.53zM245.79 847.5h2.53v20.66h-2.53zM296.57 847.5h2.53v20.66h-2.53zM327.03 847.5h2.53v20.66h-2.53zM152.37 867.66h2.53v20.66h-2.53zM132.06 887.82h2.53v20.66h-2.53zM184.87 887.82h2.53v20.66h-2.53zM241.73 907.98h2.53v20.66h-2.53zM249.86 928.14h2.53v20.66h-2.53zM292.5 928.14h2.53v20.66h-2.53zM347.34 928.14h2.53v20.66h-2.53zM231.58 948.3h2.53v20.66h-2.53zM284.38 948.3h2.53v20.66h-2.53zM349.37 948.3h2.53v20.66h-2.53zM136.12 968.46h2.53v20.66h-2.53zM197.05 968.46h2.53v20.66h-2.53zM190.96 988.62h2.53v20.66h-2.53zM231.58 988.62h2.53v20.66h-2.53zM278.29 988.62h2.53v20.66h-2.53zM290.47 988.62h2.53v20.66h-2.53zM294.54 988.62h2.53v20.66h-2.53zM300.63 988.62h2.53v20.66h-2.53zM322.97 988.62h2.53v20.66h-2.53zM351.4 988.62h2.53v20.66h-2.53zM392.02 988.62h2.53v20.66h-2.53zM270.16 1008.78h2.53v20.66h-2.53zM156.43 1028.94h2.53v20.16h-2.53zM219.39 1028.94h2.53v20.16h-2.53zM249.86 1028.94h2.53v20.16h-2.53z"/><path fill="#dfdfff" d="M225.48 645.9h4.56v20.66h-4.56zM247.82 645.9h2.53v20.66h-2.53zM255.95 645.9h4.56v20.66h-4.56zM331.09 645.9h2.53v20.66h-2.53zM387.96 645.9h2.53v20.66h-2.53zM172.68 666.06h2.53v20.66h-2.53zM304.69 666.06h2.53v20.66h-2.53zM262.04 686.22h2.53v20.66h-2.53zM337.18 686.22h2.53v20.66h-2.53zM347.34 686.22h2.53v20.66h-2.53zM371.71 686.22h2.53v20.66h-2.53zM156.43 706.38h2.53v20.66h-2.53zM225.48 706.38h2.53v20.66h-2.53zM351.4 726.54h2.53v20.66h-2.53zM365.62 726.54h2.53v20.66h-2.53zM387.96 726.54h2.53v20.66h-2.53zM138.15 746.7h2.53v20.66h-2.53zM215.33 746.7h2.53v20.66h-2.53zM302.66 746.7h2.53v20.66h-2.53zM396.08 746.7h2.53v20.66h-2.53zM164.56 766.86h2.53v20.66h-2.53zM201.11 766.86h2.53v20.66h-2.53zM278.29 766.86h2.53v20.66h-2.53zM428.58 766.86h2.53v20.66h-2.53zM296.57 787.02h2.53v20.66h-2.53zM339.22 787.02h2.53v20.66h-2.53zM351.4 787.02h2.53v20.66h-2.53zM430.61 787.02h2.53v20.66h-2.53zM188.93 807.18h2.53v20.66h-2.53zM192.99 807.18h2.53v20.66h-2.53zM251.89 807.18h2.53v20.66h-2.53zM270.16 807.18h2.53v20.66h-2.53zM369.68 807.18h2.53v20.66h-2.53zM373.74 807.18h2.53v20.66h-2.53zM377.8 807.18h2.53v20.66h-2.53zM412.33 807.18h4.56v20.66h-4.56zM424.51 807.18h2.53v20.66h-2.53zM138.15 827.34h2.53v20.66h-2.53zM190.96 827.34h2.53v20.66h-2.53zM223.45 827.34h2.53v20.66h-2.53zM276.26 827.34h2.53v20.66h-2.53zM302.66 827.34h2.53v20.66h-2.53zM339.22 847.5h2.53v20.66h-2.53zM381.87 847.5h2.53v20.66h-2.53zM385.93 847.5h2.53v20.66h-2.53zM406.24 847.5h2.53v20.66h-2.53zM162.53 867.66h2.53v20.66h-2.53zM203.14 867.66h2.53v20.66h-2.53zM257.98 867.66h2.53v20.66h-2.53zM288.44 867.66h2.53v20.66h-2.53zM296.57 867.66h2.53v20.66h-2.53zM302.66 867.66h2.53v20.66h-2.53zM375.77 867.66h2.53v20.66h-2.53zM140.19 887.82h2.53v20.66h-2.53zM144.25 887.82h2.53v20.66h-2.53zM383.9 887.82h2.53v20.66h-2.53zM430.61 887.82h2.53v20.66h-2.53zM148.31 907.98h2.53v20.66h-2.53zM156.43 907.98h2.53v20.66h-2.53zM257.98 907.98h2.53v20.66h-2.53zM322.97 907.98h2.53v20.66h-2.53zM351.4 907.98h2.53v20.66h-2.53zM357.49 907.98h2.53v20.66h-2.53zM408.27 907.98h2.53v20.66h-2.53zM221.42 928.14h2.53v20.66h-2.53zM225.48 928.14h2.53v20.66h-2.53zM410.3 928.14h2.53v20.66h-2.53zM144.25 948.3h2.53v20.66h-2.53zM164.56 948.3h2.53v20.66h-2.53zM288.44 948.3h2.53v20.66h-2.53zM304.69 948.3h2.53v20.66h-2.53zM325 948.3h2.53v20.66h-2.53zM154.4 968.46h2.53v20.66h-2.53zM337.18 968.46h2.53v20.66h-2.53zM144.25 988.62h2.53v20.66h-2.53zM154.4 988.62h2.53v20.66h-2.53zM162.53 988.62h2.53v20.66h-2.53zM257.98 988.62h2.53v20.66h-2.53zM402.17 988.62h2.53v20.66h-2.53zM158.46 1008.78h2.53v20.66h-2.53zM162.53 1008.78h2.53v20.66h-2.53zM304.69 1008.78h2.53v20.66h-2.53zM371.71 1008.78h2.53v20.66h-2.53zM396.08 1008.78h2.53v20.66h-2.53zM422.48 1008.78h2.53v20.66h-2.53zM233.61 1028.94h2.53v20.16h-2.53zM237.67 1028.94h2.53v20.16h-2.53zM296.57 1028.94h2.53v20.16h-2.53zM424.51 1028.94h2.53v20.16h-2.53z"/><path fill="#1010ff" d="M231.58 645.9h2.53v20.66h-2.53zM249.86 645.9h2.53v20.66h-2.53zM272.2 645.9h2.53v20.66h-2.53zM280.32 645.9h2.53v20.66h-2.53zM316.88 645.9h2.53v20.66h-2.53zM144.25 686.22h2.53v20.66h-2.53zM235.64 686.22h2.53v20.66h-2.53zM235.64 706.38h2.53v20.66h-2.53zM239.7 706.38h2.53v20.66h-2.53zM251.89 706.38h2.53v20.66h-2.53zM298.6 746.7h2.53v20.66h-2.53zM209.24 766.86h2.53v20.66h-2.53zM333.12 766.86h2.53v20.66h-2.53zM375.77 766.86h2.53v20.66h-2.53zM381.87 766.86h2.53v20.66h-2.53zM233.61 787.02h2.53v20.66h-2.53zM371.71 807.18h2.53v20.66h-2.53zM148.31 827.34h2.53v20.66h-2.53zM172.68 847.5h2.53v20.66h-2.53zM205.18 847.5h2.53v20.66h-2.53zM154.4 867.66h2.53v20.66h-2.53zM186.9 867.66h2.53v20.66h-2.53zM199.08 867.66h2.53v20.66h-2.53zM134.09 887.82h2.53v20.66h-2.53zM260.01 887.82h2.53v20.66h-2.53zM375.77 887.82h2.53v20.66h-2.53zM379.83 887.82h2.53v20.66h-2.53zM172.68 907.98h2.53v20.66h-2.53zM268.13 968.46h2.53v20.66h-2.53zM186.9 988.62h2.53v20.66h-2.53zM203.14 988.62h2.53v20.66h-2.53zM260.01 988.62h2.53v20.66h-2.53zM428.58 1008.78h2.53v20.66h-2.53zM201.11 1028.94h2.53v20.16h-2.53z"/><path fill="#fff" d="M270.16 645.9h2.53v20.66h-2.53zM365.62 645.9h2.53v20.66h-2.53zM379.83 645.9h2.53v20.66h-2.53zM349.37 666.06h2.53v20.66h-2.53zM359.52 666.06h2.53v20.66h-2.53zM373.74 666.06h2.53v20.66h-2.53zM381.87 666.06h2.53v20.66h-2.53zM406.24 666.06h2.53v20.66h-2.53zM172.68 686.22h2.53v20.66h-2.53zM345.31 686.22h2.53v20.66h-2.53zM164.56 706.38h2.53v20.66h-2.53zM205.18 706.38h2.53v20.66h-2.53zM262.04 706.38h2.53v20.66h-2.53zM237.67 726.54h2.53v20.66h-2.53zM320.94 726.54h2.53v20.66h-2.53zM188.93 746.7h2.53v20.66h-2.53zM239.7 746.7h2.53v20.66h-2.53zM304.69 746.7h2.53v20.66h-2.53zM148.31 766.86h2.53v20.66h-2.53zM168.62 766.86h2.53v20.66h-2.53zM188.93 766.86h2.53v20.66h-2.53zM195.02 766.86h2.53v20.66h-2.53zM247.82 766.86h2.53v20.66h-2.53zM270.16 766.86h2.53v20.66h-2.53zM310.78 766.86h2.53v20.66h-2.53zM357.49 766.86h2.53v20.66h-2.53zM389.99 766.86h2.53v20.66h-2.53zM343.28 787.02h2.53v20.66h-2.53zM367.65 787.02h2.53v20.66h-2.53zM215.33 807.18h2.53v20.66h-2.53zM345.31 807.18h2.53v20.66h-2.53zM304.69 827.34h2.53v20.66h-2.53zM140.19 847.5h2.53v20.66h-2.53zM209.24 847.5h2.53v20.66h-2.53zM266.1 847.5h2.53v20.66h-2.53zM302.66 847.5h2.53v20.66h-2.53zM211.27 867.66h2.53v20.66h-2.53zM310.78 867.66h2.53v20.66h-2.53zM237.67 887.82h2.53v20.66h-2.53zM268.13 887.82h2.53v20.66h-2.53zM302.66 887.82h2.53v20.66h-2.53zM310.78 887.82h2.53v20.66h-2.53zM402.17 887.82h2.53v20.66h-2.53zM255.95 907.98h2.53v20.66h-2.53zM296.57 907.98h2.53v20.66h-2.53zM361.56 907.98h2.53v20.66h-2.53zM367.65 907.98h2.53v20.66h-2.53zM430.61 907.98h2.53v20.66h-2.53zM322.97 928.14h2.53v20.66h-2.53zM392.02 928.14h2.53v20.66h-2.53zM247.82 948.3h2.53v20.66h-2.53zM371.71 948.3h2.53v20.66h-2.53zM389.99 948.3h2.53v20.66h-2.53zM402.17 948.3h2.53v20.66h-2.53zM428.58 948.3h2.53v20.66h-2.53zM138.15 968.46h2.53v20.66h-2.53zM221.42 968.46h2.53v20.66h-2.53zM314.84 968.46h2.53v20.66h-2.53zM375.77 968.46h2.53v20.66h-2.53zM396.08 968.46h2.53v20.66h-2.53zM418.42 968.46h2.53v20.66h-2.53zM140.19 988.62h2.53v20.66h-2.53zM168.62 988.62h2.53v20.66h-2.53zM197.05 988.62h2.53v20.66h-2.53zM209.24 988.62h2.53v20.66h-2.53zM320.94 988.62h2.53v20.66h-2.53zM422.48 988.62h2.53v20.66h-2.53zM257.98 1008.78h2.53v20.66h-2.53zM262.04 1028.94h2.53v20.16h-2.53z"/><path fill="#7070ff" d="M278.29 645.9h2.53v20.66h-2.53zM345.31 645.9h2.53v20.66h-2.53zM148.31 666.06h2.53v20.66h-2.53zM156.43 666.06h2.53v20.66h-2.53zM223.45 666.06h2.53v20.66h-2.53zM290.47 666.06h2.53v20.66h-2.53zM225.48 686.22h2.53v20.66h-2.53zM398.11 686.22h2.53v20.66h-2.53zM325 706.38h2.53v20.66h-2.53zM211.27 726.54h2.53v20.66h-2.53zM233.61 726.54h2.53v20.66h-2.53zM373.74 726.54h2.53v20.66h-2.53zM424.51 726.54h2.53v20.66h-2.53zM186.9 746.7h2.53v20.66h-2.53zM371.71 746.7h2.53v20.66h-2.53zM359.52 766.86h2.53v20.66h-2.53zM400.14 766.86h2.53v20.66h-2.53zM310.78 787.02h2.53v20.66h-2.53zM398.11 787.02h2.53v20.66h-2.53zM148.31 807.18h2.53v20.66h-2.53zM211.27 807.18h2.53v20.66h-2.53zM203.14 827.34h2.53v20.66h-2.53zM337.18 827.34h2.53v20.66h-2.53zM211.27 847.5h2.53v20.66h-2.53zM233.61 867.66h2.53v20.66h-2.53zM266.1 867.66h2.53v20.66h-2.53zM410.3 867.66h2.53v20.66h-2.53zM223.45 887.82h2.53v20.66h-2.53zM136.12 907.98h2.53v20.66h-2.53zM197.05 907.98h2.53v20.66h-2.53zM203.14 907.98h2.53v20.66h-2.53zM408.27 928.14h2.53v20.66h-2.53zM134.09 948.3h2.53v20.66h-2.53zM142.22 968.46h2.53v20.66h-2.53zM188.93 968.46h2.53v20.66h-2.53zM239.7 968.46h2.53v20.66h-2.53zM251.89 968.46h2.53v20.66h-2.53zM341.25 968.46h2.53v20.66h-2.53zM215.33 988.62h2.53v20.66h-2.53zM225.48 988.62h2.53v20.66h-2.53zM243.76 988.62h2.53v20.66h-2.53zM276.26 988.62h2.53v20.66h-2.53zM312.81 988.62h2.53v20.66h-2.53zM333.12 988.62h2.53v20.66h-2.53zM172.68 1008.78h2.53v20.66h-2.53zM341.25 1028.94h2.53v20.16h-2.53zM379.83 1028.94h2.53v20.16h-2.53z"/><path fill="#efefff" d="M302.66 645.9h2.53v20.66h-2.53zM203.14 666.06h2.53v20.66h-2.53zM278.29 666.06h2.53v20.66h-2.53zM400.14 666.06h2.53v20.66h-2.53zM162.53 686.22h2.53v20.66h-2.53zM168.62 686.22h2.53v20.66h-2.53zM266.1 686.22h2.53v20.66h-2.53zM270.16 686.22h2.53v20.66h-2.53zM302.66 686.22h2.53v20.66h-2.53zM190.96 706.38h2.53v20.66h-2.53zM377.8 706.38h2.53v20.66h-2.53zM387.96 706.38h2.53v20.66h-2.53zM392.02 706.38h2.53v20.66h-2.53zM410.3 726.54h2.53v20.66h-2.53zM426.55 726.54h2.53v20.66h-2.53zM154.4 746.7h2.53v20.66h-2.53zM300.63 746.7h2.53v20.66h-2.53zM377.8 746.7h2.53v20.66h-2.53zM410.3 746.7h2.53v20.66h-2.53zM211.27 766.86h2.53v20.66h-2.53zM219.39 766.86h2.53v20.66h-2.53zM266.1 766.86h2.53v20.66h-2.53zM361.56 766.86h2.53v20.66h-2.53zM426.55 766.86h2.53v20.66h-2.53zM192.99 787.02h2.53v20.66h-2.53zM197.05 787.02h2.53v20.66h-2.53zM371.71 787.02h2.53v20.66h-2.53zM392.02 787.02h2.53v20.66h-2.53zM249.86 807.18h2.53v20.66h-2.53zM168.62 827.34h2.53v20.66h-2.53zM237.67 827.34h2.53v20.66h-2.53zM359.52 827.34h2.53v20.66h-2.53zM365.62 827.34h2.53v20.66h-2.53zM379.83 827.34h2.53v20.66h-2.53zM410.3 827.34h2.53v20.66h-2.53zM190.96 847.5h2.53v20.66h-2.53zM243.76 847.5h2.53v20.66h-2.53zM322.97 847.5h2.53v20.66h-2.53zM377.8 847.5h4.56v20.66h-4.56zM158.46 867.66h2.53v20.66h-2.53zM209.24 867.66h2.53v20.66h-2.53zM223.45 867.66h4.56v20.66h-4.56zM369.68 867.66h2.53v20.66h-2.53zM377.8 867.66h2.53v20.66h-2.53zM215.33 887.82h2.53v20.66h-2.53zM414.36 887.82h2.53v20.66h-2.53zM154.4 907.98h2.53v20.66h-2.53zM192.99 907.98h2.53v20.66h-2.53zM320.94 907.98h2.53v20.66h-2.53zM404.21 928.14h2.53v20.66h-2.53zM156.43 948.3h2.53v20.66h-2.53zM225.48 948.3h2.53v20.66h-2.53zM237.67 948.3h2.53v20.66h-2.53zM345.31 948.3h2.53v20.66h-2.53zM365.62 948.3h2.53v20.66h-2.53zM140.19 968.46h2.53v20.66h-2.53zM164.56 968.46h2.53v20.66h-2.53zM215.33 968.46h2.53v20.66h-2.53zM351.4 968.46h2.53v20.66h-2.53zM389.99 968.46h2.53v20.66h-2.53zM410.3 968.46h2.53v20.66h-2.53zM302.66 988.62h2.53v20.66h-2.53zM182.83 1008.78h2.53v20.66h-2.53zM138.15 1028.94h2.53v20.16h-2.53zM276.26 1028.94h2.53v20.16h-2.53zM302.66 1028.94h2.53v20.16h-2.53zM325 1028.94h2.53v20.16h-2.53zM406.24 1028.94h2.53v20.16h-2.53zM428.58 1028.94h2.53v20.16h-2.53z"/><path fill="#ff1010" d="M312.81 645.9h2.53v20.66h-2.53zM359.52 645.9h2.53v20.66h-2.53zM128 666.06h2.53v20.66h-2.53zM292.5 666.06h2.53v20.66h-2.53zM325 666.06h2.53v20.66h-2.53zM132.06 686.22h2.53v20.66h-2.53zM150.34 686.22h2.53v20.66h-2.53zM184.87 686.22h2.53v20.66h-2.53zM231.58 686.22h2.53v20.66h-2.53zM247.82 686.22h2.53v20.66h-2.53zM274.23 686.22h2.53v20.66h-2.53zM292.5 686.22h2.53v20.66h-2.53zM339.22 686.22h2.53v20.66h-2.53zM392.02 686.22h2.53v20.66h-2.53zM322.97 706.38h2.53v20.66h-2.53zM402.17 706.38h2.53v20.66h-2.53zM367.65 726.54h2.53v20.66h-2.53zM434.67 726.54h2.03v20.66h-2.03zM146.28 746.7h2.53v20.66h-2.53zM217.36 746.7h2.53v20.66h-2.53zM270.16 746.7h2.53v20.66h-2.53zM280.32 746.7h2.53v20.66h-2.53zM146.28 766.86h2.53v20.66h-2.53zM150.34 766.86h2.53v20.66h-2.53zM162.53 766.86h2.53v20.66h-2.53zM253.92 766.86h2.53v20.66h-2.53zM302.66 766.86h2.53v20.66h-2.53zM132.06 787.02h2.53v20.66h-2.53zM138.15 787.02h2.53v20.66h-2.53zM253.92 787.02h2.53v20.66h-2.53zM288.44 787.02h2.53v20.66h-2.53zM300.63 787.02h2.53v20.66h-2.53zM434.67 787.02h2.03v20.66h-2.03zM192.99 827.34h2.53v20.66h-2.53zM306.72 827.34h2.53v20.66h-2.53zM389.99 827.34h2.53v20.66h-2.53zM430.61 827.34h2.53v20.66h-2.53zM369.68 847.5h2.53v20.66h-2.53zM130.03 867.66h2.53v20.66h-2.53zM278.29 867.66h2.53v20.66h-2.53zM432.64 867.66h2.53v20.66h-2.53zM128 907.98h2.53v20.66h-2.53zM253.92 907.98h2.53v20.66h-2.53zM278.29 907.98h2.53v20.66h-2.53zM290.47 907.98h2.53v20.66h-2.53zM420.45 907.98h2.53v20.66h-2.53zM304.69 928.14h2.53v20.66h-2.53zM316.88 928.14h2.53v20.66h-2.53zM280.32 948.3h2.53v20.66h-2.53zM434.67 948.3h2.03v20.66h-2.03zM217.36 968.46h2.53v20.66h-2.53zM282.35 968.46h2.53v20.66h-2.53zM373.74 988.62h2.53v20.66h-2.53zM184.87 1008.78h2.53v20.66h-2.53zM355.46 1008.78h2.53v20.66h-2.53zM178.77 1028.94h2.53v20.16h-2.53zM282.35 1028.94h2.53v20.16h-2.53zM339.22 1028.94h2.53v20.16h-2.53z"/><path fill="#ff5050" d="M320.94 645.9h2.53v20.66h-2.53zM168.62 666.06h4.56v20.66h-4.56zM329.06 666.06h2.53v20.66h-2.53zM132.06 726.54h2.53v20.66h-2.53zM249.86 726.54h2.53v20.66h-2.53zM286.41 726.54h2.53v20.66h-2.53zM170.65 746.7h2.53v20.66h-2.53zM184.87 746.7h2.53v20.66h-2.53zM219.39 746.7h2.53v20.66h-2.53zM355.46 746.7h2.53v20.66h-2.53zM412.33 746.7h2.53v20.66h-2.53zM245.79 766.86h2.53v20.66h-2.53zM249.86 766.86h2.53v20.66h-2.53zM286.41 766.86h2.53v20.66h-2.53zM300.63 766.86h2.53v20.66h-2.53zM130.03 787.02h2.53v20.66h-2.53zM154.4 787.02h2.53v20.66h-2.53zM422.48 787.02h2.53v20.66h-2.53zM219.39 807.18h2.53v20.66h-2.53zM318.91 807.18h2.53v20.66h-2.53zM351.4 807.18h2.53v20.66h-2.53zM363.59 807.18h2.53v20.66h-2.53zM367.65 807.18h2.53v20.66h-2.53zM416.39 807.18h2.53v20.66h-2.53zM146.28 827.34h2.53v20.66h-2.53zM288.44 827.34h2.53v20.66h-2.53zM300.63 827.34h2.53v20.66h-2.53zM355.46 827.34h2.53v20.66h-2.53zM367.65 827.34h2.53v20.66h-2.53zM402.17 827.34h2.53v20.66h-2.53zM168.62 847.5h2.53v20.66h-2.53zM249.86 847.5h2.53v20.66h-2.53zM262.04 847.5h2.53v20.66h-2.53zM327.03 867.66h2.53v20.66h-2.53zM365.62 867.66h2.53v20.66h-2.53zM128 887.82h2.53v20.66h-2.53zM318.91 887.82h2.53v20.66h-2.53zM152.37 907.98h2.53v20.66h-2.53zM188.93 907.98h2.53v20.66h-2.53zM219.39 907.98h2.53v20.66h-2.53zM355.46 907.98h2.53v20.66h-2.53zM132.06 928.14h2.53v20.66h-2.53zM162.53 928.14h2.53v20.66h-2.53zM130.03 948.3h2.53v20.66h-2.53zM146.28 948.3h2.53v20.66h-2.53zM207.21 948.3h2.53v20.66h-2.53zM351.4 948.3h2.53v20.66h-2.53zM184.87 968.46h2.53v20.66h-2.53zM286.41 968.46h2.53v20.66h-2.53zM402.17 968.46h2.53v20.66h-2.53zM213.3 988.62h2.53v20.66h-2.53zM369.68 988.62h2.53v20.66h-2.53zM132.06 1008.78h2.53v20.66h-2.53zM152.37 1008.78h2.53v20.66h-2.53zM335.15 1008.78h2.53v20.66h-2.53zM339.22 1008.78h2.53v20.66h-2.53zM158.46 1028.94h2.53v20.16h-2.53zM412.33 1028.94h2.53v20.16h-2.53z"/><path fill="#ff2020" d="M333.12 645.9h2.53v20.66h-2.53zM351.4 645.9h2.53v20.66h-2.53zM247.82 666.06h2.53v20.66h-2.53zM253.92 666.06h2.53v20.66h-2.53zM339.22 666.06h2.53v20.66h-2.53zM130.03 686.22h2.53v20.66h-2.53zM146.28 686.22h2.53v20.66h-2.53zM412.33 686.22h2.53v20.66h-2.53zM168.62 706.38h2.53v20.66h-2.53zM318.91 706.38h2.53v20.66h-2.53zM347.34 706.38h2.53v20.66h-2.53zM412.33 706.38h2.53v20.66h-2.53zM166.59 726.54h2.53v20.66h-2.53zM178.77 726.54h2.53v20.66h-2.53zM392.02 726.54h2.53v20.66h-2.53zM253.92 746.7h2.53v20.66h-2.53zM357.49 746.7h2.53v20.66h-2.53zM140.19 766.86h2.53v20.66h-2.53zM237.67 766.86h2.53v20.66h-2.53zM243.76 766.86h2.53v20.66h-2.53zM325 766.86h2.53v20.66h-2.53zM282.35 787.02h2.53v20.66h-2.53zM290.47 787.02h2.53v20.66h-2.53zM314.84 787.02h2.53v20.66h-2.53zM365.62 787.02h2.53v20.66h-2.53zM128 807.18h2.53v20.66h-2.53zM255.95 807.18h2.53v20.66h-2.53zM394.05 807.18h2.53v20.66h-2.53zM140.19 827.34h2.53v20.66h-2.53zM274.23 827.34h2.53v20.66h-2.53zM280.32 827.34h2.53v20.66h-2.53zM316.88 827.34h2.53v20.66h-2.53zM322.97 827.34h2.53v20.66h-2.53zM387.96 827.34h2.53v20.66h-2.53zM414.36 827.34h2.53v20.66h-2.53zM217.36 847.5h2.53v20.66h-2.53zM329.06 847.5h2.53v20.66h-2.53zM335.15 847.5h2.53v20.66h-2.53zM353.43 847.5h2.53v20.66h-2.53zM243.76 867.66h2.53v20.66h-2.53zM331.09 867.66h2.53v20.66h-2.53zM355.46 867.66h2.53v20.66h-2.53zM379.83 867.66h2.53v20.66h-2.53zM430.61 867.66h2.53v20.66h-2.53zM146.28 887.82h2.53v20.66h-2.53zM418.42 887.82h2.53v20.66h-2.53zM178.77 907.98h4.56v20.66h-4.56zM213.3 907.98h2.53v20.66h-2.53zM349.37 907.98h2.53v20.66h-2.53zM152.37 928.14h2.53v20.66h-2.53zM318.91 928.14h2.53v20.66h-2.53zM331.09 928.14h2.53v20.66h-2.53zM394.05 928.14h2.53v20.66h-2.53zM150.34 948.3h2.53v20.66h-2.53zM306.72 948.3h2.53v20.66h-2.53zM396.08 948.3h2.53v20.66h-2.53zM414.36 948.3h2.53v20.66h-2.53zM422.48 948.3h2.53v20.66h-2.53zM272.2 968.46h6.59v20.66h-6.59zM146.28 988.62h2.53v20.66h-2.53zM223.45 988.62h2.53v20.66h-2.53zM331.09 988.62h2.53v20.66h-2.53zM278.29 1008.78h2.53v20.66h-2.53zM406.24 1008.78h2.53v20.66h-2.53zM420.45 1008.78h2.53v20.66h-2.53zM434.67 1008.78h2.03v20.66h-2.03zM146.28 1028.94h2.53v20.16h-2.53zM152.37 1028.94h2.53v20.16h-2.53zM231.58 1028.94h2.53v20.16h-2.53zM367.65 1028.94h2.53v20.16h-2.53zM416.39 1028.94h2.53v20.16h-2.53z"/><path fill="#8f8fff" d="M357.49 645.9h2.53v20.66h-2.53zM422.48 645.9h2.53v20.66h-2.53zM144.25 666.06h2.53v20.66h-2.53zM221.42 666.06h2.53v20.66h-2.53zM260.01 666.06h2.53v20.66h-2.53zM375.77 666.06h2.53v20.66h-2.53zM182.83 686.22h2.53v20.66h-2.53zM288.44 686.22h2.53v20.66h-2.53zM310.78 686.22h2.53v20.66h-2.53zM333.12 686.22h2.53v20.66h-2.53zM341.25 686.22h2.53v20.66h-2.53zM381.87 686.22h2.53v20.66h-2.53zM426.55 686.22h2.53v20.66h-2.53zM138.15 706.38h2.53v20.66h-2.53zM195.02 706.38h2.53v20.66h-2.53zM333.12 706.38h2.53v20.66h-2.53zM424.51 706.38h2.53v20.66h-2.53zM260.01 726.54h2.53v20.66h-2.53zM379.83 726.54h2.53v20.66h-2.53zM396.08 726.54h4.56v20.66h-4.56zM225.48 746.7h2.53v20.66h-2.53zM233.61 746.7h2.53v20.66h-2.53zM312.81 746.7h2.53v20.66h-2.53zM320.94 746.7h2.53v20.66h-2.53zM430.61 746.7h2.53v20.66h-2.53zM154.4 766.86h2.53v20.66h-2.53zM225.48 766.86h2.53v20.66h-2.53zM288.44 766.86h2.53v20.66h-2.53zM203.14 787.02h2.53v20.66h-2.53zM209.24 787.02h4.56v20.66h-4.56zM229.55 787.02h2.53v20.66h-2.53zM333.12 787.02h2.53v20.66h-2.53zM134.09 807.18h2.53v20.66h-2.53zM164.56 807.18h2.53v20.66h-2.53zM195.02 807.18h2.53v20.66h-2.53zM203.14 807.18h2.53v20.66h-2.53zM235.64 807.18h2.53v20.66h-2.53zM172.68 827.34h2.53v20.66h-2.53zM156.43 847.5h2.53v20.66h-2.53zM270.16 847.5h2.53v20.66h-2.53zM351.4 847.5h2.53v20.66h-2.53zM383.9 847.5h2.53v20.66h-2.53zM148.31 887.82h2.53v20.66h-2.53zM288.44 887.82h2.53v20.66h-2.53zM320.94 887.82h2.53v20.66h-2.53zM359.52 887.82h2.53v20.66h-2.53zM186.9 907.98h2.53v20.66h-2.53zM233.61 907.98h2.53v20.66h-2.53zM270.16 907.98h2.53v20.66h-2.53zM138.15 928.14h2.53v20.66h-2.53zM310.78 928.14h2.53v20.66h-2.53zM400.14 928.14h2.53v20.66h-2.53zM426.55 928.14h2.53v20.66h-2.53zM211.27 948.3h2.53v20.66h-2.53zM227.52 948.3h2.53v20.66h-2.53zM262.04 948.3h2.53v20.66h-2.53zM343.28 948.3h2.53v20.66h-2.53zM359.52 968.46h2.53v20.66h-2.53zM371.71 968.46h2.53v20.66h-2.53zM387.96 968.46h2.53v20.66h-2.53zM148.31 988.62h2.53v20.66h-2.53zM337.18 988.62h2.53v20.66h-2.53zM148.31 1008.78h2.53v20.66h-2.53zM235.64 1008.78h2.53v20.66h-2.53zM296.57 1008.78h2.53v20.66h-2.53zM320.94 1008.78h2.53v20.66h-2.53zM341.25 1008.78h2.53v20.66h-2.53zM367.65 1008.78h2.53v20.66h-2.53zM142.22 1028.94h2.53v20.16h-2.53zM182.83 1028.94h2.53v20.16h-2.53z"/><path fill="#4040ff" d="M412.33 645.9h2.53v20.66h-2.53zM134.09 666.06h2.53v20.66h-2.53zM190.96 666.06h2.53v20.66h-2.53zM296.57 666.06h4.56v20.66h-4.56zM174.71 686.22h2.53v20.66h-2.53zM199.08 706.38h2.53v20.66h-2.53zM385.93 706.38h2.53v20.66h-2.53zM203.14 726.54h2.53v20.66h-2.53zM298.6 726.54h2.53v20.66h-2.53zM174.71 746.7h2.53v20.66h-2.53zM268.13 746.7h2.53v20.66h-2.53zM426.55 746.7h2.53v20.66h-2.53zM144.25 766.86h2.53v20.66h-2.53zM182.83 766.86h2.53v20.66h-2.53zM205.18 766.86h2.53v20.66h-2.53zM229.55 766.86h2.53v20.66h-2.53zM235.64 766.86h2.53v20.66h-2.53zM262.04 766.86h2.53v20.66h-2.53zM225.48 787.02h2.53v20.66h-2.53zM260.01 787.02h4.56v20.66h-4.56zM389.99 807.18h2.53v20.66h-2.53zM426.55 807.18h2.53v20.66h-2.53zM347.34 827.34h2.53v20.66h-2.53zM162.53 847.5h2.53v20.66h-2.53zM174.71 847.5h2.53v20.66h-2.53zM225.48 847.5h2.53v20.66h-2.53zM333.12 847.5h2.53v20.66h-2.53zM205.18 867.66h2.53v20.66h-2.53zM235.64 867.66h2.53v20.66h-2.53zM209.24 887.82h2.53v20.66h-2.53zM251.89 887.82h2.53v20.66h-2.53zM333.12 887.82h2.53v20.66h-2.53zM385.93 887.82h2.53v20.66h-2.53zM176.74 907.98h2.53v20.66h-2.53zM396.08 907.98h2.53v20.66h-2.53zM134.09 928.14h2.53v20.66h-2.53zM398.11 928.14h2.53v20.66h-2.53zM203.14 948.3h2.53v20.66h-2.53zM221.42 948.3h2.53v20.66h-2.53zM379.83 948.3h2.53v20.66h-2.53zM400.14 948.3h2.53v20.66h-2.53zM235.64 968.46h2.53v20.66h-2.53zM424.51 968.46h4.56v20.66h-4.56zM237.67 988.62h2.53v20.66h-2.53zM339.22 988.62h2.53v20.66h-2.53zM205.18 1008.78h2.53v20.66h-2.53zM365.62 1008.78h2.53v20.66h-2.53zM168.62 1028.94h2.53v20.16h-2.53zM186.9 1028.94h2.53v20.16h-2.53z"/><path fill="#5050ff" d="M136.12 666.06h2.53v20.66h-2.53zM235.64 666.06h2.53v20.66h-2.53zM251.89 666.06h2.53v20.66h-2.53zM424.51 666.06h2.53v20.66h-2.53zM201.11 686.22h2.53v20.66h-2.53zM251.89 686.22h2.53v20.66h-2.53zM154.4 706.38h2.53v20.66h-2.53zM288.44 706.38h2.53v20.66h-2.53zM312.81 706.38h2.53v20.66h-2.53zM383.9 706.38h2.53v20.66h-2.53zM428.58 706.38h2.53v20.66h-2.53zM172.68 726.54h2.53v20.66h-2.53zM369.68 726.54h2.53v20.66h-2.53zM148.31 746.7h2.53v20.66h-2.53zM148.31 787.02h2.53v20.66h-2.53zM156.43 787.02h2.53v20.66h-2.53zM251.89 787.02h2.53v20.66h-2.53zM424.51 787.02h2.53v20.66h-2.53zM186.9 807.18h2.53v20.66h-2.53zM201.11 807.18h2.53v20.66h-2.53zM268.13 807.18h2.53v20.66h-2.53zM312.81 807.18h2.53v20.66h-2.53zM320.94 807.18h2.53v20.66h-2.53zM225.48 827.34h2.53v20.66h-2.53zM262.04 827.34h2.53v20.66h-2.53zM320.94 827.34h2.53v20.66h-2.53zM235.64 847.5h2.53v20.66h-2.53zM361.56 847.5h2.53v20.66h-2.53zM215.33 867.66h2.53v20.66h-2.53zM320.94 867.66h2.53v20.66h-2.53zM164.56 887.82h2.53v20.66h-2.53zM174.71 887.82h2.53v20.66h-2.53zM203.14 887.82h2.53v20.66h-2.53zM144.25 907.98h2.53v20.66h-2.53zM221.42 907.98h2.53v20.66h-2.53zM239.7 907.98h2.53v20.66h-2.53zM298.6 907.98h2.53v20.66h-2.53zM375.77 907.98h2.53v20.66h-2.53zM385.93 907.98h2.53v20.66h-2.53zM404.21 907.98h2.53v20.66h-2.53zM416.39 907.98h2.53v20.66h-2.53zM428.58 907.98h2.53v20.66h-2.53zM209.24 928.14h2.53v20.66h-2.53zM341.25 928.14h2.53v20.66h-2.53zM424.51 928.14h2.53v20.66h-2.53zM239.7 948.3h2.53v20.66h-2.53zM381.87 968.46h2.53v20.66h-2.53zM400.14 968.46h2.53v20.66h-2.53zM389.99 988.62h2.53v20.66h-2.53zM164.56 1008.78h2.53v20.66h-2.53zM268.13 1008.78h2.53v20.66h-2.53zM148.31 1028.94h2.53v20.16h-2.53zM337.18 1028.94h2.53v20.16h-2.53zM375.77 1028.94h2.53v20.16h-2.53z"/><path fill="#ffefef" d="M233.61 666.06h2.53v20.66h-2.53zM365.62 666.06h4.56v20.66h-4.56zM414.36 666.06h2.53v20.66h-2.53zM136.12 686.22h2.53v20.66h-2.53zM156.43 686.22h2.53v20.66h-2.53zM188.93 686.22h2.53v20.66h-2.53zM355.46 686.22h2.53v20.66h-2.53zM402.17 686.22h2.53v20.66h-2.53zM162.53 706.38h2.53v20.66h-2.53zM253.92 706.38h2.53v20.66h-2.53zM414.36 706.38h2.53v20.66h-2.53zM140.19 726.54h2.53v20.66h-2.53zM146.28 726.54h2.53v20.66h-2.53zM152.37 726.54h2.53v20.66h-2.53zM229.55 726.54h2.53v20.66h-2.53zM278.29 726.54h2.53v20.66h-2.53zM414.36 726.54h2.53v20.66h-2.53zM192.99 746.7h2.53v20.66h-2.53zM207.21 746.7h2.53v20.66h-2.53zM343.28 746.7h2.53v20.66h-2.53zM304.69 766.86h2.53v20.66h-2.53zM314.84 766.86h2.53v20.66h-2.53zM162.53 787.02h2.53v20.66h-2.53zM223.45 787.02h2.53v20.66h-2.53zM379.83 787.02h2.53v20.66h-2.53zM410.3 787.02h2.53v20.66h-2.53zM266.1 807.18h2.53v20.66h-2.53zM377.8 827.34h2.53v20.66h-2.53zM288.44 847.5h2.53v20.66h-2.53zM320.94 847.5h2.53v20.66h-2.53zM359.52 847.5h2.53v20.66h-2.53zM365.62 847.5h2.53v20.66h-2.53zM156.43 867.66h2.53v20.66h-2.53zM190.96 867.66h2.53v20.66h-2.53zM322.97 887.82h2.53v20.66h-2.53zM331.09 887.82h2.53v20.66h-2.53zM211.27 907.98h2.53v20.66h-2.53zM300.63 907.98h2.53v20.66h-2.53zM422.48 907.98h2.53v20.66h-2.53zM142.22 928.14h2.53v20.66h-2.53zM154.4 928.14h4.56v20.66h-4.56zM369.68 928.14h2.53v20.66h-2.53zM385.93 928.14h2.53v20.66h-2.53zM182.83 948.3h2.53v20.66h-2.53zM300.63 948.3h2.53v20.66h-2.53zM327.03 988.62h2.53v20.66h-2.53zM381.87 988.62h2.53v20.66h-2.53zM385.93 988.62h2.53v20.66h-2.53zM130.03 1008.78h2.53v20.66h-2.53zM359.52 1008.78h2.53v20.66h-2.53zM410.3 1008.78h2.53v20.66h-2.53zM164.56 1028.94h2.53v20.16h-2.53zM221.42 1028.94h4.56v20.16h-4.56zM288.44 1028.94h2.53v20.16h-2.53zM310.78 1028.94h2.53v20.16h-2.53zM331.09 1028.94h2.53v20.16h-2.53zM402.17 1028.94h2.53v20.16h-2.53z"/></g>
<path d="M78.2 696.3H61.5V716.46H78.2M78.2 676.14H56.3V706.38H61.5M78.2 776.94H58.5V797.1H78.2M78.2 756.78H49.5V787.02H58.5M78.2 736.62H47.5V771.9H49.5M56.3 691.26H45V754.26H47.5M78.2 817.26H52.3V837.42H78.2M78.2 877.74H57.5V897.9H78.2M78.2 857.58H52.3V887.82H57.5M78.2 918.06H54.5V938.22H78.2M78.2 958.38H51.3V978.54H78.2M54.5 928.14H48.3V968.46H51.3M78.2 1018.86H53.3V1039.02H78.2M78.2 998.7H47.3V1028.94H53.3M48.3 948.3H43.6V1013.82H47.3M52.3 872.7H42.4V981.06H43.6M52.3 827.34H38V926.88H42.4M45 722.76H35V877.11H38M78.2 655.98H25.4V799.93H35" stroke="#222" stroke-width="0.95" fill="none"/>
<text x="443.7" y="631.5" font-size="8" font-weight="bold" fill="#111">Cluster</text>
<text x="443.7" y="641.6" font-size="8" font-weight="bold" fill="#111">Project</text>
<text x="443.7" y="658.08" font-size="6.05" fill="#222">KEGG_TASTE_TRANSDUCTION</text>
<text x="443.7" y="678.24" font-size="6.05" fill="#222">KEGG_BETA_ALANINE_METABOLISM</text>
<text x="443.7" y="698.4" font-size="6.05" fill="#222">KEGG_VALINE_LEUCINE_AND_ISOLEUCINE_DEGRADATION</text>
<text x="443.7" y="718.56" font-size="6.05" fill="#222">KEGG_BUTANOATE_METABOLISM</text>
<text x="443.7" y="738.72" font-size="6.05" fill="#222">KEGG_PANTOTHENATE_AND_COA_BIOSYNTHESIS</text>
<text x="443.7" y="758.88" font-size="6.05" fill="#222">KEGG_TERPENOID_BACKBONE_BIOSYNTHESIS</text>
<text x="443.7" y="779.04" font-size="6.05" fill="#222">KEGG_FRUCTOSE_AND_MANNOSE_METABOLISM</text>
<text x="443.7" y="799.2" font-size="6.05" fill="#222">KEGG_AMINO_SUGAR_AND_NUCLEOTIDE_SUGAR_METABOLISM</text>
<text x="443.7" y="819.36" font-size="6.05" fill="#222">KEGG_EPITHELIAL_CELL_SIGNALING_IN_HELICOBACTER_PYLORI_INFECTION</text>
<text x="443.7" y="839.52" font-size="6.05" fill="#222">KEGG_VIBRIO_CHOLERAE_INFECTION</text>
<text x="443.7" y="859.68" font-size="6.05" fill="#222">KEGG_PPAR_SIGNALING_PATHWAY</text>
<text x="443.7" y="879.84" font-size="6.05" fill="#222">KEGG_FATTY_ACID_METABOLISM</text>
<text x="443.7" y="900" font-size="6.05" fill="#222">KEGG_PEROXISOME</text>
<text x="443.7" y="920.16" font-size="6.05" fill="#222">KEGG_LINOLEIC_ACID_METABOLISM</text>
<text x="443.7" y="940.32" font-size="6.05" fill="#222">KEGG_ARACHIDONIC_ACID_METABOLISM</text>
<text x="443.7" y="960.48" font-size="6.05" fill="#222">KEGG_TYROSINE_METABOLISM</text>
<text x="443.7" y="980.64" font-size="6.05" fill="#222">KEGG_STEROID_HORMONE_BIOSYNTHESIS</text>
<text x="443.7" y="1000.8" font-size="6.05" fill="#222">KEGG_GLYCEROPHOSPHOLIPID_METABOLISM</text>
<text x="443.7" y="1020.96" font-size="6.05" fill="#222">KEGG_ETHER_LIPID_METABOLISM</text>
<text x="443.7" y="1041.12" font-size="6.05" fill="#222">KEGG_ALPHA_LINOLENIC_ACID_METABOLISM</text>
<defs><linearGradient id="gD" x1="0" y1="0" x2="0" y2="1"><stop offset="0" stop-color="#f00"/><stop offset="0.25" stop-color="#f00"/><stop offset="0.5" stop-color="#fff"/><stop offset="0.75" stop-color="#00f"/><stop offset="1" stop-color="#00f"/></linearGradient></defs><rect x="682" y="623.3" width="10" height="151.5" fill="url(#gD)"/>
<text x="696.3" y="642.8" font-size="8" fill="#222">2</text>
<text x="696.3" y="672.4" font-size="8" fill="#222">1</text>
<text x="696.3" y="702" font-size="8" fill="#222">0</text>
<text x="696.3" y="731.6" font-size="8" fill="#222">−1</text>
<text x="696.3" y="761.2" font-size="8" fill="#222">−2</text>
<text x="705.8" y="629.6" font-size="8" font-weight="bold" fill="#111">Cluster</text>
<rect x="705.8" y="632.4" width="11.9" height="11.5" fill="#0066ff"/>
<rect x="705.8" y="643.9" width="11.9" height="11.6" fill="#ff9900"/>
<text x="720.3" y="640.9" font-size="8" fill="#222">A</text>
<text x="720.3" y="652.6" font-size="8" fill="#222">B</text>
<text x="705.8" y="669.9" font-size="8" font-weight="bold" fill="#111">Project</text>
<rect x="705.8" y="672.8" width="11.9" height="11.3" fill="#00d65a"/>
<text x="720.3" y="681.4" font-size="8" fill="#222">TCGA</text>
</g>
<g id="panelE">
<text transform="translate(676.1 606.1) scale(0.925 1)" font-size="30.5" font-weight="bold">E</text>
<g><path fill="#00d0ff" d="M781.4 687.7h4.87v6.1h-4.87zM833.84 687.7h2.69v6.1h-2.69zM853.51 687.7h2.69v6.1h-2.69zM857.88 687.7h2.69v6.1h-2.69zM905.95 687.7h2.69v6.1h-2.69zM912.51 687.7h4.87v6.1h-4.87zM943.1 687.7h2.69v6.1h-2.69zM1002.1 687.7h4.87v6.1h-4.87zM1037.06 687.7h2.69v6.1h-2.69zM1080.76 687.7h4.87v6.1h-4.87zM1087.32 687.7h2.69v6.1h-2.69zM1139.76 687.7h7.06v6.1h-7.06zM1150.69 687.7h4.87v6.1h-4.87zM1157.24 687.7h2.69v6.1h-2.69z"/><path fill="#00d977" d="M785.77 687.7h33.28v6.1h-33.28zM825.1 687.7h7.06v6.1h-7.06zM836.03 687.7h17.98v6.1h-17.98zM855.69 687.7h2.69v6.1h-2.69zM860.07 687.7h46.39v6.1h-46.39zM921.25 687.7h22.35v6.1h-22.35zM945.29 687.7h13.61v6.1h-13.61zM960.58 687.7h39.83v6.1h-39.83zM1010.84 687.7h26.72v6.1h-26.72zM1039.25 687.7h42.02v6.1h-42.02zM1089.51 687.7h15.8v6.1h-15.8zM1106.99 687.7h9.24v6.1h-9.24zM1117.91 687.7h22.35v6.1h-22.35zM1159.43 687.7h4.37v6.1h-4.37z"/><path fill="#c9f" d="M818.55 687.7h2.69v6.1h-2.69zM822.92 687.7h2.69v6.1h-2.69zM916.88 687.7h2.69v6.1h-2.69zM1115.73 687.7h2.69v6.1h-2.69z"/><path fill="#ff7dd1" d="M820.73 687.7h2.69v6.1h-2.69zM831.66 687.7h2.69v6.1h-2.69zM908.14 687.7h4.87v6.1h-4.87zM919.06 687.7h2.69v6.1h-2.69zM958.4 687.7h2.69v6.1h-2.69zM999.91 687.7h2.69v6.1h-2.69zM1006.47 687.7h4.87v6.1h-4.87zM1085.13 687.7h2.69v6.1h-2.69zM1104.8 687.7h2.69v6.1h-2.69zM1146.32 687.7h4.87v6.1h-4.87zM1155.06 687.7h2.69v6.1h-2.69z"/></g>
<g><path fill="#00dbc0" d="M781.4 695.9h382.4v6.1h-382.4z"/></g>
<g><path fill="#ff83fa" d="M781.4 704h2.69v6.1h-2.69zM798.88 704h2.69v6.1h-2.69zM803.25 704h20.17v6.1h-20.17zM825.1 704h4.87v6.1h-4.87zM831.66 704h4.87v6.1h-4.87zM846.95 704h4.87v6.1h-4.87zM853.51 704h2.69v6.1h-2.69zM857.88 704h2.69v6.1h-2.69zM862.25 704h7.06v6.1h-7.06zM873.18 704h7.06v6.1h-7.06zM881.92 704h7.06v6.1h-7.06zM892.84 704h2.69v6.1h-2.69zM897.21 704h4.87v6.1h-4.87zM903.77 704h17.98v6.1h-17.98zM925.62 704h4.87v6.1h-4.87zM932.17 704h2.69v6.1h-2.69zM938.73 704h4.87v6.1h-4.87zM949.66 704h2.69v6.1h-2.69zM960.58 704h7.06v6.1h-7.06zM971.51 704h2.69v6.1h-2.69zM986.8 704h4.87v6.1h-4.87zM995.54 704h4.87v6.1h-4.87zM1002.1 704h9.24v6.1h-9.24zM1026.14 704h4.87v6.1h-4.87zM1032.69 704h17.98v6.1h-17.98zM1052.36 704h2.69v6.1h-2.69zM1061.1 704h4.87v6.1h-4.87zM1067.65 704h4.87v6.1h-4.87zM1080.76 704h7.06v6.1h-7.06zM1091.69 704h7.06v6.1h-7.06zM1100.43 704h2.69v6.1h-2.69zM1120.1 704h4.87v6.1h-4.87zM1131.02 704h2.69v6.1h-2.69zM1144.13 704h9.24v6.1h-9.24zM1155.06 704h4.87v6.1h-4.87z"/><path fill="#7acc00" d="M783.59 704h15.8v6.1h-15.8zM801.07 704h2.69v6.1h-2.69zM822.92 704h2.69v6.1h-2.69zM829.47 704h2.69v6.1h-2.69zM836.03 704h11.43v6.1h-11.43zM851.32 704h2.69v6.1h-2.69zM855.69 704h2.69v6.1h-2.69zM860.07 704h2.69v6.1h-2.69zM868.81 704h4.87v6.1h-4.87zM879.73 704h2.69v6.1h-2.69zM888.47 704h4.87v6.1h-4.87zM895.03 704h2.69v6.1h-2.69zM901.58 704h2.69v6.1h-2.69zM921.25 704h4.87v6.1h-4.87zM929.99 704h2.69v6.1h-2.69zM934.36 704h4.87v6.1h-4.87zM943.1 704h7.06v6.1h-7.06zM951.84 704h9.24v6.1h-9.24zM967.14 704h4.87v6.1h-4.87zM973.69 704h13.61v6.1h-13.61zM991.17 704h4.87v6.1h-4.87zM999.91 704h2.69v6.1h-2.69zM1010.84 704h9.24v6.1h-9.24zM1021.77 704h2.69v6.1h-2.69zM1030.51 704h2.69v6.1h-2.69zM1050.17 704h2.69v6.1h-2.69zM1054.54 704h7.06v6.1h-7.06zM1065.47 704h2.69v6.1h-2.69zM1072.02 704h9.24v6.1h-9.24zM1087.32 704h4.87v6.1h-4.87zM1098.25 704h2.69v6.1h-2.69zM1102.62 704h17.98v6.1h-17.98zM1124.47 704h7.06v6.1h-7.06zM1133.21 704h11.43v6.1h-11.43zM1152.87 704h2.69v6.1h-2.69zM1159.43 704h4.37v6.1h-4.37z"/><path fill="#f5a010" d="M1019.58 704h2.69v6.1h-2.69zM1023.95 704h2.69v6.1h-2.69z"/></g>
<g><path fill="#ff8f88" d="M781.4 712h382.4v6.1h-382.4z"/></g>
<g><path fill="#06f" d="M781.4 720h50.76v6.1h-50.76z"/><path fill="#f90" d="M831.66 720h332.14v6.1h-332.14z"/></g>
<g><path fill="#ffafaf" d="M781.4 729.1h2.69v35h-2.69zM807.62 729.1h2.69v35h-2.69zM822.92 729.1h2.69v35h-2.69zM929.99 729.1h2.69v35h-2.69zM1039.25 729.1h2.69v35h-2.69zM1087.32 729.1h2.69v35h-2.69zM1030.51 763.6h2.69v35h-2.69zM905.95 798.1h2.69v35h-2.69zM1074.21 798.1h2.69v35h-2.69zM1085.13 798.1h2.69v35h-2.69zM846.95 832.6h2.69v35h-2.69zM879.73 832.6h2.69v35h-2.69zM901.58 832.6h2.69v35h-2.69zM971.51 832.6h2.69v35h-2.69zM1039.25 832.6h2.69v35h-2.69zM1082.95 832.6h2.69v35h-2.69zM781.4 867.1h2.69v35h-2.69zM833.84 867.1h2.69v35h-2.69zM991.17 867.1h2.69v35h-2.69zM1017.4 936.1h2.69v35h-2.69zM798.88 970.6h2.69v35h-2.69zM947.47 970.6h2.69v35h-2.69zM919.06 1005.1h2.69v34.5h-2.69zM934.36 1005.1h2.69v34.5h-2.69zM1133.21 1005.1h2.69v34.5h-2.69zM1157.24 1005.1h2.69v34.5h-2.69z"/><path fill="#afafff" d="M783.59 729.1h2.69v35h-2.69zM794.51 729.1h2.69v35h-2.69zM805.44 729.1h2.69v35h-2.69zM829.47 729.1h2.69v35h-2.69zM842.58 729.1h2.69v35h-2.69zM903.77 729.1h2.69v35h-2.69zM934.36 729.1h2.69v35h-2.69zM943.1 729.1h2.69v35h-2.69zM949.66 729.1h2.69v35h-2.69zM956.21 729.1h2.69v35h-2.69zM971.51 729.1h2.69v35h-2.69zM997.73 729.1h2.69v35h-2.69zM1019.58 729.1h2.69v35h-2.69zM1023.95 729.1h4.87v35h-4.87zM1067.65 729.1h2.69v35h-2.69zM1100.43 729.1h4.87v35h-4.87zM1109.17 729.1h2.69v35h-2.69zM1161.61 729.1h2.19v35h-2.19zM785.77 763.6h2.69v35h-2.69zM792.33 763.6h2.69v35h-2.69zM842.58 763.6h4.87v35h-4.87zM851.32 763.6h2.69v35h-2.69zM862.25 763.6h2.69v35h-2.69zM868.81 763.6h2.69v35h-2.69zM875.36 763.6h2.69v35h-2.69zM884.1 763.6h2.69v35h-2.69zM888.47 763.6h2.69v35h-2.69zM934.36 763.6h2.69v35h-2.69zM956.21 763.6h2.69v35h-2.69zM960.58 763.6h4.87v35h-4.87zM971.51 763.6h2.69v35h-2.69zM984.62 763.6h2.69v35h-2.69zM995.54 763.6h2.69v35h-2.69zM999.91 763.6h2.69v35h-2.69zM1015.21 763.6h2.69v35h-2.69zM1037.06 763.6h2.69v35h-2.69zM1087.32 763.6h2.69v35h-2.69zM1093.88 763.6h2.69v35h-2.69zM1115.73 763.6h2.69v35h-2.69zM1124.47 763.6h4.87v35h-4.87zM1131.02 763.6h4.87v35h-4.87zM1155.06 763.6h2.69v35h-2.69zM1159.43 763.6h4.37v35h-4.37zM877.55 798.1h2.69v35h-2.69zM945.29 798.1h2.69v35h-2.69zM1002.1 798.1h2.69v35h-2.69zM1021.77 798.1h2.69v35h-2.69zM1030.51 798.1h2.69v35h-2.69zM1045.8 798.1h2.69v35h-2.69zM1056.73 798.1h2.69v35h-2.69zM1063.28 798.1h2.69v35h-2.69zM1080.76 798.1h2.69v35h-2.69zM1144.13 798.1h2.69v35h-2.69zM1157.24 798.1h2.69v35h-2.69zM840.4 832.6h2.69v35h-2.69zM877.55 832.6h2.69v35h-2.69zM888.47 832.6h2.69v35h-2.69zM910.32 832.6h2.69v35h-2.69zM916.88 832.6h2.69v35h-2.69zM954.03 832.6h2.69v35h-2.69zM1006.47 832.6h2.69v35h-2.69zM1065.47 832.6h2.69v35h-2.69zM1091.69 832.6h2.69v35h-2.69zM1113.54 832.6h2.69v35h-2.69zM1120.1 832.6h2.69v35h-2.69zM1159.43 832.6h2.69v35h-2.69zM796.7 867.1h2.69v35h-2.69zM829.47 867.1h2.69v35h-2.69zM842.58 867.1h2.69v35h-2.69zM881.92 867.1h2.69v35h-2.69zM921.25 867.1h2.69v35h-2.69zM956.21 867.1h2.69v35h-2.69zM975.88 867.1h2.69v35h-2.69zM1054.54 867.1h2.69v35h-2.69zM1113.54 867.1h2.69v35h-2.69zM838.21 901.6h2.69v35h-2.69zM934.36 901.6h2.69v35h-2.69zM1019.58 901.6h2.69v35h-2.69zM1034.88 901.6h2.69v35h-2.69zM1050.17 901.6h2.69v35h-2.69zM1067.65 901.6h7.06v35h-7.06zM1096.06 901.6h2.69v35h-2.69zM1146.32 901.6h2.69v35h-2.69zM833.84 936.1h2.69v35h-2.69zM849.14 936.1h2.69v35h-2.69zM958.4 936.1h2.69v35h-2.69zM982.43 936.1h2.69v35h-2.69zM1144.13 936.1h2.69v35h-2.69zM803.25 970.6h2.69v35h-2.69zM851.32 970.6h2.69v35h-2.69zM855.69 970.6h2.69v35h-2.69zM1133.21 970.6h2.69v35h-2.69zM1146.32 970.6h2.69v35h-2.69zM1157.24 970.6h2.69v35h-2.69zM921.25 1005.1h2.69v34.5h-2.69zM947.47 1005.1h2.69v34.5h-2.69zM982.43 1005.1h2.69v34.5h-2.69zM986.8 1005.1h2.69v34.5h-2.69zM999.91 1005.1h2.69v34.5h-2.69zM1006.47 1005.1h2.69v34.5h-2.69zM1019.58 1005.1h2.69v34.5h-2.69zM1032.69 1005.1h2.69v34.5h-2.69zM1052.36 1005.1h2.69v34.5h-2.69zM1072.02 1005.1h2.69v34.5h-2.69zM1115.73 1005.1h2.69v34.5h-2.69z"/><path fill="#cfcfff" d="M785.77 729.1h2.69v35h-2.69zM809.81 729.1h2.69v35h-2.69zM846.95 729.1h2.69v35h-2.69zM855.69 729.1h2.69v35h-2.69zM864.44 729.1h2.69v35h-2.69zM881.92 729.1h2.69v35h-2.69zM897.21 729.1h2.69v35h-2.69zM912.51 729.1h2.69v35h-2.69zM936.55 729.1h4.87v35h-4.87zM995.54 729.1h2.69v35h-2.69zM1004.28 729.1h2.69v35h-2.69zM1054.54 729.1h2.69v35h-2.69zM1080.76 729.1h2.69v35h-2.69zM1113.54 729.1h2.69v35h-2.69zM1122.28 729.1h2.69v35h-2.69zM1141.95 729.1h2.69v35h-2.69zM783.59 763.6h2.69v35h-2.69zM801.07 763.6h2.69v35h-2.69zM829.47 763.6h2.69v35h-2.69zM840.4 763.6h2.69v35h-2.69zM857.88 763.6h2.69v35h-2.69zM866.62 763.6h2.69v35h-2.69zM870.99 763.6h4.87v35h-4.87zM895.03 763.6h2.69v35h-2.69zM905.95 763.6h2.69v35h-2.69zM914.69 763.6h2.69v35h-2.69zM938.73 763.6h2.69v35h-2.69zM958.4 763.6h2.69v35h-2.69zM964.95 763.6h2.69v35h-2.69zM978.06 763.6h2.69v35h-2.69zM991.17 763.6h2.69v35h-2.69zM1013.03 763.6h2.69v35h-2.69zM1056.73 763.6h2.69v35h-2.69zM1067.65 763.6h2.69v35h-2.69zM1076.39 763.6h2.69v35h-2.69zM1111.36 763.6h2.69v35h-2.69zM1120.1 763.6h4.87v35h-4.87zM1144.13 763.6h2.69v35h-2.69zM1157.24 763.6h2.69v35h-2.69zM809.81 798.1h2.69v35h-2.69zM822.92 798.1h2.69v35h-2.69zM910.32 798.1h2.69v35h-2.69zM962.77 798.1h2.69v35h-2.69zM978.06 798.1h2.69v35h-2.69zM1017.4 798.1h2.69v35h-2.69zM1034.88 798.1h2.69v35h-2.69zM1109.17 798.1h2.69v35h-2.69zM1117.91 798.1h2.69v35h-2.69zM903.77 832.6h2.69v35h-2.69zM1037.06 832.6h2.69v35h-2.69zM1041.43 832.6h2.69v35h-2.69zM1128.84 832.6h2.69v35h-2.69zM792.33 867.1h2.69v35h-2.69zM809.81 867.1h2.69v35h-2.69zM853.51 867.1h2.69v35h-2.69zM1091.69 867.1h2.69v35h-2.69zM1106.99 867.1h2.69v35h-2.69zM1120.1 867.1h2.69v35h-2.69zM873.18 901.6h2.69v35h-2.69zM912.51 901.6h2.69v35h-2.69zM938.73 901.6h2.69v35h-2.69zM943.1 901.6h2.69v35h-2.69zM1010.84 901.6h2.69v35h-2.69zM1021.77 901.6h2.69v35h-2.69zM1028.32 901.6h2.69v35h-2.69zM1104.8 901.6h2.69v35h-2.69zM1144.13 901.6h2.69v35h-2.69zM1150.69 901.6h2.69v35h-2.69zM785.77 936.1h2.69v35h-2.69zM895.03 936.1h2.69v35h-2.69zM901.58 936.1h4.87v35h-4.87zM925.62 936.1h2.69v35h-2.69zM971.51 936.1h2.69v35h-2.69zM1102.62 936.1h2.69v35h-2.69zM1157.24 936.1h2.69v35h-2.69zM846.95 970.6h2.69v35h-2.69zM860.07 970.6h2.69v35h-2.69zM932.17 970.6h2.69v35h-2.69zM1002.1 970.6h2.69v35h-2.69zM1087.32 970.6h2.69v35h-2.69zM807.62 1005.1h2.69v34.5h-2.69zM811.99 1005.1h2.69v34.5h-2.69zM820.73 1005.1h2.69v34.5h-2.69zM840.4 1005.1h2.69v34.5h-2.69zM914.69 1005.1h2.69v34.5h-2.69zM938.73 1005.1h2.69v34.5h-2.69zM1002.1 1005.1h2.69v34.5h-2.69zM1082.95 1005.1h2.69v34.5h-2.69zM1124.47 1005.1h2.69v34.5h-2.69z"/><path fill="#dfdfff" d="M787.96 729.1h2.69v35h-2.69zM796.7 729.1h4.87v35h-4.87zM851.32 729.1h2.69v35h-2.69zM860.07 729.1h2.69v35h-2.69zM886.29 729.1h2.69v35h-2.69zM921.25 729.1h2.69v35h-2.69zM927.8 729.1h2.69v35h-2.69zM947.47 729.1h2.69v35h-2.69zM1028.32 729.1h2.69v35h-2.69zM1032.69 729.1h2.69v35h-2.69zM1045.8 729.1h4.87v35h-4.87zM1072.02 729.1h2.69v35h-2.69zM1078.58 729.1h2.69v35h-2.69zM1093.88 729.1h2.69v35h-2.69zM1126.65 729.1h2.69v35h-2.69zM1137.58 729.1h2.69v35h-2.69zM1144.13 729.1h2.69v35h-2.69zM796.7 763.6h2.69v35h-2.69zM816.36 763.6h2.69v35h-2.69zM836.03 763.6h2.69v35h-2.69zM881.92 763.6h2.69v35h-2.69zM897.21 763.6h4.87v35h-4.87zM927.8 763.6h2.69v35h-2.69zM936.55 763.6h2.69v35h-2.69zM954.03 763.6h2.69v35h-2.69zM980.25 763.6h4.87v35h-4.87zM988.99 763.6h2.69v35h-2.69zM1004.28 763.6h2.69v35h-2.69zM1023.95 763.6h2.69v35h-2.69zM1032.69 763.6h2.69v35h-2.69zM1041.43 763.6h2.69v35h-2.69zM1082.95 763.6h4.87v35h-4.87zM1091.69 763.6h2.69v35h-2.69zM1100.43 763.6h2.69v35h-2.69zM1135.39 763.6h2.69v35h-2.69zM801.07 798.1h4.87v35h-4.87zM829.47 798.1h2.69v35h-2.69zM879.73 798.1h2.69v35h-2.69zM908.14 798.1h2.69v35h-2.69zM947.47 798.1h2.69v35h-2.69zM1152.87 798.1h2.69v35h-2.69zM860.07 832.6h2.69v35h-2.69zM934.36 832.6h2.69v35h-2.69zM991.17 832.6h2.69v35h-2.69zM1019.58 832.6h2.69v35h-2.69zM1054.54 832.6h4.87v35h-4.87zM1067.65 832.6h2.69v35h-2.69zM1074.21 832.6h2.69v35h-2.69zM927.8 867.1h2.69v35h-2.69zM982.43 867.1h2.69v35h-2.69zM1034.88 867.1h2.69v35h-2.69zM1109.17 867.1h2.69v35h-2.69zM846.95 901.6h4.87v35h-4.87zM866.62 901.6h2.69v35h-2.69zM875.36 901.6h2.69v35h-2.69zM895.03 901.6h2.69v35h-2.69zM899.4 901.6h2.69v35h-2.69zM923.43 901.6h2.69v35h-2.69zM956.21 901.6h2.69v35h-2.69zM999.91 901.6h2.69v35h-2.69zM1054.54 901.6h2.69v35h-2.69zM1061.1 901.6h2.69v35h-2.69zM1076.39 901.6h2.69v35h-2.69zM1089.51 901.6h2.69v35h-2.69zM1126.65 901.6h2.69v35h-2.69zM1148.5 901.6h2.69v35h-2.69zM792.33 936.1h2.69v35h-2.69zM851.32 936.1h2.69v35h-2.69zM873.18 936.1h2.69v35h-2.69zM934.36 936.1h2.69v35h-2.69zM991.17 936.1h2.69v35h-2.69zM1034.88 936.1h2.69v35h-2.69zM1111.36 936.1h2.69v35h-2.69zM1117.91 936.1h2.69v35h-2.69zM809.81 970.6h2.69v35h-2.69zM988.99 970.6h2.69v35h-2.69zM1017.4 970.6h2.69v35h-2.69zM1144.13 970.6h2.69v35h-2.69zM903.77 1005.1h2.69v34.5h-2.69zM962.77 1005.1h2.69v34.5h-2.69zM973.69 1005.1h2.69v34.5h-2.69zM1063.28 1005.1h2.69v34.5h-2.69z"/><path fill="#9f9fff" d="M790.14 729.1h2.69v35h-2.69zM803.25 729.1h2.69v35h-2.69zM853.51 729.1h2.69v35h-2.69zM857.88 729.1h2.69v35h-2.69zM870.99 729.1h2.69v35h-2.69zM910.32 729.1h2.69v35h-2.69zM914.69 729.1h2.69v35h-2.69zM932.17 729.1h2.69v35h-2.69zM940.92 729.1h2.69v35h-2.69zM945.29 729.1h2.69v35h-2.69zM954.03 729.1h2.69v35h-2.69zM982.43 729.1h2.69v35h-2.69zM1002.1 729.1h2.69v35h-2.69zM1058.91 729.1h7.06v35h-7.06zM1082.95 729.1h2.69v35h-2.69zM1096.06 729.1h2.69v35h-2.69zM1111.36 729.1h2.69v35h-2.69zM1115.73 729.1h4.87v35h-4.87zM1150.69 729.1h4.87v35h-4.87zM827.29 763.6h2.69v35h-2.69zM855.69 763.6h2.69v35h-2.69zM864.44 763.6h2.69v35h-2.69zM892.84 763.6h2.69v35h-2.69zM923.43 763.6h2.69v35h-2.69zM943.1 763.6h2.69v35h-2.69zM967.14 763.6h2.69v35h-2.69zM1019.58 763.6h2.69v35h-2.69zM1026.14 763.6h2.69v35h-2.69zM1072.02 763.6h2.69v35h-2.69zM1102.62 763.6h2.69v35h-2.69zM1117.91 763.6h2.69v35h-2.69zM831.66 798.1h2.69v35h-2.69zM888.47 798.1h2.69v35h-2.69zM901.58 798.1h2.69v35h-2.69zM956.21 798.1h2.69v35h-2.69zM984.62 798.1h2.69v35h-2.69zM1008.65 798.1h2.69v35h-2.69zM1041.43 798.1h2.69v35h-2.69zM1050.17 798.1h4.87v35h-4.87zM1098.25 798.1h2.69v35h-2.69zM1102.62 798.1h2.69v35h-2.69zM1113.54 798.1h4.87v35h-4.87zM833.84 832.6h2.69v35h-2.69zM855.69 832.6h2.69v35h-2.69zM914.69 832.6h2.69v35h-2.69zM923.43 832.6h4.87v35h-4.87zM1021.77 832.6h2.69v35h-2.69zM820.73 867.1h2.69v35h-2.69zM897.21 867.1h2.69v35h-2.69zM936.55 867.1h2.69v35h-2.69zM951.84 867.1h2.69v35h-2.69zM1013.03 867.1h2.69v35h-2.69zM1043.62 867.1h2.69v35h-2.69zM1146.32 867.1h2.69v35h-2.69zM888.47 901.6h2.69v35h-2.69zM901.58 901.6h2.69v35h-2.69zM910.32 901.6h2.69v35h-2.69zM951.84 901.6h4.87v35h-4.87zM967.14 901.6h2.69v35h-2.69zM1013.03 901.6h2.69v35h-2.69zM1047.99 901.6h2.69v35h-2.69zM1109.17 901.6h2.69v35h-2.69zM1124.47 901.6h2.69v35h-2.69zM1152.87 901.6h2.69v35h-2.69zM1161.61 901.6h2.19v35h-2.19zM879.73 936.1h2.69v35h-2.69zM888.47 936.1h2.69v35h-2.69zM975.88 936.1h2.69v35h-2.69zM986.8 936.1h2.69v35h-2.69zM1002.1 936.1h2.69v35h-2.69zM1030.51 936.1h2.69v35h-2.69zM1072.02 936.1h2.69v35h-2.69zM1087.32 936.1h4.87v35h-4.87zM862.25 970.6h2.69v35h-2.69zM899.4 970.6h2.69v35h-2.69zM919.06 970.6h2.69v35h-2.69zM936.55 970.6h2.69v35h-2.69zM949.66 970.6h4.87v35h-4.87zM1004.28 970.6h2.69v35h-2.69zM1026.14 970.6h2.69v35h-2.69zM1096.06 970.6h2.69v35h-2.69zM1139.76 970.6h2.69v35h-2.69zM798.88 1005.1h2.69v34.5h-2.69zM829.47 1005.1h2.69v34.5h-2.69zM846.95 1005.1h2.69v34.5h-2.69zM851.32 1005.1h2.69v34.5h-2.69zM927.8 1005.1h4.87v34.5h-4.87zM995.54 1005.1h2.69v34.5h-2.69zM1017.4 1005.1h2.69v34.5h-2.69zM1043.62 1005.1h2.69v34.5h-2.69zM1050.17 1005.1h2.69v34.5h-2.69zM1091.69 1005.1h4.87v34.5h-4.87zM1106.99 1005.1h2.69v34.5h-2.69zM1131.02 1005.1h2.69v34.5h-2.69zM1135.39 1005.1h2.69v34.5h-2.69z"/><path fill="#ffefef" d="M792.33 729.1h2.69v35h-2.69zM951.84 729.1h2.69v35h-2.69zM1076.39 729.1h2.69v35h-2.69zM1087.32 798.1h2.69v35h-2.69zM1120.1 798.1h4.87v35h-4.87zM831.66 867.1h2.69v35h-2.69zM846.95 867.1h2.69v35h-2.69zM978.06 867.1h2.69v35h-2.69zM999.91 867.1h2.69v35h-2.69zM1056.73 867.1h2.69v35h-2.69zM860.07 901.6h2.69v35h-2.69zM890.66 901.6h2.69v35h-2.69zM916.88 901.6h2.69v35h-2.69zM1023.95 901.6h2.69v35h-2.69zM1063.28 901.6h2.69v35h-2.69zM1135.39 901.6h2.69v35h-2.69zM1058.91 936.1h2.69v35h-2.69zM1100.43 936.1h2.69v35h-2.69zM1120.1 936.1h2.69v35h-2.69zM836.03 970.6h2.69v35h-2.69zM1109.17 970.6h2.69v35h-2.69zM993.36 1005.1h2.69v34.5h-2.69z"/><path fill="#f00" d="M801.07 729.1h2.69v35h-2.69zM811.99 729.1h2.69v35h-2.69zM816.36 729.1h2.69v35h-2.69zM827.29 729.1h2.69v35h-2.69zM840.4 729.1h2.69v35h-2.69zM844.77 729.1h2.69v35h-2.69zM875.36 729.1h2.69v35h-2.69zM969.32 729.1h2.69v35h-2.69zM991.17 729.1h2.69v35h-2.69zM1006.47 729.1h2.69v35h-2.69zM1037.06 729.1h2.69v35h-2.69zM1043.62 729.1h2.69v35h-2.69zM1065.47 729.1h2.69v35h-2.69zM1074.21 729.1h2.69v35h-2.69zM1098.25 729.1h2.69v35h-2.69zM1131.02 729.1h2.69v35h-2.69zM1139.76 729.1h2.69v35h-2.69zM787.96 763.6h2.69v35h-2.69zM807.62 763.6h2.69v35h-2.69zM825.1 763.6h2.69v35h-2.69zM831.66 763.6h2.69v35h-2.69zM838.21 763.6h2.69v35h-2.69zM853.51 763.6h2.69v35h-2.69zM912.51 763.6h2.69v35h-2.69zM986.8 763.6h2.69v35h-2.69zM1034.88 763.6h2.69v35h-2.69zM1058.91 763.6h2.69v35h-2.69zM1078.58 763.6h2.69v35h-2.69zM1098.25 763.6h2.69v35h-2.69zM1104.8 763.6h2.69v35h-2.69zM1128.84 763.6h2.69v35h-2.69zM1141.95 763.6h2.69v35h-2.69zM1152.87 763.6h2.69v35h-2.69zM787.96 798.1h7.06v35h-7.06zM796.7 798.1h2.69v35h-2.69zM814.18 798.1h2.69v35h-2.69zM836.03 798.1h2.69v35h-2.69zM860.07 798.1h2.69v35h-2.69zM881.92 798.1h2.69v35h-2.69zM886.29 798.1h2.69v35h-2.69zM936.55 798.1h2.69v35h-2.69zM982.43 798.1h2.69v35h-2.69zM1004.28 798.1h2.69v35h-2.69zM1023.95 798.1h2.69v35h-2.69zM1058.91 798.1h4.87v35h-4.87zM1067.65 798.1h2.69v35h-2.69zM1091.69 798.1h2.69v35h-2.69zM1133.21 798.1h2.69v35h-2.69zM1146.32 798.1h2.69v35h-2.69zM836.03 832.6h4.87v35h-4.87zM864.44 832.6h2.69v35h-2.69zM908.14 832.6h2.69v35h-2.69zM912.51 832.6h2.69v35h-2.69zM927.8 832.6h2.69v35h-2.69zM967.14 832.6h2.69v35h-2.69zM1004.28 832.6h2.69v35h-2.69zM1010.84 832.6h2.69v35h-2.69zM1023.95 832.6h2.69v35h-2.69zM1050.17 832.6h2.69v35h-2.69zM1058.91 832.6h2.69v35h-2.69zM1085.13 832.6h2.69v35h-2.69zM1096.06 832.6h2.69v35h-2.69zM1106.99 832.6h4.87v35h-4.87zM1141.95 832.6h2.69v35h-2.69zM1148.5 832.6h4.87v35h-4.87zM1155.06 832.6h2.69v35h-2.69zM838.21 867.1h2.69v35h-2.69zM855.69 867.1h2.69v35h-2.69zM870.99 867.1h2.69v35h-2.69zM899.4 867.1h2.69v35h-2.69zM903.77 867.1h4.87v35h-4.87zM940.92 867.1h2.69v35h-2.69zM980.25 867.1h2.69v35h-2.69zM988.99 867.1h2.69v35h-2.69zM1008.65 867.1h2.69v35h-2.69zM1019.58 867.1h2.69v35h-2.69zM1028.32 867.1h2.69v35h-2.69zM1058.91 867.1h2.69v35h-2.69zM1111.36 867.1h2.69v35h-2.69zM1115.73 867.1h2.69v35h-2.69zM1126.65 867.1h2.69v35h-2.69zM1131.02 867.1h2.69v35h-2.69zM1139.76 867.1h2.69v35h-2.69zM781.4 901.6h50.76v35h-50.76zM798.88 936.1h2.69v35h-2.69zM827.29 936.1h2.69v35h-2.69zM836.03 936.1h4.87v35h-4.87zM855.69 936.1h2.69v35h-2.69zM914.69 936.1h2.69v35h-2.69zM929.99 936.1h2.69v35h-2.69zM984.62 936.1h2.69v35h-2.69zM1006.47 936.1h2.69v35h-2.69zM1043.62 936.1h2.69v35h-2.69zM1047.99 936.1h2.69v35h-2.69zM1076.39 936.1h2.69v35h-2.69zM1093.88 936.1h2.69v35h-2.69zM1124.47 936.1h2.69v35h-2.69zM1159.43 936.1h2.69v35h-2.69zM785.77 970.6h2.69v35h-2.69zM794.51 970.6h2.69v35h-2.69zM801.07 970.6h2.69v35h-2.69zM814.18 970.6h2.69v35h-2.69zM829.47 970.6h2.69v35h-2.69zM838.21 970.6h2.69v35h-2.69zM892.84 970.6h2.69v35h-2.69zM897.21 970.6h2.69v35h-2.69zM921.25 970.6h2.69v35h-2.69zM927.8 970.6h2.69v35h-2.69zM958.4 970.6h4.87v35h-4.87zM1030.51 970.6h2.69v35h-2.69zM1037.06 970.6h2.69v35h-2.69zM1041.43 970.6h2.69v35h-2.69zM1061.1 970.6h2.69v35h-2.69zM1067.65 970.6h2.69v35h-2.69zM1074.21 970.6h2.69v35h-2.69zM1124.47 970.6h2.69v35h-2.69zM794.51 1005.1h2.69v34.5h-2.69zM805.44 1005.1h2.69v34.5h-2.69zM816.36 1005.1h2.69v34.5h-2.69zM897.21 1005.1h4.87v34.5h-4.87zM940.92 1005.1h2.69v34.5h-2.69zM1010.84 1005.1h2.69v34.5h-2.69zM1030.51 1005.1h2.69v34.5h-2.69zM1037.06 1005.1h2.69v34.5h-2.69zM1041.43 1005.1h2.69v34.5h-2.69zM1069.84 1005.1h2.69v34.5h-2.69zM1087.32 1005.1h2.69v34.5h-2.69zM1109.17 1005.1h4.87v34.5h-4.87zM1117.91 1005.1h4.87v34.5h-4.87zM1128.84 1005.1h2.69v34.5h-2.69zM1150.69 1005.1h2.69v34.5h-2.69zM1161.61 1005.1h2.19v34.5h-2.19z"/><path fill="#8f8fff" d="M814.18 729.1h2.69v35h-2.69zM820.73 729.1h2.69v35h-2.69zM831.66 729.1h4.87v35h-4.87zM849.14 729.1h2.69v35h-2.69zM877.55 729.1h2.69v35h-2.69zM899.4 729.1h2.69v35h-2.69zM919.06 729.1h2.69v35h-2.69zM958.4 729.1h2.69v35h-2.69zM980.25 729.1h2.69v35h-2.69zM1015.21 729.1h2.69v35h-2.69zM1052.36 729.1h2.69v35h-2.69zM1056.73 729.1h2.69v35h-2.69zM1128.84 729.1h2.69v35h-2.69zM1133.21 729.1h4.87v35h-4.87zM781.4 763.6h2.69v35h-2.69zM803.25 763.6h2.69v35h-2.69zM846.95 763.6h2.69v35h-2.69zM901.58 763.6h2.69v35h-2.69zM919.06 763.6h2.69v35h-2.69zM949.66 763.6h2.69v35h-2.69zM997.73 763.6h2.69v35h-2.69zM1002.1 763.6h2.69v35h-2.69zM1146.32 763.6h2.69v35h-2.69zM1150.69 798.1h2.69v35h-2.69zM1161.61 798.1h2.19v35h-2.19zM842.58 832.6h2.69v35h-2.69zM884.1 832.6h2.69v35h-2.69zM969.32 832.6h2.69v35h-2.69zM980.25 832.6h2.69v35h-2.69zM1045.8 832.6h2.69v35h-2.69zM798.88 867.1h2.69v35h-2.69zM864.44 867.1h2.69v35h-2.69zM892.84 867.1h2.69v35h-2.69zM908.14 867.1h2.69v35h-2.69zM919.06 867.1h2.69v35h-2.69zM1004.28 867.1h4.87v35h-4.87zM1052.36 867.1h2.69v35h-2.69zM1080.76 867.1h2.69v35h-2.69zM831.66 901.6h2.69v35h-2.69zM844.77 901.6h2.69v35h-2.69zM862.25 901.6h4.87v35h-4.87zM877.55 901.6h2.69v35h-2.69zM908.14 901.6h2.69v35h-2.69zM947.47 901.6h2.69v35h-2.69zM986.8 901.6h2.69v35h-2.69zM991.17 901.6h2.69v35h-2.69zM1008.65 901.6h2.69v35h-2.69zM1030.51 901.6h4.87v35h-4.87zM1039.25 901.6h2.69v35h-2.69zM1043.62 901.6h2.69v35h-2.69zM1093.88 901.6h2.69v35h-2.69zM1098.25 901.6h2.69v35h-2.69zM1159.43 901.6h2.69v35h-2.69zM803.25 936.1h2.69v35h-2.69zM846.95 936.1h2.69v35h-2.69zM910.32 936.1h2.69v35h-2.69zM927.8 936.1h2.69v35h-2.69zM967.14 936.1h2.69v35h-2.69zM995.54 936.1h2.69v35h-2.69zM1004.28 936.1h2.69v35h-2.69zM1113.54 936.1h2.69v35h-2.69zM1146.32 936.1h2.69v35h-2.69zM945.29 970.6h2.69v35h-2.69zM967.14 970.6h2.69v35h-2.69zM986.8 970.6h2.69v35h-2.69zM1013.03 970.6h2.69v35h-2.69zM1023.95 970.6h2.69v35h-2.69zM1043.62 970.6h2.69v35h-2.69zM1076.39 970.6h2.69v35h-2.69zM1080.76 970.6h2.69v35h-2.69zM1091.69 970.6h2.69v35h-2.69zM1148.5 970.6h2.69v35h-2.69zM796.7 1005.1h2.69v34.5h-2.69zM803.25 1005.1h2.69v34.5h-2.69zM844.77 1005.1h2.69v34.5h-2.69zM860.07 1005.1h2.69v34.5h-2.69zM875.36 1005.1h2.69v34.5h-2.69zM905.95 1005.1h2.69v34.5h-2.69zM925.62 1005.1h2.69v34.5h-2.69zM1039.25 1005.1h2.69v34.5h-2.69zM1076.39 1005.1h4.87v34.5h-4.87zM1148.5 1005.1h2.69v34.5h-2.69z"/><path fill="#bfbfff" d="M818.55 729.1h2.69v35h-2.69zM879.73 729.1h2.69v35h-2.69zM895.03 729.1h2.69v35h-2.69zM901.58 729.1h2.69v35h-2.69zM905.95 729.1h2.69v35h-2.69zM925.62 729.1h2.69v35h-2.69zM960.58 729.1h2.69v35h-2.69zM964.95 729.1h2.69v35h-2.69zM975.88 729.1h2.69v35h-2.69zM984.62 729.1h4.87v35h-4.87zM1013.03 729.1h2.69v35h-2.69zM1030.51 729.1h2.69v35h-2.69zM1124.47 729.1h2.69v35h-2.69zM790.14 763.6h2.69v35h-2.69zM798.88 763.6h2.69v35h-2.69zM805.44 763.6h2.69v35h-2.69zM809.81 763.6h2.69v35h-2.69zM849.14 763.6h2.69v35h-2.69zM860.07 763.6h2.69v35h-2.69zM879.73 763.6h2.69v35h-2.69zM903.77 763.6h2.69v35h-2.69zM932.17 763.6h2.69v35h-2.69zM945.29 763.6h2.69v35h-2.69zM951.84 763.6h2.69v35h-2.69zM969.32 763.6h2.69v35h-2.69zM1006.47 763.6h7.06v35h-7.06zM1028.32 763.6h2.69v35h-2.69zM1047.99 763.6h4.87v35h-4.87zM1054.54 763.6h2.69v35h-2.69zM1063.28 763.6h2.69v35h-2.69zM1069.84 763.6h2.69v35h-2.69zM1074.21 763.6h2.69v35h-2.69zM1080.76 763.6h2.69v35h-2.69zM1106.99 763.6h4.87v35h-4.87zM1137.58 763.6h2.69v35h-2.69zM1148.5 763.6h4.87v35h-4.87zM807.62 798.1h2.69v35h-2.69zM923.43 798.1h2.69v35h-2.69zM1072.02 798.1h2.69v35h-2.69zM1106.99 798.1h2.69v35h-2.69zM849.14 832.6h4.87v35h-4.87zM890.66 832.6h4.87v35h-4.87zM945.29 832.6h2.69v35h-2.69zM964.95 832.6h2.69v35h-2.69zM982.43 832.6h2.69v35h-2.69zM988.99 832.6h2.69v35h-2.69zM1013.03 832.6h4.87v35h-4.87zM816.36 867.1h2.69v35h-2.69zM943.1 867.1h2.69v35h-2.69zM947.47 867.1h2.69v35h-2.69zM958.4 867.1h2.69v35h-2.69zM997.73 867.1h2.69v35h-2.69zM1010.84 867.1h2.69v35h-2.69zM1021.77 867.1h4.87v35h-4.87zM1039.25 867.1h2.69v35h-2.69zM1045.8 867.1h2.69v35h-2.69zM1078.58 867.1h2.69v35h-2.69zM1159.43 867.1h2.69v35h-2.69zM879.73 901.6h2.69v35h-2.69zM940.92 901.6h2.69v35h-2.69zM949.66 901.6h2.69v35h-2.69zM958.4 901.6h2.69v35h-2.69zM964.95 901.6h2.69v35h-2.69zM1006.47 901.6h2.69v35h-2.69zM1058.91 901.6h2.69v35h-2.69zM1115.73 901.6h2.69v35h-2.69zM1141.95 901.6h2.69v35h-2.69zM801.07 936.1h2.69v35h-2.69zM875.36 936.1h2.69v35h-2.69zM899.4 936.1h2.69v35h-2.69zM936.55 936.1h2.69v35h-2.69zM960.58 936.1h2.69v35h-2.69zM1019.58 936.1h2.69v35h-2.69zM1069.84 936.1h2.69v35h-2.69zM1133.21 936.1h2.69v35h-2.69zM805.44 970.6h2.69v35h-2.69zM816.36 970.6h2.69v35h-2.69zM827.29 970.6h2.69v35h-2.69zM833.84 970.6h2.69v35h-2.69zM849.14 970.6h2.69v35h-2.69zM916.88 970.6h2.69v35h-2.69zM993.36 970.6h2.69v35h-2.69zM1047.99 970.6h2.69v35h-2.69zM1104.8 970.6h2.69v35h-2.69zM1111.36 970.6h2.69v35h-2.69zM1120.1 970.6h2.69v35h-2.69zM1150.69 970.6h2.69v35h-2.69zM967.14 1005.1h2.69v34.5h-2.69zM1126.65 1005.1h2.69v34.5h-2.69z"/><path fill="#ff9f9f" d="M825.1 729.1h2.69v35h-2.69zM1045.8 763.6h2.69v35h-2.69zM1065.47 763.6h2.69v35h-2.69zM914.69 798.1h2.69v35h-2.69zM975.88 798.1h2.69v35h-2.69zM980.25 798.1h2.69v35h-2.69zM1032.69 798.1h2.69v35h-2.69zM1135.39 798.1h2.69v35h-2.69zM973.69 832.6h4.87v35h-4.87zM1117.91 832.6h2.69v35h-2.69zM1133.21 832.6h2.69v35h-2.69zM875.36 867.1h2.69v35h-2.69zM1074.21 867.1h2.69v35h-2.69zM1117.91 867.1h2.69v35h-2.69zM1150.69 867.1h2.69v35h-2.69zM1157.24 867.1h2.69v35h-2.69zM1161.61 867.1h2.19v35h-2.19zM1157.24 901.6h2.69v35h-2.69zM796.7 936.1h2.69v35h-2.69zM822.92 936.1h2.69v35h-2.69zM860.07 936.1h2.69v35h-2.69zM877.55 936.1h2.69v35h-2.69zM857.88 970.6h2.69v35h-2.69zM973.69 970.6h2.69v35h-2.69zM980.25 970.6h2.69v35h-2.69zM1141.95 970.6h2.69v35h-2.69zM910.32 1005.1h2.69v34.5h-2.69zM1113.54 1005.1h2.69v34.5h-2.69z"/><path fill="#ffdfdf" d="M836.03 729.1h2.69v35h-2.69zM888.47 729.1h2.69v35h-2.69zM908.14 729.1h2.69v35h-2.69zM978.06 729.1h2.69v35h-2.69zM1050.17 729.1h2.69v35h-2.69zM1104.8 729.1h2.69v35h-2.69zM1146.32 729.1h2.69v35h-2.69zM794.51 763.6h2.69v35h-2.69zM916.88 763.6h2.69v35h-2.69zM827.29 798.1h2.69v35h-2.69zM844.77 798.1h2.69v35h-2.69zM940.92 798.1h2.69v35h-2.69zM1047.99 798.1h2.69v35h-2.69zM831.66 832.6h2.69v35h-2.69zM866.62 832.6h2.69v35h-2.69zM1043.62 832.6h2.69v35h-2.69zM1100.43 832.6h2.69v35h-2.69zM783.59 867.1h4.87v35h-4.87zM860.07 867.1h2.69v35h-2.69zM873.18 867.1h2.69v35h-2.69zM901.58 867.1h2.69v35h-2.69zM995.54 867.1h2.69v35h-2.69zM1002.1 867.1h2.69v35h-2.69zM1122.28 867.1h2.69v35h-2.69zM833.84 901.6h2.69v35h-2.69zM851.32 901.6h2.69v35h-2.69zM884.1 901.6h2.69v35h-2.69zM982.43 901.6h2.69v35h-2.69zM1065.47 901.6h2.69v35h-2.69zM905.95 936.1h2.69v35h-2.69zM945.29 936.1h2.69v35h-2.69zM866.62 970.6h2.69v35h-2.69zM923.43 1005.1h2.69v34.5h-2.69z"/><path fill="#ff8080" d="M838.21 729.1h2.69v35h-2.69zM908.14 763.6h2.69v35h-2.69zM1139.76 763.6h2.69v35h-2.69zM842.58 798.1h2.69v35h-2.69zM921.25 798.1h2.69v35h-2.69zM969.32 798.1h2.69v35h-2.69zM988.99 798.1h2.69v35h-2.69zM1054.54 798.1h2.69v35h-2.69zM781.4 832.6h4.87v35h-4.87zM873.18 832.6h2.69v35h-2.69zM1034.88 832.6h2.69v35h-2.69zM879.73 867.1h2.69v35h-2.69zM1050.17 867.1h2.69v35h-2.69zM1067.65 867.1h2.69v35h-2.69zM1085.13 867.1h2.69v35h-2.69zM1093.88 867.1h2.69v35h-2.69zM794.51 936.1h2.69v35h-2.69zM919.06 936.1h2.69v35h-2.69zM999.91 936.1h2.69v35h-2.69zM1135.39 936.1h2.69v35h-2.69zM796.7 970.6h2.69v35h-2.69zM956.21 970.6h2.69v35h-2.69zM1056.73 970.6h2.69v35h-2.69zM1102.62 970.6h2.69v35h-2.69zM1113.54 970.6h2.69v35h-2.69zM790.14 1005.1h2.69v34.5h-2.69zM1008.65 1005.1h2.69v34.5h-2.69zM1096.06 1005.1h2.69v34.5h-2.69zM1100.43 1005.1h2.69v34.5h-2.69z"/><path fill="#efefff" d="M862.25 729.1h2.69v35h-2.69zM866.62 729.1h2.69v35h-2.69zM892.84 729.1h2.69v35h-2.69zM973.69 729.1h2.69v35h-2.69zM1021.77 729.1h2.69v35h-2.69zM1089.51 729.1h2.69v35h-2.69zM1148.5 729.1h2.69v35h-2.69zM833.84 763.6h2.69v35h-2.69zM890.66 763.6h2.69v35h-2.69zM910.32 763.6h2.69v35h-2.69zM1021.77 763.6h2.69v35h-2.69zM1039.25 763.6h2.69v35h-2.69zM1052.36 763.6h2.69v35h-2.69zM1089.51 763.6h2.69v35h-2.69zM1096.06 763.6h2.69v35h-2.69zM1113.54 763.6h2.69v35h-2.69zM805.44 798.1h2.69v35h-2.69zM849.14 798.1h2.69v35h-2.69zM960.58 798.1h2.69v35h-2.69zM967.14 798.1h2.69v35h-2.69zM1111.36 798.1h2.69v35h-2.69zM1141.95 798.1h2.69v35h-2.69zM1159.43 798.1h2.69v35h-2.69zM811.99 832.6h2.69v35h-2.69zM921.25 832.6h2.69v35h-2.69zM1069.84 832.6h2.69v35h-2.69zM1080.76 832.6h2.69v35h-2.69zM1157.24 832.6h2.69v35h-2.69zM787.96 867.1h2.69v35h-2.69zM1133.21 867.1h2.69v35h-2.69zM870.99 901.6h2.69v35h-2.69zM925.62 901.6h2.69v35h-2.69zM973.69 901.6h2.69v35h-2.69zM984.62 901.6h2.69v35h-2.69zM988.99 901.6h2.69v35h-2.69zM997.73 901.6h2.69v35h-2.69zM1056.73 901.6h2.69v35h-2.69zM1106.99 901.6h2.69v35h-2.69zM1111.36 901.6h2.69v35h-2.69zM1120.1 901.6h2.69v35h-2.69zM857.88 936.1h2.69v35h-2.69zM881.92 936.1h2.69v35h-2.69zM940.92 936.1h2.69v35h-2.69zM993.36 936.1h2.69v35h-2.69zM1056.73 936.1h2.69v35h-2.69zM1074.21 936.1h2.69v35h-2.69zM1085.13 936.1h2.69v35h-2.69zM1131.02 936.1h2.69v35h-2.69zM820.73 970.6h2.69v35h-2.69zM888.47 970.6h2.69v35h-2.69zM923.43 970.6h2.69v35h-2.69zM1010.84 970.6h2.69v35h-2.69zM1078.58 970.6h2.69v35h-2.69zM801.07 1005.1h2.69v34.5h-2.69zM862.25 1005.1h2.69v34.5h-2.69zM886.29 1005.1h2.69v34.5h-2.69zM956.21 1005.1h2.69v34.5h-2.69zM960.58 1005.1h2.69v34.5h-2.69zM997.73 1005.1h2.69v34.5h-2.69zM1056.73 1005.1h2.69v34.5h-2.69zM1085.13 1005.1h2.69v34.5h-2.69zM1122.28 1005.1h2.69v34.5h-2.69z"/><path fill="#ffcfcf" d="M868.81 729.1h2.69v35h-2.69zM925.62 763.6h2.69v35h-2.69zM1017.4 763.6h2.69v35h-2.69zM785.77 798.1h2.69v35h-2.69zM816.36 798.1h2.69v35h-2.69zM846.95 798.1h2.69v35h-2.69zM864.44 798.1h2.69v35h-2.69zM973.69 798.1h2.69v35h-2.69zM1078.58 798.1h2.69v35h-2.69zM1098.25 832.6h2.69v35h-2.69zM1131.02 832.6h2.69v35h-2.69zM1135.39 832.6h2.69v35h-2.69zM895.03 867.1h2.69v35h-2.69zM916.88 867.1h2.69v35h-2.69zM973.69 867.1h2.69v35h-2.69zM1015.21 901.6h2.69v35h-2.69zM1052.36 901.6h2.69v35h-2.69zM1100.43 901.6h2.69v35h-2.69zM916.88 936.1h2.69v35h-2.69zM1015.21 936.1h2.69v35h-2.69zM1023.95 936.1h2.69v35h-2.69zM1039.25 936.1h2.69v35h-2.69zM1067.65 936.1h2.69v35h-2.69zM1039.25 970.6h2.69v35h-2.69zM1058.91 970.6h2.69v35h-2.69zM1155.06 970.6h2.69v35h-2.69zM877.55 1005.1h2.69v34.5h-2.69zM888.47 1005.1h4.87v34.5h-4.87z"/><path fill="#fff" d="M873.18 729.1h2.69v35h-2.69zM993.36 729.1h2.69v35h-2.69zM1069.84 729.1h2.69v35h-2.69zM822.92 763.6h2.69v35h-2.69zM877.55 763.6h2.69v35h-2.69zM886.29 763.6h2.69v35h-2.69zM929.99 763.6h2.69v35h-2.69zM840.4 798.1h2.69v35h-2.69zM943.1 798.1h2.69v35h-2.69zM1039.25 798.1h2.69v35h-2.69zM1082.95 798.1h2.69v35h-2.69zM940.92 832.6h2.69v35h-2.69zM790.14 867.1h2.69v35h-2.69zM866.62 867.1h2.69v35h-2.69zM945.29 867.1h2.69v35h-2.69zM960.58 867.1h2.69v35h-2.69zM1087.32 867.1h2.69v35h-2.69zM836.03 901.6h2.69v35h-2.69zM842.58 901.6h2.69v35h-2.69zM919.06 901.6h2.69v35h-2.69zM927.8 901.6h2.69v35h-2.69zM960.58 901.6h2.69v35h-2.69zM975.88 901.6h2.69v35h-2.69zM1045.8 901.6h2.69v35h-2.69zM1087.32 901.6h2.69v35h-2.69zM1122.28 901.6h2.69v35h-2.69zM1133.21 901.6h2.69v35h-2.69zM783.59 936.1h2.69v35h-2.69zM862.25 936.1h2.69v35h-2.69zM954.03 936.1h2.69v35h-2.69zM1098.25 936.1h2.69v35h-2.69zM1128.84 936.1h2.69v35h-2.69zM1032.69 970.6h2.69v35h-2.69zM1135.39 970.6h2.69v35h-2.69zM943.1 1005.1h2.69v34.5h-2.69zM1058.91 1005.1h2.69v34.5h-2.69zM1104.8 1005.1h2.69v34.5h-2.69z"/><path fill="#7070ff" d="M884.1 729.1h2.69v35h-2.69zM1008.65 729.1h2.69v35h-2.69zM1120.1 729.1h2.69v35h-2.69zM947.47 763.6h2.69v35h-2.69zM975.88 763.6h2.69v35h-2.69zM781.4 798.1h4.87v35h-4.87zM820.73 798.1h2.69v35h-2.69zM825.1 798.1h2.69v35h-2.69zM875.36 798.1h2.69v35h-2.69zM927.8 798.1h2.69v35h-2.69zM964.95 798.1h2.69v35h-2.69zM1010.84 798.1h2.69v35h-2.69zM1028.32 798.1h2.69v35h-2.69zM997.73 832.6h2.69v35h-2.69zM1017.4 832.6h2.69v35h-2.69zM1047.99 832.6h2.69v35h-2.69zM794.51 867.1h2.69v35h-2.69zM849.14 867.1h2.69v35h-2.69zM923.43 867.1h2.69v35h-2.69zM967.14 867.1h2.69v35h-2.69zM984.62 867.1h2.69v35h-2.69zM1015.21 867.1h2.69v35h-2.69zM1037.06 867.1h2.69v35h-2.69zM1098.25 867.1h2.69v35h-2.69zM853.51 901.6h2.69v35h-2.69zM857.88 901.6h2.69v35h-2.69zM905.95 901.6h2.69v35h-2.69zM921.25 901.6h2.69v35h-2.69zM936.55 901.6h2.69v35h-2.69zM1026.14 901.6h2.69v35h-2.69zM1078.58 901.6h2.69v35h-2.69zM1137.58 901.6h2.69v35h-2.69zM1155.06 901.6h2.69v35h-2.69zM868.81 936.1h4.87v35h-4.87zM886.29 936.1h2.69v35h-2.69zM1041.43 936.1h2.69v35h-2.69zM1054.54 936.1h2.69v35h-2.69zM1109.17 936.1h2.69v35h-2.69zM1139.76 936.1h2.69v35h-2.69zM879.73 970.6h2.69v35h-2.69zM954.03 970.6h2.69v35h-2.69zM964.95 970.6h2.69v35h-2.69zM982.43 970.6h2.69v35h-2.69zM855.69 1005.1h2.69v34.5h-2.69zM866.62 1005.1h2.69v34.5h-2.69zM912.51 1005.1h2.69v34.5h-2.69zM975.88 1005.1h2.69v34.5h-2.69zM1067.65 1005.1h2.69v34.5h-2.69zM1080.76 1005.1h2.69v34.5h-2.69zM1141.95 1005.1h2.69v34.5h-2.69zM1152.87 1005.1h2.69v34.5h-2.69z"/><path fill="#ff1010" d="M890.66 729.1h2.69v35h-2.69zM923.43 729.1h2.69v35h-2.69zM857.88 798.1h2.69v35h-2.69zM899.4 798.1h2.69v35h-2.69zM919.06 798.1h2.69v35h-2.69zM971.51 798.1h2.69v35h-2.69zM995.54 798.1h2.69v35h-2.69zM1126.65 832.6h2.69v35h-2.69zM1047.99 867.1h2.69v35h-2.69zM1096.06 867.1h2.69v35h-2.69zM1141.95 867.1h2.69v35h-2.69zM807.62 936.1h2.69v35h-2.69zM820.73 936.1h2.69v35h-2.69zM890.66 936.1h2.69v35h-2.69zM1026.14 936.1h2.69v35h-2.69zM792.33 970.6h2.69v35h-2.69zM844.77 970.6h2.69v35h-2.69zM978.06 970.6h2.69v35h-2.69zM1065.47 970.6h2.69v35h-2.69zM785.77 1005.1h2.69v34.5h-2.69zM978.06 1005.1h2.69v34.5h-2.69zM991.17 1005.1h2.69v34.5h-2.69z"/><path fill="#ff2020" d="M916.88 729.1h2.69v35h-2.69zM1091.69 729.1h2.69v35h-2.69zM811.99 763.6h2.69v35h-2.69zM912.51 798.1h2.69v35h-2.69zM991.17 798.1h2.69v35h-2.69zM997.73 798.1h4.87v35h-4.87zM938.73 832.6h2.69v35h-2.69zM1124.47 867.1h2.69v35h-2.69zM809.81 936.1h2.69v35h-2.69zM914.69 970.6h2.69v35h-2.69zM781.4 1005.1h2.69v34.5h-2.69zM792.33 1005.1h2.69v34.5h-2.69zM809.81 1005.1h2.69v34.5h-2.69zM818.55 1005.1h2.69v34.5h-2.69zM1047.99 1005.1h2.69v34.5h-2.69zM1098.25 1005.1h2.69v34.5h-2.69zM1102.62 1005.1h2.69v34.5h-2.69z"/><path fill="#ffbfbf" d="M962.77 729.1h2.69v35h-2.69zM1157.24 729.1h2.69v35h-2.69zM818.55 798.1h2.69v35h-2.69zM862.25 798.1h2.69v35h-2.69zM868.81 798.1h2.69v35h-2.69zM892.84 798.1h2.69v35h-2.69zM897.21 798.1h2.69v35h-2.69zM1093.88 798.1h2.69v35h-2.69zM814.18 832.6h2.69v35h-2.69zM1002.1 832.6h2.69v35h-2.69zM1139.76 832.6h2.69v35h-2.69zM993.36 901.6h4.87v35h-4.87zM1091.69 901.6h2.69v35h-2.69zM1131.02 901.6h2.69v35h-2.69zM1010.84 936.1h2.69v35h-2.69zM1037.06 936.1h2.69v35h-2.69zM840.4 970.6h2.69v35h-2.69zM910.32 970.6h2.69v35h-2.69zM1028.32 970.6h2.69v35h-2.69zM1063.28 970.6h2.69v35h-2.69zM853.51 1005.1h2.69v34.5h-2.69zM1004.28 1005.1h2.69v34.5h-2.69zM1137.58 1005.1h2.69v34.5h-2.69zM1144.13 1005.1h2.69v34.5h-2.69z"/><path fill="#8080ff" d="M967.14 729.1h2.69v35h-2.69zM999.91 729.1h2.69v35h-2.69zM1017.4 729.1h2.69v35h-2.69zM1034.88 729.1h2.69v35h-2.69zM1085.13 729.1h2.69v35h-2.69zM1106.99 729.1h2.69v35h-2.69zM1155.06 729.1h2.69v35h-2.69zM814.18 763.6h2.69v35h-2.69zM820.73 763.6h2.69v35h-2.69zM921.25 763.6h2.69v35h-2.69zM993.36 763.6h2.69v35h-2.69zM866.62 798.1h2.69v35h-2.69zM890.66 798.1h2.69v35h-2.69zM1124.47 798.1h2.69v35h-2.69zM794.51 832.6h4.87v35h-4.87zM862.25 832.6h2.69v35h-2.69zM899.4 832.6h2.69v35h-2.69zM947.47 832.6h2.69v35h-2.69zM951.84 832.6h2.69v35h-2.69zM962.77 832.6h2.69v35h-2.69zM993.36 832.6h2.69v35h-2.69zM888.47 867.1h2.69v35h-2.69zM986.8 867.1h2.69v35h-2.69zM1144.13 867.1h2.69v35h-2.69zM855.69 901.6h2.69v35h-2.69zM881.92 901.6h2.69v35h-2.69zM886.29 901.6h2.69v35h-2.69zM897.21 901.6h2.69v35h-2.69zM903.77 901.6h2.69v35h-2.69zM929.99 901.6h2.69v35h-2.69zM1002.1 901.6h2.69v35h-2.69zM1017.4 901.6h2.69v35h-2.69zM1074.21 901.6h2.69v35h-2.69zM1102.62 901.6h2.69v35h-2.69zM1113.54 901.6h2.69v35h-2.69zM866.62 936.1h2.69v35h-2.69zM908.14 936.1h2.69v35h-2.69zM964.95 936.1h2.69v35h-2.69zM1050.17 936.1h2.69v35h-2.69zM1078.58 936.1h2.69v35h-2.69zM1155.06 936.1h2.69v35h-2.69zM781.4 970.6h2.69v35h-2.69zM787.96 970.6h2.69v35h-2.69zM875.36 970.6h2.69v35h-2.69zM884.1 970.6h4.87v35h-4.87zM890.66 970.6h2.69v35h-2.69zM895.03 970.6h2.69v35h-2.69zM929.99 970.6h2.69v35h-2.69zM971.51 970.6h2.69v35h-2.69zM1006.47 970.6h2.69v35h-2.69zM1015.21 970.6h2.69v35h-2.69zM868.81 1005.1h4.87v34.5h-4.87zM884.1 1005.1h2.69v34.5h-2.69zM895.03 1005.1h2.69v34.5h-2.69zM932.17 1005.1h2.69v34.5h-2.69zM945.29 1005.1h2.69v34.5h-2.69zM954.03 1005.1h2.69v34.5h-2.69zM980.25 1005.1h2.69v34.5h-2.69z"/><path fill="#5050ff" d="M988.99 729.1h2.69v35h-2.69zM818.55 763.6h2.69v35h-2.69zM833.84 798.1h2.69v35h-2.69zM851.32 798.1h2.69v35h-2.69zM873.18 798.1h2.69v35h-2.69zM1043.62 798.1h2.69v35h-2.69zM1069.84 798.1h2.69v35h-2.69zM822.92 832.6h2.69v35h-2.69zM853.51 832.6h2.69v35h-2.69zM870.99 832.6h2.69v35h-2.69zM897.21 832.6h2.69v35h-2.69zM919.06 832.6h2.69v35h-2.69zM999.91 832.6h2.69v35h-2.69zM1008.65 832.6h2.69v35h-2.69zM1052.36 832.6h2.69v35h-2.69zM1078.58 832.6h2.69v35h-2.69zM1104.8 832.6h2.69v35h-2.69zM1152.87 832.6h2.69v35h-2.69zM929.99 867.1h2.69v35h-2.69zM964.95 867.1h2.69v35h-2.69zM1072.02 867.1h2.69v35h-2.69zM1089.51 867.1h2.69v35h-2.69zM868.81 901.6h2.69v35h-2.69zM892.84 901.6h2.69v35h-2.69zM945.29 901.6h2.69v35h-2.69zM962.77 901.6h2.69v35h-2.69zM969.32 901.6h2.69v35h-2.69zM1004.28 901.6h2.69v35h-2.69zM1041.43 901.6h2.69v35h-2.69zM1085.13 901.6h2.69v35h-2.69zM932.17 936.1h2.69v35h-2.69zM943.1 936.1h2.69v35h-2.69zM969.32 936.1h2.69v35h-2.69zM978.06 936.1h2.69v35h-2.69zM1096.06 936.1h2.69v35h-2.69zM1148.5 936.1h2.69v35h-2.69zM991.17 970.6h2.69v35h-2.69zM1021.77 970.6h2.69v35h-2.69zM831.66 1005.1h2.69v34.5h-2.69zM836.03 1005.1h2.69v34.5h-2.69zM873.18 1005.1h2.69v34.5h-2.69zM1015.21 1005.1h2.69v34.5h-2.69zM1089.51 1005.1h2.69v34.5h-2.69z"/><path fill="#ff8f8f" d="M1010.84 729.1h2.69v35h-2.69zM1041.43 729.1h2.69v35h-2.69zM940.92 763.6h2.69v35h-2.69zM986.8 798.1h2.69v35h-2.69zM1019.58 798.1h2.69v35h-2.69zM829.47 832.6h2.69v35h-2.69zM995.54 832.6h2.69v35h-2.69zM1124.47 832.6h2.69v35h-2.69zM803.25 867.1h4.87v35h-4.87zM910.32 867.1h2.69v35h-2.69zM1017.4 867.1h2.69v35h-2.69zM1104.8 867.1h2.69v35h-2.69zM1148.5 867.1h2.69v35h-2.69zM1052.36 936.1h2.69v35h-2.69zM1104.8 936.1h2.69v35h-2.69zM783.59 970.6h2.69v35h-2.69zM811.99 970.6h2.69v35h-2.69zM905.95 970.6h2.69v35h-2.69zM975.88 970.6h2.69v35h-2.69zM1052.36 970.6h2.69v35h-2.69zM1089.51 970.6h2.69v35h-2.69zM1128.84 970.6h2.69v35h-2.69zM964.95 1005.1h2.69v34.5h-2.69zM1021.77 1005.1h2.69v34.5h-2.69zM1034.88 1005.1h2.69v34.5h-2.69zM1159.43 1005.1h2.69v34.5h-2.69z"/><path fill="#ff7070" d="M1159.43 729.1h2.69v35h-2.69zM973.69 763.6h2.69v35h-2.69zM1043.62 763.6h2.69v35h-2.69zM1061.1 763.6h2.69v35h-2.69zM903.77 798.1h2.69v35h-2.69zM1087.32 832.6h2.69v35h-2.69zM1030.51 867.1h2.69v35h-2.69zM1155.06 867.1h2.69v35h-2.69zM805.44 936.1h2.69v35h-2.69zM825.1 936.1h2.69v35h-2.69zM842.58 936.1h2.69v35h-2.69zM864.44 936.1h2.69v35h-2.69zM1106.99 936.1h2.69v35h-2.69zM1122.28 936.1h2.69v35h-2.69zM818.55 970.6h2.69v35h-2.69zM870.99 970.6h2.69v35h-2.69zM962.77 970.6h2.69v35h-2.69zM1045.8 970.6h2.69v35h-2.69zM1122.28 970.6h2.69v35h-2.69zM1137.58 970.6h2.69v35h-2.69zM838.21 1005.1h2.69v34.5h-2.69zM971.51 1005.1h2.69v34.5h-2.69zM1065.47 1005.1h2.69v34.5h-2.69z"/><path fill="#2020ff" d="M794.51 798.1h2.69v35h-2.69zM916.88 798.1h2.69v35h-2.69zM951.84 798.1h2.69v35h-2.69zM1026.14 798.1h2.69v35h-2.69zM790.14 832.6h2.69v35h-2.69zM807.62 832.6h4.87v35h-4.87zM818.55 832.6h2.69v35h-2.69zM825.1 832.6h2.69v35h-2.69zM886.29 832.6h2.69v35h-2.69zM936.55 832.6h2.69v35h-2.69zM949.66 832.6h2.69v35h-2.69zM1028.32 832.6h2.69v35h-2.69zM1076.39 832.6h2.69v35h-2.69zM1026.14 867.1h2.69v35h-2.69zM1069.84 867.1h2.69v35h-2.69zM932.17 901.6h2.69v35h-2.69zM1139.76 901.6h2.69v35h-2.69zM1115.73 936.1h2.69v35h-2.69zM1141.95 936.1h2.69v35h-2.69zM934.36 970.6h2.69v35h-2.69zM916.88 1005.1h2.69v34.5h-2.69zM1023.95 1005.1h2.69v34.5h-2.69z"/><path fill="#6060ff" d="M798.88 798.1h2.69v35h-2.69zM855.69 798.1h2.69v35h-2.69zM895.03 798.1h2.69v35h-2.69zM925.62 798.1h2.69v35h-2.69zM949.66 798.1h2.69v35h-2.69zM1100.43 798.1h2.69v35h-2.69zM1137.58 798.1h2.69v35h-2.69zM785.77 832.6h2.69v35h-2.69zM816.36 832.6h2.69v35h-2.69zM820.73 832.6h2.69v35h-2.69zM875.36 832.6h2.69v35h-2.69zM1063.28 832.6h2.69v35h-2.69zM1093.88 832.6h2.69v35h-2.69zM1115.73 832.6h2.69v35h-2.69zM840.4 867.1h2.69v35h-2.69zM886.29 867.1h2.69v35h-2.69zM912.51 867.1h4.87v35h-4.87zM934.36 867.1h2.69v35h-2.69zM938.73 867.1h2.69v35h-2.69zM962.77 867.1h2.69v35h-2.69zM971.51 867.1h2.69v35h-2.69zM993.36 867.1h2.69v35h-2.69zM1076.39 867.1h2.69v35h-2.69zM1152.87 867.1h2.69v35h-2.69zM914.69 901.6h2.69v35h-2.69zM971.51 901.6h2.69v35h-2.69zM978.06 901.6h4.87v35h-4.87zM1117.91 901.6h2.69v35h-2.69zM1128.84 901.6h2.69v35h-2.69zM897.21 936.1h2.69v35h-2.69zM962.77 936.1h2.69v35h-2.69zM1032.69 936.1h2.69v35h-2.69zM1061.1 936.1h2.69v35h-2.69zM1082.95 936.1h2.69v35h-2.69zM1126.65 936.1h2.69v35h-2.69zM1137.58 936.1h2.69v35h-2.69zM1152.87 936.1h2.69v35h-2.69zM868.81 970.6h2.69v35h-2.69zM925.62 970.6h2.69v35h-2.69zM1050.17 970.6h2.69v35h-2.69zM1100.43 970.6h2.69v35h-2.69zM1106.99 970.6h2.69v35h-2.69zM1152.87 970.6h2.69v35h-2.69zM1159.43 970.6h2.69v35h-2.69zM833.84 1005.1h2.69v34.5h-2.69zM879.73 1005.1h2.69v34.5h-2.69zM969.32 1005.1h2.69v34.5h-2.69zM1155.06 1005.1h2.69v34.5h-2.69z"/><path fill="#1010ff" d="M811.99 798.1h2.69v35h-2.69zM1015.21 798.1h2.69v35h-2.69zM958.4 832.6h2.69v35h-2.69zM954.03 867.1h2.69v35h-2.69zM1082.95 867.1h2.69v35h-2.69zM1037.06 901.6h2.69v35h-2.69zM892.84 936.1h2.69v35h-2.69zM873.18 970.6h2.69v35h-2.69zM901.58 970.6h2.69v35h-2.69zM969.32 970.6h2.69v35h-2.69zM1082.95 970.6h4.87v35h-4.87z"/><path fill="#4040ff" d="M838.21 798.1h2.69v35h-2.69zM1096.06 798.1h2.69v35h-2.69zM844.77 832.6h2.69v35h-2.69zM905.95 832.6h2.69v35h-2.69zM932.17 832.6h2.69v35h-2.69zM978.06 832.6h2.69v35h-2.69zM1032.69 832.6h2.69v35h-2.69zM1061.1 832.6h2.69v35h-2.69zM807.62 867.1h2.69v35h-2.69zM827.29 867.1h2.69v35h-2.69zM844.77 867.1h2.69v35h-2.69zM877.55 867.1h2.69v35h-2.69zM925.62 867.1h2.69v35h-2.69zM1061.1 867.1h2.69v35h-2.69zM1128.84 867.1h2.69v35h-2.69zM840.4 901.6h2.69v35h-2.69zM1080.76 901.6h4.87v35h-4.87zM840.4 936.1h2.69v35h-2.69zM853.51 936.1h2.69v35h-2.69zM912.51 936.1h2.69v35h-2.69zM938.73 936.1h2.69v35h-2.69zM1065.47 936.1h2.69v35h-2.69zM1080.76 936.1h2.69v35h-2.69zM807.62 970.6h2.69v35h-2.69zM822.92 970.6h2.69v35h-2.69zM1093.88 970.6h2.69v35h-2.69zM1115.73 970.6h2.69v35h-2.69zM1045.8 1005.1h2.69v34.5h-2.69zM1054.54 1005.1h2.69v34.5h-2.69z"/><path fill="#3030ff" d="M853.51 798.1h2.69v35h-2.69zM934.36 798.1h2.69v35h-2.69zM1037.06 798.1h2.69v35h-2.69zM1104.8 798.1h2.69v35h-2.69zM1148.5 798.1h2.69v35h-2.69zM803.25 832.6h2.69v35h-2.69zM868.81 832.6h2.69v35h-2.69zM1072.02 832.6h2.69v35h-2.69zM1122.28 832.6h2.69v35h-2.69zM822.92 867.1h2.69v35h-2.69zM890.66 867.1h2.69v35h-2.69zM1102.62 867.1h2.69v35h-2.69zM1028.32 936.1h2.69v35h-2.69zM1045.8 936.1h2.69v35h-2.69zM908.14 970.6h2.69v35h-2.69zM940.92 970.6h4.87v35h-4.87zM984.62 970.6h2.69v35h-2.69zM997.73 970.6h2.69v35h-2.69zM857.88 1005.1h2.69v34.5h-2.69zM936.55 1005.1h2.69v34.5h-2.69zM984.62 1005.1h2.69v34.5h-2.69z"/><path fill="#ff3030" d="M870.99 798.1h2.69v35h-2.69zM1006.47 798.1h2.69v35h-2.69zM1013.03 798.1h2.69v35h-2.69zM1089.51 832.6h2.69v35h-2.69zM1111.36 832.6h2.69v35h-2.69zM814.18 867.1h2.69v35h-2.69zM884.1 867.1h2.69v35h-2.69zM949.66 867.1h2.69v35h-2.69zM969.32 867.1h2.69v35h-2.69zM811.99 936.1h2.69v35h-2.69zM818.55 936.1h2.69v35h-2.69zM831.66 936.1h2.69v35h-2.69zM956.21 936.1h2.69v35h-2.69zM1021.77 936.1h2.69v35h-2.69zM1091.69 936.1h2.69v35h-2.69zM1098.25 970.6h2.69v35h-2.69zM1131.02 970.6h2.69v35h-2.69zM783.59 1005.1h2.69v34.5h-2.69zM814.18 1005.1h2.69v34.5h-2.69zM1061.1 1005.1h2.69v34.5h-2.69zM1146.32 1005.1h2.69v34.5h-2.69z"/><path fill="#ff5050" d="M884.1 798.1h2.69v35h-2.69zM954.03 798.1h2.69v35h-2.69zM993.36 798.1h2.69v35h-2.69zM1065.47 798.1h2.69v35h-2.69zM1089.51 798.1h2.69v35h-2.69zM792.33 832.6h2.69v35h-2.69zM956.21 832.6h2.69v35h-2.69zM984.62 832.6h2.69v35h-2.69zM1030.51 832.6h2.69v35h-2.69zM1041.43 867.1h2.69v35h-2.69zM1065.47 867.1h2.69v35h-2.69zM1135.39 867.1h2.69v35h-2.69zM787.96 936.1h2.69v35h-2.69zM829.47 936.1h2.69v35h-2.69zM949.66 936.1h2.69v35h-2.69zM1150.69 936.1h2.69v35h-2.69zM831.66 970.6h2.69v35h-2.69zM853.51 970.6h2.69v35h-2.69zM877.55 970.6h2.69v35h-2.69zM995.54 970.6h2.69v35h-2.69zM842.58 1005.1h2.69v34.5h-2.69zM864.44 1005.1h2.69v34.5h-2.69zM958.4 1005.1h2.69v34.5h-2.69zM1074.21 1005.1h2.69v34.5h-2.69z"/><path fill="#00f" d="M929.99 798.1h4.87v35h-4.87zM958.4 798.1h2.69v35h-2.69zM1076.39 798.1h2.69v35h-2.69zM1126.65 798.1h2.69v35h-2.69zM1139.76 798.1h2.69v35h-2.69zM1155.06 798.1h2.69v35h-2.69zM787.96 832.6h2.69v35h-2.69zM798.88 832.6h4.87v35h-4.87zM805.44 832.6h2.69v35h-2.69zM881.92 832.6h2.69v35h-2.69zM895.03 832.6h2.69v35h-2.69zM960.58 832.6h2.69v35h-2.69zM1026.14 832.6h2.69v35h-2.69zM1137.58 832.6h2.69v35h-2.69zM1144.13 832.6h4.87v35h-4.87zM818.55 867.1h2.69v35h-2.69zM825.1 867.1h2.69v35h-2.69zM836.03 867.1h2.69v35h-2.69zM862.25 867.1h2.69v35h-2.69zM868.81 867.1h2.69v35h-2.69zM1032.69 867.1h2.69v35h-2.69zM1063.28 867.1h2.69v35h-2.69zM1100.43 867.1h2.69v35h-2.69zM814.18 936.1h4.87v35h-4.87zM884.1 936.1h2.69v35h-2.69zM921.25 936.1h4.87v35h-4.87zM947.47 936.1h2.69v35h-2.69zM973.69 936.1h2.69v35h-2.69zM980.25 936.1h2.69v35h-2.69zM988.99 936.1h2.69v35h-2.69zM997.73 936.1h2.69v35h-2.69zM1013.03 936.1h2.69v35h-2.69zM1063.28 936.1h2.69v35h-2.69zM1161.61 936.1h2.19v35h-2.19zM842.58 970.6h2.69v35h-2.69zM864.44 970.6h2.69v35h-2.69zM912.51 970.6h2.69v35h-2.69zM938.73 970.6h2.69v35h-2.69zM999.91 970.6h2.69v35h-2.69zM1008.65 970.6h2.69v35h-2.69zM1019.58 970.6h2.69v35h-2.69zM1054.54 970.6h2.69v35h-2.69zM1072.02 970.6h2.69v35h-2.69zM1117.91 970.6h2.69v35h-2.69zM1126.65 970.6h2.69v35h-2.69zM1161.61 970.6h2.19v35h-2.19zM822.92 1005.1h2.69v34.5h-2.69zM892.84 1005.1h2.69v34.5h-2.69zM949.66 1005.1h2.69v34.5h-2.69zM1013.03 1005.1h2.69v34.5h-2.69z"/><path fill="#ff6060" d="M938.73 798.1h2.69v35h-2.69zM1128.84 798.1h2.69v35h-2.69zM943.1 832.6h2.69v35h-2.69zM1161.61 832.6h2.19v35h-2.19zM811.99 867.1h2.69v35h-2.69zM1137.58 867.1h2.69v35h-2.69zM790.14 936.1h2.69v35h-2.69zM951.84 936.1h2.69v35h-2.69zM825.1 970.6h2.69v35h-2.69zM903.77 970.6h2.69v35h-2.69zM1034.88 970.6h2.69v35h-2.69zM881.92 1005.1h2.69v34.5h-2.69zM901.58 1005.1h2.69v34.5h-2.69zM951.84 1005.1h2.69v34.5h-2.69zM1139.76 1005.1h2.69v34.5h-2.69z"/><path fill="#ff4040" d="M1131.02 798.1h2.69v35h-2.69zM827.29 832.6h2.69v35h-2.69zM857.88 832.6h2.69v35h-2.69zM929.99 832.6h2.69v35h-2.69zM986.8 832.6h2.69v35h-2.69zM1102.62 832.6h2.69v35h-2.69zM801.07 867.1h2.69v35h-2.69zM851.32 867.1h2.69v35h-2.69zM857.88 867.1h2.69v35h-2.69zM932.17 867.1h2.69v35h-2.69zM781.4 936.1h2.69v35h-2.69zM844.77 936.1h2.69v35h-2.69zM1008.65 936.1h2.69v35h-2.69zM790.14 970.6h2.69v35h-2.69zM881.92 970.6h2.69v35h-2.69zM1069.84 970.6h2.69v35h-2.69zM787.96 1005.1h2.69v34.5h-2.69zM825.1 1005.1h4.87v34.5h-4.87zM849.14 1005.1h2.69v34.5h-2.69zM908.14 1005.1h2.69v34.5h-2.69zM988.99 1005.1h2.69v34.5h-2.69zM1026.14 1005.1h4.87v34.5h-4.87z"/></g>
<path d="M781.4 746.35H741.4V780.85H781.4M781.4 849.85H742.7V884.35H781.4M781.4 815.35H741.1V867.1H742.7M741.4 763.6H735.7V841.22H741.1M781.4 918.85H744.6V953.35H781.4M781.4 987.85H740.8V1022.35H781.4M744.6 936.1H734.5V1005.1H740.8M735.7 802.41H728.5V970.6H734.5" stroke="#222" stroke-width="0.95" fill="none"/>
<text x="1166.6" y="693.4" font-size="6.1" font-weight="bold" fill="#111">grade</text>
<text x="1166.6" y="701.6" font-size="6.1" font-weight="bold" fill="#111">gender</text>
<text x="1166.6" y="709.7" font-size="6.1" font-weight="bold" fill="#111">Age</text>
<text x="1166.6" y="717.7" font-size="6.1" font-weight="bold" fill="#111">Project</text>
<text x="1166.6" y="725.7" font-size="6.1" font-weight="bold" fill="#111">Cluster</text>
<text x="1166.6" y="748.55" font-size="6.2" fill="#333">NR1H3</text>
<text x="1166.6" y="783.05" font-size="6.2" fill="#333">TM4SF19</text>
<text x="1166.6" y="817.55" font-size="6.2" fill="#333">GINS3</text>
<text x="1166.6" y="852.05" font-size="6.2" fill="#333">NEK6</text>
<text x="1166.6" y="886.55" font-size="6.2" fill="#333">WWP2</text>
<text x="1166.6" y="921.05" font-size="6.2" fill="#333">NACC1</text>
<text x="1166.6" y="955.55" font-size="6.2" fill="#333">PRMT2</text>
<text x="1166.6" y="990.05" font-size="6.2" fill="#333">ATP2A2</text>
<text x="1166.6" y="1024.55" font-size="6.2" fill="#333">MERTK</text>
<defs><linearGradient id="gE" x1="0" y1="0" x2="0" y2="1"><stop offset="0" stop-color="#f00"/><stop offset="0.4" stop-color="#f00"/><stop offset="0.5" stop-color="#fff"/><stop offset="0.6" stop-color="#00f"/><stop offset="1" stop-color="#00f"/></linearGradient></defs><rect x="1199.8" y="686.9" width="10.2" height="151.2" fill="url(#gE)"/>
<text x="1214.2" y="716.7" font-size="6.1" fill="#333">5</text>
<text x="1214.2" y="764.7" font-size="6.1" fill="#333">0</text>
<text x="1214.2" y="812.2" font-size="6.1" fill="#333">−5</text>
<text x="1221.4" y="691.3" font-size="6.05" font-weight="bold" fill="#111">grade</text><rect x="1221.1" y="693.6" width="8.9" height="8.62" fill="#ff7dd1"/><text x="1231.7" y="699.9" font-size="6.1" fill="#333">G1</text><rect x="1221.1" y="702.22" width="8.9" height="8.62" fill="#00d0ff"/><text x="1231.7" y="708.52" font-size="6.1" fill="#333">G2</text><rect x="1221.1" y="710.84" width="8.9" height="8.62" fill="#00d977"/><text x="1231.7" y="717.14" font-size="6.1" fill="#333">G3</text><rect x="1221.1" y="719.46" width="8.9" height="8.62" fill="#cc99ff"/><text x="1231.7" y="725.76" font-size="6.1" fill="#333">High Grade</text>
<text x="1221.4" y="739.3" font-size="6.05" font-weight="bold" fill="#111">gender</text><rect x="1221.1" y="741.3" width="8.9" height="8.5" fill="#00dbc0"/><text x="1231.7" y="747.6" font-size="6.1" fill="#333">FEMALE</text>
<text x="1221.4" y="760.8" font-size="6.05" font-weight="bold" fill="#111">Age</text><rect x="1221.1" y="763.1" width="8.9" height="8.65" fill="#ff83fa"/><text x="1231.7" y="769.4" font-size="6.1" fill="#333">&lt;=65</text><rect x="1221.1" y="771.75" width="8.9" height="8.65" fill="#7acc00"/><text x="1231.7" y="778.05" font-size="6.1" fill="#333">&gt;65</text><rect x="1221.1" y="780.4" width="8.9" height="8.65" fill="#f5a010"/><text x="1231.7" y="786.7" font-size="6.1" fill="#333">unknow</text>
<text x="1221.4" y="799.8" font-size="6.05" font-weight="bold" fill="#111">Project</text><rect x="1221.1" y="802.1" width="8.9" height="8.5" fill="#ff8f88"/><text x="1231.7" y="808.4" font-size="6.1" fill="#333">TCGA</text>
<text x="1221.4" y="821.6" font-size="6.05" font-weight="bold" fill="#111">Cluster</text><rect x="1221.1" y="823.6" width="8.9" height="8.65" fill="#0066ff"/><text x="1231.7" y="829.9" font-size="6.1" fill="#333">A</text><rect x="1221.1" y="832.25" width="8.9" height="8.65" fill="#ff9900"/><text x="1231.7" y="838.55" font-size="6.1" fill="#333">B</text>
</g>
<g id="panelF">
<text transform="translate(1314.6 606.0) scale(0.91 1)" font-size="30.5" font-weight="bold">F</text>
<path d="M1410.4 698.3V1007.4H1790.7" stroke="#222" stroke-width="1.5" fill="none"/>
<path d="M1407.1 953.35H1410.4M1407.1 897.3H1410.4M1407.1 841.25H1410.4M1407.1 785.2H1410.4M1407.1 729.15H1410.4M1513.9 1007.4V1010.8M1686.6 1007.4V1010.8" stroke="#222" stroke-width="1.1" fill="none"/>
<text x="1403" y="958.55" font-size="15.25" text-anchor="end" fill="#111">−1000</text>
<text x="1403" y="902.5" font-size="15.25" text-anchor="end" fill="#111">0</text>
<text x="1403" y="846.45" font-size="15.25" text-anchor="end" fill="#111">1000</text>
<text x="1403" y="790.4" font-size="15.25" text-anchor="end" fill="#111">2000</text>
<text x="1403" y="734.35" font-size="15.25" text-anchor="end" fill="#111">3000</text>
<text x="1513.9" y="1026" font-size="15.25" text-anchor="middle" fill="#111">A</text>
<text x="1686.6" y="1026" font-size="15.25" text-anchor="middle" fill="#111">B</text>
<text x="1352.3" y="852.5" font-size="15.55" text-anchor="middle" fill="#111" transform="rotate(-90 1352.3 852.5)">ImmuneScore</text>
<path d="M1513.9 855.4V898.4M1513.9 960.8V983.2" stroke="#111" stroke-width="1.45" fill="none"/>
<rect x="1453.4" y="898.4" width="120.9" height="62.4" fill="#9b1915" stroke="#111" stroke-width="1.45"/>
<path d="M1453.4 934.6H1574.3" stroke="#000" stroke-width="2.4" fill="none"/>
<path d="M1686.6 800.2V882.4M1686.6 944.2V993.6" stroke="#111" stroke-width="1.45" fill="none"/>
<rect x="1625.9" y="882.4" width="121.5" height="61.8" fill="#1f961f" stroke="#111" stroke-width="1.45"/>
<path d="M1625.9 913.1H1747.4" stroke="#000" stroke-width="2.4" fill="none"/>
<circle cx="1686.6" cy="725.7" r="3" fill="#000"/>
<path d="M1513.9 720.4V712.1H1686.6V720.4" stroke="#333" stroke-width="0.9" fill="none"/>
<text x="1600.2" y="708.9" font-size="13.9" text-anchor="middle" fill="#111">0.043</text>
<text x="1531.6" y="669" font-size="15.3" fill="#111">cluster</text>
<path d="M1595.7 655V672.7" stroke="#111" stroke-width="1.2" fill="none"/>
<rect x="1587" y="658.3" width="17.5" height="11.6" fill="#9b1915" stroke="#111" stroke-width="1.2"/>
<path d="M1587 664.1H1604.5" stroke="#111" stroke-width="1.2" fill="none"/>
<text x="1614.4" y="668.9" font-size="12.4" fill="#111">A</text>
<path d="M1641.9 655V672.7" stroke="#111" stroke-width="1.2" fill="none"/>
<rect x="1633.2" y="658.3" width="17.5" height="11.6" fill="#1f961f" stroke="#111" stroke-width="1.2"/>
<path d="M1633.2 664.1H1650.7" stroke="#111" stroke-width="1.2" fill="none"/>
<text x="1661" y="668.9" font-size="12.4" fill="#111">B</text>
</g>
</svg>
</body>
</html>
